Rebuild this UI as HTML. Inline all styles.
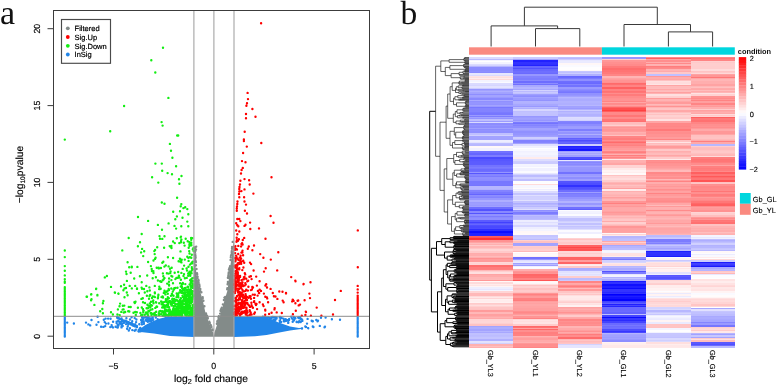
<!DOCTYPE html>
<html><head><meta charset="utf-8"><style>
html,body{margin:0;padding:0;background:#fff;width:778px;height:386px;overflow:hidden}
svg{display:block;will-change:transform;text-rendering:geometricPrecision;filter:blur(0.3px)}
</style></head><body>
<svg width="778" height="386" viewBox="0 0 778 386">
<rect width="778" height="386" fill="#fff"/>
<defs><clipPath id="pc"><rect x="53.5" y="10.5" width="316.0" height="338.0"/></clipPath></defs>
<g clip-path="url(#pc)">
<path d="M193.9 248 L194 249 L194.8 260 L195.8 269 L197.5 280 L199.1 288 L202.7 300 L205.6 313.5 L208.8 322 L213.2 332.7 L213.8 336.8 L193.9 336.8Z M233.9 236 L233.8 239 L232.2 253.3 L229.9 268.9 L229.2 275 L227.6 290 L223.3 304.5 L220.7 313.5 L218.8 319.4 L214.4 332.7 L213.8 336.8 L233.9 336.8Z" fill="#838B89"/>
<path d="M195.1 247.8h0M195.6 246.9h0M195.5 250.4h0M194.7 252.1h0M194.7 251.2h0M194.7 247.1h0M195.3 255.9h0M194.8 248.7h0M195.6 257.4h0M195.5 250.8h0M196.2 246.6h0M196 249.5h0M194.8 247.4h0M195.1 255.8h0M195.9 265.2h0M199.3 284.4h0M194.7 251.3h0M198.6 282.5h0M200.6 291.6h0M207 315.6h0M202.7 298.5h0M198.4 279.8h0M199.6 286.1h0M199.8 288.5h0M207.8 318.4h0M197.6 276.6h0M204.4 306.2h0M203.4 300.8h0M206 313.4h0M197 273.2h0M195.3 254.1h0M195.3 260.5h0M195.8 262.2h0M209.8 322.9h0M202.7 298.6h0M210.7 325h0M199.2 287.1h0M195.8 261.6h0M197.2 274.3h0M196.5 269h0M198.7 284.5h0M207.8 317.9h0M206.1 314h0M211.2 326.2h0M195.5 256h0M195.1 251.3h0M198.6 280.4h0M195.6 260.9h0M195.3 258.6h0M195.8 262.3h0M198.1 281h0M200.3 289h0M198.3 282.1h0M195.2 260.2h0M200.2 289.8h0M194.7 254.8h0M212.7 329.4h0M198.2 281.3h0M202.7 297.3h0M197.5 277.9h0M212.9 329.9h0M201.4 292.3h0M195 252.1h0M209.3 321.6h0M195.9 262h0M195.8 265.6h0M211.5 327.1h0M209.7 322.9h0M218.9 316.3h0M216.9 323.8h0M227.2 289.2h0M231 255.3h0M230 266.2h0M221.8 307.7h0M231.8 253.5h0M221.6 309.2h0M227.4 288.1h0M230.8 257.2h0M228.7 272.5h0M228.6 277h0M227.9 281.9h0M224.4 297.6h0M227.9 277.7h0M217.4 321.7h0M218.9 316.8h0M224.8 298.1h0M232.1 247h0M228.7 273.6h0M221 311.3h0M227.6 284.2h0M223.9 300h0M225.2 296.9h0M218.7 318.7h0M229.2 272.3h0M217.3 321.2h0M228.3 276.1h0M232.3 248.6h0M218.5 317.4h0M229.3 268.2h0M222.9 304.4h0M230.6 260h0M228.1 277.9h0M220.1 313.6h0M228.4 275.3h0M221 309.1h0M229.4 269.1h0M229.1 269.7h0M229.4 269.8h0M220.5 310.8h0M232 248.8h0M231.7 252.4h0M218 320.5h0M231.7 251.3h0M228 283.3h0M229.2 269.7h0M228.9 269.6h0M232.7 241.9h0M228.6 273.5h0" stroke="#838B89" stroke-width="2.4" stroke-linecap="round" fill="none"/>
<path d="M193.9 316.8 L168 316.8 L160 318.6 L152 321.5 L145 325.2 L141 328.3 L140 330.5 L136 331.5 L154 333.6 L170 335.9 L193.9 337.1Z M233.9 316.8 L262 316.8 L270 318.8 L278 322.3 L290 326.6 L299 328 L303.6 327.5 L301 329 L290 330.5 L278 332.8 L266.6 335.1 L255 336.3 L233.9 336.9Z" fill="#2185E8"/>
<path d="M129.1 323.2h0M117.5 318h0M123.1 320.9h0M130.3 323.6h0M121.6 318.5h0M119.6 318.8h0M136.7 326.1h0M137 327h0M126.5 321.1h0M140.6 328.4h0M125.3 321.6h0M132.3 323.9h0M126.8 321.8h0M120.2 319h0M118.8 318.2h0M121 318.9h0M119.1 318.8h0M133.1 324.1h0M123.8 320.6h0M128.1 322.9h0M120.9 318.8h0M140.1 328.3h0M140.3 328h0M140.2 328.1h0M124.5 320.9h0M126.2 321.7h0M128.4 322.4h0M129.2 323h0M117.2 317.4h0M126.6 322.1h0M118.1 318.2h0M122.7 320.1h0M131.1 323.2h0M132.8 324.6h0M134.2 325.7h0M124.9 320.7h0M140.6 328.9h0M132.5 325.2h0M118.1 318.4h0M132.1 323.6h0M134.6 325.7h0M129.6 323h0M129.2 323.5h0M136.9 326h0M131.1 324.5h0M133.7 324.7h0M122.6 320.2h0M125.7 321.5h0M119.6 318.9h0M132.1 323.9h0M132.1 324.2h0M117.2 317h0M136.2 326.3h0M129.9 322.9h0M132.9 325.5h0M123.1 320.5h0M118.9 318.2h0M122 320.4h0M134.8 326.2h0M126.2 321.6h0M128.5 322.5h0M131.8 323.6h0M132.5 324.8h0M123.2 320.4h0M134.9 325.5h0M117.4 318.1h0M118.5 318h0M133.6 325.8h0M133.2 324.8h0M128.2 323.1h0M128.2 323.3h0M121.9 320.3h0M140.5 328.4h0M128.1 322.5h0M136.7 327.1h0M121.8 321.3h0M128.8 330.5h0M128.3 324.6h0M124 322.8h0M135.8 329.8h0M134.7 330.7h0M122.4 323.5h0M121.7 325.4h0M119.5 323.5h0M141.7 330.4h0M140.5 331.2h0M129.9 328.2h0M127.1 328.7h0M117.7 324.9h0M124 322.5h0M121.5 327.4h0M122.7 326h0M118.7 321.3h0M118 321.1h0M116.6 323.1h0M116.6 321.7h0M121.5 326.2h0M139.7 328.6h0M126 324.1h0M117.7 325.3h0M132.3 330.1h0M120.3 322.2h0M121.2 323.9h0M138.6 330.3h0M134.6 330.6h0M127.7 326.4h0M140.9 329.6h0M138.8 331.6h0M118.5 325.6h0M135.2 324.2h0M136.1 322.1h0M131.6 317.3h0M136.4 319.5h0M139.3 324.2h0M126.4 318.3h0M134.7 318.1h0M132.2 321.3h0M130 319.5h0M141.6 322.5h0M141.9 320.7h0M147.2 319.3h0M146.1 319.4h0M151.6 319.2h0M142.4 317.5h0M149.9 318.9h0M141.9 324.4h0M151.2 321.1h0M150 318.7h0M141.1 320h0M146.6 320.9h0M152.7 317.4h0M141.8 321.5h0M142.1 317.2h0M148.4 316.8h0M141.7 319.5h0M147.8 321.7h0M149.9 320.5h0M143.1 319.1h0M142.7 317.2h0M143.3 317.9h0M153.1 319.5h0M146.4 319.6h0M147.6 318.6h0M149.8 321.4h0M143.8 322.3h0M165.7 317.3h0M148.9 318.2h0M153.1 319.8h0M143.9 323.7h0M157.7 319.3h0M151 318.4h0M146.5 319.7h0M146.5 316.9h0M146 320.4h0M155.8 317.5h0M143.7 321.3h0M143.5 318.7h0M148.6 320.3h0M146.5 316.9h0M145.4 317h0M111.6 325.1h0M113.1 321.7h0M110.6 318.8h0M105.9 323.6h0M110.3 327.1h0M113 327.4h0M103.4 326.9h0M104.7 322.1h0M117.8 327.4h0M103.8 319.7h0M108.4 323.5h0M108.1 318.6h0M105.2 326.1h0M111.8 326.5h0M67.2 322.6h0M73.9 323.5h0M86 322.6h0M88.4 324.4h0M90.2 325.4h0M91.5 320h0M97.6 316.8h0M98.4 322.1h0M96.5 324.8h0M101.1 326.8h0M105.6 318.6h0M115.6 326.8h0M117.4 327.5h0M284.6 321.2h0M274.6 319.7h0M285.9 319.8h0M289 319.9h0M280 317h0M287.4 320.2h0M294 320h0M266.4 317.7h0M279.7 317.4h0M280.1 320.4h0M293.9 320.4h0M295.4 318.2h0M302.3 320.2h0M300.2 317.3h0M299.7 318.3h0M275.1 317.1h0M269.5 317.9h0M300.4 321.6h0M298.7 318h0M294.2 317.6h0M283.8 321.3h0M284.8 320.9h0M298.2 317.5h0M285.7 319.3h0M293.4 319.9h0M302.3 320.9h0M289.2 319h0M279.7 320.4h0M298.7 317.7h0M262.9 316.8h0M276.6 317.5h0M276.6 318.4h0M285.9 320.9h0M281.5 317.7h0M300.4 318.5h0M268.1 317.5h0M288.2 322.9h0M294.1 319.6h0M272.8 316.9h0M288.4 320.7h0M292.1 318.5h0M299 317.1h0M283.8 319.6h0M271.7 317.2h0M293.9 316.9h0M286.9 320.3h0M288.3 322.5h0M274.3 317.1h0M298.5 322.3h0M291.3 316.8h0M296.6 322h0M281.1 322h0M280.6 318.4h0M292.7 321.7h0M296.7 321.8h0M279.9 322.3h0M283.5 318.7h0M300.7 322h0M275.5 318.5h0M299.2 321.2h0M275.4 320.3h0M275.7 319h0M273.6 319.7h0M266.9 317.9h0M272 317.2h0M264.3 316.9h0M273.8 317.1h0M271.4 318.6h0M265.3 317.4h0M275 320h0M301.9 319.5h0M307.6 318.9h0M311.7 320.7h0M312.8 321.3h0M317.5 321.3h0M318 320.7h0M321 317.8h0M325.6 317.6h0M331.9 319.2h0M340 319.8h0M307 323.6h0M312.8 326.5h0M313.4 327h0M308.2 328.2h0M319.8 325.9h0M325 326.8h0M305.3 326.5h0M300.9 319h0M316.3 319.9h0M312.7 321.4h0M324.5 327.2h0M308.1 328.1h0M306 327h0M302 328.5h0M64.8 317h0M357.7 317h0M64.8 318.3h0M357.7 318.3h0M64.8 319.6h0M357.7 319.6h0M64.8 320.9h0M357.7 320.9h0M64.8 322.2h0M357.7 322.2h0M64.8 323.5h0M357.7 323.5h0M64.8 324.8h0M357.7 324.8h0M64.8 326.1h0M357.7 326.1h0M64.8 327.4h0M357.7 327.4h0M64.8 328.7h0M357.7 328.7h0M64.8 330h0M357.7 330h0M64.8 331.3h0M357.7 331.3h0M64.8 332.6h0M357.7 332.6h0M64.8 333.9h0M357.7 333.9h0M64.8 335.2h0M357.7 335.2h0M64.8 336.5h0M357.7 336.5h0" stroke="#2185E8" stroke-width="2.4" stroke-linecap="round" fill="none"/>
<path d="M163 47.8h0M151.3 60.2h0M155.3 72.5h0M124.1 106h0M110.2 131.3h0M64.8 139.6h0M168.4 97.9h0M161.6 122.1h0M162.6 125.6h0M177.2 135.5h0M178.2 135.5h0M169.9 143.9h0M171 150.8h0M172.4 157.8h0M155.4 163.6h0M161.8 163.6h0M176.1 166.2h0M162.2 170.8h0M167.6 173.1h0M172 174.3h0M181.5 176h0M152.1 177.2h0M179 179.3h0M158.3 182.6h0M179.4 183.8h0M177.1 197.7h0M161.8 202.5h0M164.5 203.7h0M181.3 204.1h0M180.7 206.2h0M183.4 208.1h0M185.2 207.3h0M187.3 209.1h0M173.2 211.8h0M180 211.2h0M188.3 214.3h0M138 217h0M176.9 216.4h0M182.5 217.8h0M175.3 219.3h0M148.1 220.9h0M187.3 221.6h0M168.6 223.4h0M157.9 224.9h0M174.5 225.9h0M181.3 226.3h0M188.3 226.3h0M162 229.8h0M176.1 228.6h0M141.7 234h0M159.5 236.1h0M164.5 236.3h0M160 238.8h0M127.6 262.3h0M131.8 267.3h0M126 271.6h0M130.7 272.8h0M104.8 277.4h0M106.9 276h0M111 286.9h0M121 286.3h0M124.1 284.7h0M124.5 288.4h0M126 288h0M129.7 285.9h0M131.8 288.4h0M96.1 289h0M114.8 292.5h0M118.5 293.8h0M126.8 292.5h0M91.3 294.2h0M97.4 295h0M87 296.7h0M124.5 297.3h0M91.5 299.2h0M96.2 288.7h0M86.6 296.7h0M91.1 294.5h0M97.4 295.4h0M91.1 300.3h0M94.4 304.9h0M103.4 300.9h0M102.9 303.2h0M102.3 309h0M100.2 311.2h0M102.9 313.2h0M115 292.7h0M118.3 293.6h0M120.1 303.6h0M122.8 305.8h0M117.9 309.4h0M111 312.3h0M112.9 314.5h0M117.4 314.5h0M64.8 250.5h0M64.8 257.1h0M64.8 266.1h0M64.8 270.8h0M64.8 275.4h0M64.8 279.3h0M64.8 282.7h0M64.8 281.8h0M64.8 287.3h0M64.8 288.7h0M64.8 290.1h0M64.8 291.5h0M64.8 292.9h0M64.8 294.3h0M64.8 295.7h0M64.8 297.1h0M64.8 298.5h0M64.8 299.9h0M64.8 301.3h0M64.8 302.7h0M64.8 304.1h0M64.8 305.5h0M64.8 306.9h0M64.8 308.3h0M64.8 309.7h0M64.8 311.1h0M64.8 312.5h0M64.8 313.9h0M64.8 315.3h0M192.5 315.8h0M190.8 315.9h0M191.2 315.6h0M190.4 315.9h0M189.9 315.4h0M190 315.9h0M189.6 315.6h0M188.8 315.9h0M186.5 315.9h0M186.4 315.6h0M181.7 316h0M182.3 315.1h0M181.5 315.5h0M181.6 315.9h0M180.3 315.3h0M179.1 315.6h0M177 315.2h0M176 315.7h0M173.8 315.4h0M174.1 315.6h0M174.4 315.5h0M171.4 315.7h0M171.2 315.5h0M169 315.3h0M169.3 315.6h0M168.2 315.9h0M167.6 315.5h0M167.2 315.4h0M165.2 315.7h0M164 315.7h0M162.7 315.7h0M151.5 315.3h0M141.1 315.3h0M193.6 314.3h0M192.8 314.3h0M191.7 314.1h0M191 314.8h0M187.5 314.2h0M185.8 314.5h0M185.5 314.4h0M185.2 314.4h0M185.3 314.2h0M185.1 314.8h0M182.2 315h0M181.2 314.2h0M179 314.3h0M179.3 314.7h0M178.1 314.5h0M175.8 314.8h0M174.8 315.1h0M175 314.5h0M173.2 314.6h0M172.3 314.7h0M171.4 314.3h0M166.4 314.8h0M166.4 314.5h0M165.7 314.4h0M164.7 314.8h0M161 314.3h0M160.1 314.5h0M159 314.9h0M156.5 315.1h0M155 314.7h0M154.1 314.8h0M148.1 315.1h0M144.7 314.7h0M142.3 315h0M142.1 314.9h0M135.8 315h0M119.7 315.1h0M193.4 313.4h0M193.5 313.2h0M192.3 313.5h0M191.6 313.3h0M190.1 313.7h0M188.8 313.3h0M188.6 313.1h0M187.1 313.1h0M186.9 313.5h0M185 313.5h0M184.8 313.3h0M180.9 313.2h0M179.4 313.2h0M178.9 313.4h0M178.8 313.8h0M176.9 313.2h0M177.5 313.5h0M176.5 313.8h0M175.6 313.3h0M174.9 313.9h0M174.2 313.5h0M174.5 313.9h0M174.5 313.4h0M172.2 314h0M170.6 313.5h0M169.1 313.8h0M165.1 313.8h0M164.9 313.7h0M163.7 313.8h0M164.7 313.9h0M158.8 313.2h0M154.1 313.5h0M153.3 313.7h0M151.7 313.8h0M151.3 313.2h0M150.7 313.3h0M147.6 313.3h0M146.4 313.5h0M193.6 312.9h0M193.6 312.4h0M191.8 312.8h0M191.4 312.3h0M190.2 312.8h0M188.7 313h0M188.2 312.8h0M188.4 312.9h0M187.4 312.2h0M187.6 312.4h0M187.4 312.1h0M187.7 312.3h0M186.7 312.3h0M185.3 312.2h0M183.5 312.3h0M182.6 313h0M181.4 312.9h0M180.1 312.9h0M180.6 312.4h0M179.6 312.3h0M177.7 312.2h0M177.2 312.2h0M174.5 312.7h0M173.2 312.7h0M172 312.3h0M171 312.7h0M169.8 312.1h0M164.5 313h0M162.6 312.4h0M154.7 313h0M146.1 312.4h0M143.3 312.3h0M140.4 312.9h0M136.8 312.3h0M133.5 312.7h0M123.8 312.5h0M192.2 311.2h0M191.2 311.7h0M190.4 311.5h0M188.4 311.6h0M188.2 312h0M184.5 312h0M183.1 311.4h0M183.5 311.4h0M182.1 311.6h0M178.1 312.1h0M176.1 311.6h0M173.9 311.9h0M172.6 311.7h0M170.5 311.1h0M169.4 311.7h0M167.9 311.3h0M165.9 311.6h0M164.8 312h0M163.9 311.5h0M162.3 311.3h0M161.3 311.6h0M159.3 311.5h0M156.2 311.7h0M148.9 311.3h0M148.3 311.2h0M143.2 311.1h0M135.2 312h0M129.3 311.5h0M128.2 311.3h0M125.2 312h0M121.3 311.9h0M193.5 310.5h0M191.7 310.5h0M190.4 310.4h0M187.5 310.6h0M187.1 310.8h0M185.7 310.5h0M185.5 310.3h0M180.9 311h0M181.7 310.3h0M179.5 310.8h0M177.3 310.7h0M177.6 310.2h0M176.1 310.9h0M176.7 310.2h0M174.8 310.3h0M172.8 310.9h0M173.3 310.4h0M169.9 310.9h0M166.1 311h0M160.5 310.9h0M150.3 310.3h0M143.7 310.6h0M192.1 309.7h0M191.6 309.8h0M188.3 309.2h0M187.4 310.1h0M187 309.4h0M187.3 309.7h0M185.9 309.7h0M186.1 309.9h0M184.7 309.9h0M184.5 309.8h0M184.3 310.1h0M181.9 309.5h0M181.3 309.4h0M178.7 309.2h0M178.1 310.1h0M174.8 309.4h0M173 309.3h0M169.8 309.4h0M169.2 310h0M169 309.7h0M166.9 310.1h0M166.4 309.6h0M165.2 309.9h0M152.4 309.2h0M123.6 309.4h0M122.6 309.6h0M192.4 308.9h0M192.6 309.1h0M191.9 308.3h0M192.4 308.9h0M190.9 308.3h0M191 308.8h0M191.5 308.3h0M189.3 308.3h0M185.9 308.4h0M185.5 308.8h0M185.1 309h0M185 308.9h0M184.7 308.7h0M184.5 308.4h0M182.4 308.4h0M182.2 308.7h0M182.4 308.7h0M181.4 308.7h0M181.1 308.8h0M181.5 309h0M178.8 308.1h0M178.7 308.5h0M178 308.5h0M176.1 308.8h0M176.4 308.2h0M173.6 308.4h0M164.6 308.2h0M148 308.3h0M146.6 308.3h0M142.9 309h0M193.1 308h0M193.2 307.3h0M193.6 307.2h0M192.5 307.7h0M191.7 308h0M190.9 307.9h0M190 307.7h0M187.9 307.2h0M188.7 307.8h0M186.7 307.9h0M185.9 307.4h0M183.9 307.7h0M183.4 307.9h0M182.8 307.5h0M179.3 307.7h0M177.7 307.6h0M176.6 307.4h0M169.1 307.3h0M168.8 307.3h0M163.8 307.4h0M162.2 307.5h0M155.3 307.9h0M150.3 307.5h0M141.8 307.5h0M137.9 307.7h0M192.9 306.2h0M188.8 306.9h0M189.4 306.4h0M188 306.8h0M186.1 306.8h0M185.4 306.6h0M183.1 306.4h0M183.4 307h0M183.5 307h0M181.9 306.7h0M181.1 306.4h0M180 306.8h0M179.4 306.3h0M178.7 306.6h0M177.6 307.1h0M175.3 306.1h0M173.7 307h0M168.6 306.9h0M167.5 307.1h0M165.7 306.6h0M163.4 306.2h0M157.1 306.7h0M156.5 306.8h0M156.4 306.7h0M150.1 306.9h0M149.4 306.3h0M130.7 307h0M128.8 306.9h0M119.5 306.3h0M193.2 305.9h0M192.7 305.1h0M190.2 306h0M189 306h0M188.6 305.7h0M187.5 305.1h0M186.8 305.4h0M181.1 305.7h0M179.2 305.6h0M178.3 305.8h0M178.3 305.1h0M178.3 305.7h0M175.1 305.2h0M173.5 305.9h0M171.7 305.4h0M171.4 305.5h0M168 305.2h0M165.1 305.4h0M152 305.6h0M148.2 305.6h0M124.3 305.6h0M193.3 304.8h0M189.5 304.4h0M185.1 304.2h0M182.3 305.1h0M179.3 304.5h0M178.3 304.5h0M176.7 304.4h0M175.6 304.3h0M171.1 304.6h0M171.2 304.3h0M168.2 304.6h0M167 304.7h0M163.6 304.9h0M161.6 304.3h0M150.8 305h0M147.4 304.8h0M191 303.3h0M189.8 303.7h0M189.3 303.5h0M187.1 303.9h0M186.2 303.4h0M186 303.8h0M183.8 303.9h0M181 303.8h0M180.8 303.4h0M177.9 303.8h0M171.9 303.9h0M171.7 303.7h0M171.1 303.9h0M162.8 303.1h0M162.4 303.8h0M159.2 303.2h0M153.5 303.2h0M149.8 303.4h0M191.2 302.6h0M189.2 302.6h0M181.8 303.1h0M180.9 302.5h0M179.9 302.9h0M174.1 302.9h0M172.6 302.9h0M170.1 302.4h0M168.9 302.6h0M167.8 302.7h0M156.2 302.6h0M155.9 302.2h0M145 303h0M143 302.3h0M134.8 303h0M134.4 302.3h0M192.1 301.3h0M191.9 302.1h0M191.6 301.3h0M189.4 301.9h0M187.6 301.8h0M187 301.7h0M186 302.1h0M185.9 301.9h0M184.5 301.2h0M183.3 301.6h0M181.7 301.9h0M181.2 302.1h0M178.9 301.8h0M175.3 301.2h0M174.6 301.5h0M172 301.5h0M168.3 301.1h0M166.1 301.7h0M164 302.1h0M161.1 301.5h0M161.7 301.7h0M152.9 301.4h0M151 301.8h0M135.5 301.8h0M191.1 300.4h0M190.3 300.2h0M189.1 300.8h0M187.9 300.5h0M186.5 301h0M185 300.7h0M184.4 300.5h0M182.9 300.7h0M182.8 300.4h0M180.5 300.2h0M177.6 300.8h0M173.1 300.7h0M169.9 300.9h0M165.9 300.5h0M165.8 301h0M153.3 300.4h0M192.5 299.2h0M190.7 300h0M191.2 300h0M191.2 299.4h0M190.4 299.9h0M186.3 299.9h0M185.4 299.5h0M183.8 299.2h0M184 299.4h0M180.1 299.8h0M176.7 299.9h0M174.6 300h0M174.5 299.3h0M172.2 299.3h0M172.6 300h0M165.8 299.1h0M192.5 298.1h0M192.5 298.7h0M191 299.1h0M191.6 298.1h0M190.7 298.9h0M189 298.2h0M188.5 299.1h0M187.9 299h0M186.9 298.9h0M187.2 299h0M185.8 298.5h0M185.9 298.6h0M186.1 298.5h0M185.6 298.6h0M180.9 298.3h0M174.3 299h0M172.6 298.7h0M167.7 299h0M157.9 298.2h0M149 298.8h0M142.8 298.3h0M141.4 298.9h0M192.8 297.4h0M192.5 297.8h0M191.4 297.4h0M190.3 297.4h0M188.9 297.9h0M186.4 297.1h0M185 297.5h0M184.6 298h0M178.4 297.3h0M168.9 298.1h0M167.8 297.3h0M163 297.5h0M158 297.5h0M152 298h0M189.6 296.9h0M187.8 296.1h0M186.8 296.6h0M184.6 296.8h0M183 297h0M176.5 297.1h0M162.8 296.7h0M162.5 296.5h0M161.5 297.1h0M155 297.1h0M154.2 296.6h0M152.7 296.5h0M149.5 296.1h0M193.4 295.2h0M193.3 296h0M192.7 295.8h0M190.2 295.3h0M189.9 295.4h0M185.9 295.2h0M185.6 295.2h0M182.5 295.7h0M178.2 295.4h0M177.2 295.4h0M173.5 295.7h0M172.3 295.1h0M171 295.7h0M158.3 295.4h0M149.9 295.5h0M146.9 295.8h0M127.6 295.2h0M189.4 294.3h0M188.2 294.9h0M187.6 294.9h0M186 294.9h0M185.1 294.9h0M185 294.3h0M184.6 294.4h0M165.4 294.4h0M158.4 294.8h0M150.2 294.9h0M192.6 293.3h0M191.6 293.7h0M189.4 293.3h0M183.5 293.3h0M178.4 293.4h0M176.7 293.5h0M177.4 293.6h0M171.9 293.8h0M167.8 293.8h0M154.9 293.3h0M138.9 293.3h0M191.5 292.8h0M191.5 293h0M188.6 293h0M187.2 292.7h0M186.1 292.2h0M186.2 292.2h0M184.8 292.5h0M182.2 292.7h0M181.5 292.7h0M179.6 292.2h0M164.3 292.4h0M163.8 292.9h0M154.9 292.9h0M154.8 292.5h0M144.8 292.5h0M192.9 291.2h0M191.6 292h0M190.6 291.6h0M187.9 291.9h0M172.8 291.6h0M166.3 291.7h0M147.3 291.2h0M191.4 290.8h0M190 291.1h0M187.5 291h0M184.8 290.2h0M182.8 290.7h0M181.3 291h0M180.1 290.1h0M167.7 290.7h0M164.5 290.9h0M164.5 290.7h0M149.8 290.5h0M123.4 290.3h0M190.8 289.3h0M188.8 289.5h0M186.9 290h0M184 289.8h0M174.1 289.3h0M173.9 289.6h0M173.8 289.7h0M173.6 289.4h0M169 290h0M184.5 288.2h0M182.1 288.1h0M182.3 288.6h0M174.3 288.2h0M171.3 288.5h0M168.7 289h0M160 289.1h0M160.7 288.7h0M159.1 289.1h0M144 289h0M142 288.8h0M137 288.9h0M137 288.5h0M192.9 287.9h0M188 287.3h0M185.5 288h0M177.5 287.8h0M175.3 287.9h0M149.4 287.4h0M141.6 287.6h0M192 286.7h0M190.7 286.7h0M188.1 286.9h0M187.6 286.7h0M181.8 286.3h0M181.8 286.5h0M180.8 286.5h0M159.3 286.8h0M193.3 285.8h0M192.5 285.8h0M190.8 285.2h0M191.3 285.9h0M190.6 285.2h0M169.1 285.5h0M154.8 285.9h0M146.3 285.9h0M135.2 285.9h0M193.4 284.5h0M189.6 284.4h0M185.3 284.1h0M169 284.6h0M192.8 283.8h0M182.7 283.7h0M182.9 283.8h0M182 283.9h0M180.1 283.2h0M173 283.3h0M167.2 283.6h0M190.6 282.9h0M182.8 282.9h0M141.7 282.3h0M193.3 281.2h0M192.1 281.5h0M191.6 281.8h0M169 281.7h0M161.3 281.9h0M160.1 281.3h0M192.4 280.9h0M191 281h0M190.1 280.2h0M162.7 280.2h0M157.9 280.5h0M126.9 280.9h0M190.9 279.4h0M180.9 279.8h0M171.4 280.1h0M163.7 279.2h0M191.9 278.5h0M192.5 278.1h0M184.9 278.3h0M175.4 279.1h0M169.1 278.5h0M152.7 278.2h0M134.2 278.5h0M193.3 277.9h0M186.7 277.9h0M179.4 277.6h0M177.9 277.7h0M176.4 277.9h0M164.5 278.1h0M155.9 277.2h0M172.3 276.5h0M163.3 276.3h0M139.9 276.3h0M190.3 275.7h0M188.2 275.7h0M183.5 276h0M178.9 275.7h0M171.4 276h0M147.2 275.5h0M191.6 273.2h0M190 273.9h0M188.2 273.4h0M184 274.1h0M170.3 273.1h0M168.5 273.6h0M166.9 273.3h0M162.9 273.4h0M126.5 274h0M190.7 272.3h0M181.4 272.9h0M174.7 272.8h0M153.5 273h0M189.5 271.8h0M178.2 272h0M170.6 271.5h0M191.7 270.6h0M187 270.6h0M153.4 271.1h0M151.9 271h0M192.7 269.3h0M191.9 268.6h0M186.6 268.4h0M182.7 268.9h0M170 268.8h0M158.8 268.4h0M151.7 269h0M171.7 267.7h0M160.9 268h0M158.6 267.7h0M156.7 267.8h0M129.2 267.3h0M191.8 267.1h0M188.5 266.7h0M168.6 266.4h0M164.4 266.6h0M137.4 266.9h0M131.8 266.7h0M184.1 265.6h0M165.8 265.4h0M150.9 266.1h0M190 264.6h0M192.5 263.3h0M191.2 263.5h0M181.4 262.4h0M181.2 262.2h0M162.3 262.8h0M192.9 261.6h0M192.4 261.9h0M180.2 261.5h0M178.6 261.2h0M163.3 261.7h0M148.1 262h0M188.6 260.9h0M181.4 260.2h0M153.5 260.5h0M184.8 259.6h0M181.7 259.7h0M179.9 258.8h0M155 258.9h0M191.3 257.8h0M189.9 257.2h0M188.3 257.7h0M173.1 258h0M167.9 257.2h0M155.6 257.8h0M187.3 256.8h0M143.2 256.1h0M191.8 254.8h0M189.5 253.5h0M154.7 254.1h0M141.1 252.4h0M189.2 251.1h0M180.5 251.4h0M154.3 251.1h0M144.2 251.3h0M193.6 250.9h0M122.3 250.4h0M192.8 249.3h0M155.1 250h0M142.1 248.9h0M193.5 248h0M188.7 247.7h0M171.5 248h0M164.1 247.8h0M157.2 247.3h0M169.7 246.1h0M170.2 246.5h0M137.9 246.3h0M191.4 245.3h0M189.5 245.8h0M184.6 245.6h0M171.4 245.9h0M189.4 244.3h0M191.2 244.1h0M191.3 242.8h0M189.5 242.1h0M183.8 242.7h0M181 242.3h0M179.3 243.1h0M174.8 243.1h0M140 242.3h0M187.7 241.2h0M181 241.3h0M173.1 241.5h0M191.2 239.7h0M181.4 239.6h0M192.3 238.1h0M185.7 238.8h0M176.8 238.2h0M162.3 238.9h0M191.1 238h0M180.7 237.3h0M128.7 238h0M181 236.6h0" stroke="#12EE12" stroke-width="2.4" stroke-linecap="round" fill="none"/>
<path d="M261.1 23.3h0M247.6 92.9h0M248 99.1h0M247 103.2h0M246.4 105.7h0M252.4 109h0M246 114h0M255.5 116.7h0M246 118.2h0M244.7 131.8h0M243.9 139.5h0M243.9 141h0M261.3 143h0M246.8 146.6h0M243.1 153h0M242 161.1h0M245.5 162.3h0M242.8 167.9h0M241.6 170h0M241 173.5h0M271.5 177.2h0M240.4 180.7h0M244.5 179.1h0M249.1 180.3h0M240 184.5h0M249.7 184.5h0M239.5 186.9h0M239.3 189h0M239.3 191.5h0M239 194h0M239.3 197.3h0M244.5 189.4h0M241.4 191.1h0M253.4 193.6h0M244.1 197.3h0M237.5 201.5h0M237.3 204h0M237 206.5h0M236.8 208.5h0M236.8 210.8h0M244.5 201.5h0M246 204.6h0M244.9 210.8h0M247 213.5h0M270.6 216h0M237.3 219h0M239.3 219h0M240.4 221.1h0M250.1 222.6h0M273.5 222.8h0M236.2 223.2h0M237.3 225.3h0M238.3 226.3h0M245.5 224.7h0M244.5 225.9h0M259 228.4h0M250.3 229h0M236.2 230.5h0M239.3 231.5h0M237.3 234.2h0M270.8 259.6h0M295.3 280.8h0M303.5 284.3h0M266.2 284.3h0M286 293.4h0M293 300h0M297.6 300.7h0M283.6 302.3h0M275.5 296.5h0M300 304.6h0M305.8 311.6h0M357.8 230.4h0M357.8 267.3h0M295.5 281.3h0M303.6 284h0M310.5 282.2h0M340.8 290.9h0M309.4 293.6h0M310 298.1h0M335 300h0M292.7 299.6h0M292.2 301.4h0M293.6 300.9h0M298.2 300.5h0M295.4 303.2h0M298.7 305.4h0M316.7 307.6h0M295.8 310.8h0M306 312.1h0M305.4 315h0M310.9 315.7h0M301.8 315.7h0M321.4 315.7h0M333 314.5h0M357.7 285.9h0M357.7 289.4h0M357.7 292.6h0M357.7 295.6h0M357.7 296.9h0M357.7 298.2h0M357.7 299.5h0M357.7 300.8h0M357.7 302.1h0M357.7 303.4h0M357.7 304.7h0M357.7 306h0M357.7 307.3h0M357.7 308.6h0M357.7 309.9h0M357.7 311.2h0M357.7 312.5h0M357.7 313.8h0M357.7 315.1h0M235.1 315.4h0M235.6 315.7h0M236.9 315.2h0M240 315.7h0M247.5 315.7h0M234.6 314.6h0M234.3 314.2h0M236.6 314.6h0M239.3 314.1h0M245.8 314.5h0M249.7 315h0M251.6 314.5h0M265.2 314.8h0M292.9 314.3h0M236.6 314.1h0M239.5 313.6h0M240.8 313.5h0M241.5 314h0M245.9 313.3h0M246.8 313.2h0M250.6 313.6h0M254.2 313.7h0M269.1 313.9h0M234.4 312.6h0M234.7 312.7h0M236.2 312.9h0M237.9 312.8h0M241.2 312.7h0M241.9 312.6h0M242.2 312.1h0M242.6 313h0M244.4 312.6h0M245.3 312.7h0M247.6 312.2h0M250.7 312.5h0M254.9 312.5h0M271.6 312.8h0M276.7 312.4h0M281.8 313h0M234.9 311.9h0M235.6 311.4h0M237.2 311.2h0M236.6 311.2h0M237.4 311.9h0M241.8 311.7h0M242.7 311.9h0M244.5 311.2h0M250 311.2h0M236.5 310.9h0M237.8 310.9h0M237.7 310.5h0M239.2 311h0M246 311h0M247 310.5h0M246.6 310.9h0M249.7 310.2h0M265.3 310.5h0M234.6 309.3h0M235.6 309.9h0M235.5 309.2h0M237.5 310.1h0M237.3 309.3h0M239.1 309.7h0M238.6 309.2h0M239.5 310h0M246.2 310.1h0M257.1 309.1h0M265.2 309.7h0M274.5 309.4h0M235.4 309.1h0M236.5 308.2h0M241.2 308.8h0M246.5 308.2h0M274.7 308.1h0M236.5 307.7h0M236.7 308.1h0M237.5 308.1h0M238.9 307.2h0M239.5 307.5h0M239.6 307.9h0M241.5 307.6h0M242.8 307.9h0M243.7 307.8h0M243.6 307.1h0M244.2 307.1h0M244.9 307.2h0M246.5 307.7h0M252.7 307.4h0M252.9 307.7h0M234.5 306.3h0M235.6 306.4h0M235.8 306.2h0M235.9 306.7h0M238.6 307h0M240.9 306.3h0M241.4 306.4h0M243.6 306.2h0M250 306.9h0M263.6 306.1h0M235.8 305.6h0M235.3 305.4h0M237.3 305.3h0M237.3 305.4h0M237.4 305.4h0M240.7 305.1h0M241.9 305.7h0M248.8 305.3h0M251.5 305.3h0M251.8 306.1h0M256 305.1h0M236.9 304.8h0M237.9 304.6h0M242.6 304.4h0M245.2 304.7h0M262.9 304.5h0M237.1 303.4h0M236.3 303.2h0M239.1 303.6h0M243.2 303.6h0M243.9 303.5h0M244.7 303.3h0M247.7 304.1h0M255.4 303.7h0M256.5 304h0M236.1 302.3h0M238.7 302.8h0M240.8 303h0M242.1 302.5h0M243.8 303.1h0M246.4 302.7h0M247.3 302.9h0M251.4 302.7h0M259.6 302.2h0M268.1 302.3h0M235.4 301.2h0M236.3 301.5h0M242.2 301.8h0M242.8 301.5h0M244.4 302h0M244.5 301.1h0M254 301.9h0M254.2 301.1h0M234.7 300.9h0M242.1 300.3h0M282.7 300.6h0M304.6 300.3h0M235.8 299.9h0M235.7 299.3h0M236.8 299.9h0M238.5 299.7h0M240.1 299.2h0M245.7 300h0M247 299.9h0M239.1 298.2h0M243.3 298.3h0M251 298.8h0M267.2 298.4h0M277.4 298.9h0M235.4 298.1h0M235.9 297.7h0M240 297.3h0M242.8 297.2h0M245.9 297.9h0M245.2 298.1h0M247.1 297.1h0M248.4 297.8h0M249.7 297.3h0M250 297.2h0M254.1 297.9h0M266.9 297.5h0M236.9 296.1h0M237.2 296.3h0M244.6 296.4h0M246.1 296.3h0M246.9 296.9h0M249.5 296.2h0M250.6 296.3h0M265.3 296.7h0M273.9 296.3h0M238.8 295.4h0M239.4 295.2h0M239.8 295.2h0M241.3 296h0M245.8 295.7h0M257.6 295.6h0M238.8 294.8h0M239.4 294.4h0M241.1 294.6h0M240.8 294.5h0M243.1 294.8h0M242.9 294.9h0M245.6 294.1h0M252.8 294.6h0M254.8 294.8h0M238.5 294.1h0M263.9 293.6h0M235 293.1h0M238 292.1h0M239.9 292.3h0M241.7 292.8h0M258.9 293h0M259.2 293h0M272.8 293h0M286 292.9h0M234.8 291.6h0M234.3 291.8h0M243.7 291.4h0M243.7 291.4h0M279.3 291.5h0M282.5 291.7h0M235.7 290.6h0M237.9 290.9h0M238.3 290.9h0M242.6 290.3h0M245.4 290.9h0M247.9 290.6h0M257.9 290.9h0M261 290.9h0M235 289.5h0M239.1 289.1h0M246.2 289.6h0M250.9 290.1h0M251.9 289.5h0M259.6 289.6h0M235.4 288.3h0M235.9 289h0M235.3 289h0M237.9 288.7h0M238.4 288.7h0M241.5 288.5h0M270.6 288.9h0M234.6 287.7h0M240.4 287.8h0M253 287.5h0M267 287.5h0M235.8 287h0M236.4 286.1h0M240.3 286.4h0M248.4 286.7h0M252.3 286.9h0M234.8 286.1h0M236.5 285.5h0M237.6 285.3h0M238.9 285.8h0M241.1 285.6h0M241.6 286.1h0M242.7 285.6h0M243.5 286h0M244.7 285.4h0M256.9 285.6h0M265.4 285.5h0M234.4 285h0M235.4 284.2h0M238.3 285.1h0M240.2 284.5h0M240.4 284.2h0M242 284.3h0M242.9 285.1h0M245.7 284.4h0M234.5 283.8h0M236 283.6h0M235.3 283.9h0M235.3 284h0M240.7 283.2h0M245.3 283.1h0M235.4 282.5h0M237.6 282.3h0M238.7 282.7h0M242.5 282.5h0M234.8 281.4h0M235 281.4h0M236 281.5h0M236.8 281.2h0M237.3 281.9h0M247.3 281.2h0M259.6 281.2h0M238.8 280.7h0M238.2 280.8h0M241.5 280.2h0M248.2 280.7h0M234.7 280h0M238 279.7h0M237.9 280h0M237.5 279.2h0M238.7 279.7h0M243 279.4h0M243.8 279.3h0M235.3 278.5h0M239 278.4h0M238.5 279h0M246.2 278.7h0M251.6 279.1h0M235.2 278h0M236.4 277.8h0M238.9 278h0M243.9 277.1h0M244.3 277.7h0M238.2 276.8h0M238.3 276.3h0M240.1 276.9h0M244.5 276.9h0M249.4 276.7h0M250.9 276.3h0M256.2 276.6h0M291.2 277.1h0M234.8 275.7h0M237 276.1h0M237.2 275.9h0M240.1 276h0M237.9 274.9h0M237.3 275.1h0M237.5 274.3h0M245.2 274.4h0M235.3 273.8h0M235.2 273.6h0M236.7 273.1h0M244.8 273.2h0M236 272.2h0M236.7 272.8h0M237.3 272.5h0M237.9 273h0M235.5 271.2h0M237.5 271.3h0M264 271.6h0M236.7 270.4h0M253.6 270.5h0M277.2 270.4h0M239.3 269.2h0M242.3 270.1h0M237.1 269h0M236.4 268.2h0M239 269h0M265.7 268.3h0M235 267.2h0M236.8 267.2h0M239.3 268.1h0M243.4 267.5h0M234.5 266.3h0M235.1 266.5h0M234.9 265.7h0M235.2 265.5h0M237.4 265.6h0M236.8 264.6h0M251.1 264.1h0M238 263.2h0M238.9 263.3h0M239.5 263.2h0M239.3 263.9h0M241.2 263.8h0M244.2 262.8h0M250 262.6h0M235.5 261.4h0M240.4 261.7h0M241.3 261.9h0M240.6 260.2h0M243.2 260.7h0M235.7 260h0M235.7 259.2h0M238.2 259.4h0M238.8 260.1h0M236.9 258.1h0M241.1 258.4h0M235.1 258.1h0M235.6 257.7h0M239.7 257.6h0M263.4 257.7h0M236.4 256.4h0M236.1 255.6h0M240.6 255.7h0M243.1 255.3h0M260.2 254.1h0M238.2 254h0M235.1 253.1h0M241.4 252.6h0M242.4 252.6h0M278.3 252.3h0M242.5 250.7h0M252.4 250.3h0M234.9 249.9h0M237 249.5h0M235.2 248.4h0M236.1 248.9h0M235.8 248.7h0M247.8 248.7h0M234.6 246.8h0M235.4 246.1h0M241.1 246.4h0M248.8 246.5h0M238.3 245.9h0M254 245.5h0M242.6 244.5h0M241.5 243.9h0M242.1 243.1h0M236.5 241.7h0M236.9 240.1h0M236.9 240.2h0M237.1 240.5h0M238 240.7h0M238.9 239.2h0M242.8 240h0M265.5 238.7h0M236.7 237.8h0M244.2 237.9h0" stroke="#FF0000" stroke-width="2.4" stroke-linecap="round" fill="none"/>
</g>
<line x1="193.9" y1="10.5" x2="193.9" y2="348.5" stroke="#A4A4A4" stroke-width="1.1"/>
<line x1="213.9" y1="10.5" x2="213.9" y2="348.5" stroke="#A4A4A4" stroke-width="1.1"/>
<line x1="234.0" y1="10.5" x2="234.0" y2="348.5" stroke="#A4A4A4" stroke-width="1.1"/>
<line x1="53.5" y1="316.3" x2="369.5" y2="316.3" stroke="#8C8C8C" stroke-width="1"/>
<rect x="53.5" y="10.5" width="316.0" height="338.0" fill="none" stroke="#3C3C3C" stroke-width="1"/>
<path d="M113.5 348.5V354.5M213.8 348.5V354.5M314.1 348.5V354.5M47.5 336.2H53.5M47.5 259.3H53.5M47.5 182.4H53.5M47.5 105.6H53.5M47.5 28.7H53.5" stroke="#3C3C3C" stroke-width="1" fill="none"/>
<text x="113.5" y="369" font-size="8.8" text-anchor="middle" fill="#000" stroke="#000" stroke-width="0.15" font-family="Liberation Sans, sans-serif">−5</text>
<text x="213.8" y="369" font-size="8.8" text-anchor="middle" fill="#000" stroke="#000" stroke-width="0.15" font-family="Liberation Sans, sans-serif">0</text>
<text x="314.1" y="369" font-size="8.8" text-anchor="middle" fill="#000" stroke="#000" stroke-width="0.15" font-family="Liberation Sans, sans-serif">5</text>
<text transform="translate(40 336.2) rotate(-90)" font-size="8.8" text-anchor="middle" fill="#000" stroke="#000" stroke-width="0.15" font-family="Liberation Sans, sans-serif">0</text>
<text transform="translate(40 259.3) rotate(-90)" font-size="8.8" text-anchor="middle" fill="#000" stroke="#000" stroke-width="0.15" font-family="Liberation Sans, sans-serif">5</text>
<text transform="translate(40 182.4) rotate(-90)" font-size="8.8" text-anchor="middle" fill="#000" stroke="#000" stroke-width="0.15" font-family="Liberation Sans, sans-serif">10</text>
<text transform="translate(40 105.6) rotate(-90)" font-size="8.8" text-anchor="middle" fill="#000" stroke="#000" stroke-width="0.15" font-family="Liberation Sans, sans-serif">15</text>
<text transform="translate(40 28.7) rotate(-90)" font-size="8.8" text-anchor="middle" fill="#000" stroke="#000" stroke-width="0.15" font-family="Liberation Sans, sans-serif">20</text>
<text x="211" y="382" font-size="10.3" text-anchor="middle" fill="#000" stroke="#000" stroke-width="0.15" font-family="Liberation Sans, sans-serif">log<tspan font-size="7.2" dy="2">2</tspan><tspan dy="-2"> fold change</tspan></text>
<text transform="translate(23.2 174.6) rotate(-90)" font-size="10.3" text-anchor="middle" fill="#000" stroke="#000" stroke-width="0.15" font-family="Liberation Sans, sans-serif">−log<tspan font-size="6.6" dy="2">10</tspan><tspan dy="-2">pvalue</tspan></text>
<rect x="61.5" y="19.5" width="49" height="43.8" fill="#fff" stroke="#4A4A4A" stroke-width="1.15"/>
<circle cx="67.8" cy="28.3" r="1.9" fill="#838B89"/>
<text x="74.6" y="31" font-size="7.5" fill="#000" stroke="#000" stroke-width="0.2" font-family="Liberation Sans, sans-serif">Filtered</text>
<circle cx="67.8" cy="37" r="1.9" fill="#FF0000"/>
<text x="74.6" y="39.7" font-size="7.5" fill="#000" stroke="#000" stroke-width="0.2" font-family="Liberation Sans, sans-serif">Sig.Up</text>
<circle cx="67.8" cy="45.8" r="1.9" fill="#12EE12"/>
<text x="74.6" y="48.5" font-size="7.5" fill="#000" stroke="#000" stroke-width="0.2" font-family="Liberation Sans, sans-serif">Sig.Down</text>
<circle cx="67.8" cy="54.5" r="1.9" fill="#2185E8"/>
<text x="74.6" y="57.2" font-size="7.5" fill="#000" stroke="#000" stroke-width="0.2" font-family="Liberation Sans, sans-serif">InSig</text>
<text x="0" y="23.8" font-size="34" fill="#111" font-family="Liberation Serif, serif">a</text>
<text x="400.6" y="23.8" font-size="33.5" fill="#111" font-family="Liberation Serif, serif">b</text>
<g shape-rendering="crispEdges"><rect x="469" y="57" width="44.7" height="1.8" fill="#dbdbff"/><rect x="469" y="58.5" width="44.7" height="1.3" fill="#bbbbff"/><rect x="469" y="59.5" width="44.7" height="1.8" fill="#f3f3ff"/><rect x="469" y="61" width="44.7" height="1.3" fill="#fefeff"/><rect x="469" y="62" width="44.7" height="1.8" fill="#f3f3ff"/><rect x="469" y="63.5" width="44.7" height="1.3" fill="#dbdbff"/><rect x="469" y="64.5" width="44.7" height="1.3" fill="#d3d3ff"/><rect x="469" y="65.5" width="44.7" height="2.1" fill="#b5b5ff"/><rect x="469" y="67.3" width="44.7" height="2.3" fill="#8c8cff"/><rect x="469" y="69.3" width="44.7" height="1.8" fill="#8b8bff"/><rect x="469" y="70.8" width="44.7" height="1.8" fill="#8e8eff"/><rect x="469" y="72.3" width="44.7" height="1.2" fill="#8989ff"/><rect x="469" y="73.2" width="44.7" height="2.3" fill="#e6e6ff"/><rect x="469" y="75.2" width="44.7" height="0.9" fill="#dadaff"/><rect x="469" y="75.8" width="44.7" height="1.3" fill="#ffe3e3"/><rect x="469" y="76.8" width="44.7" height="1.3" fill="#ffdede"/><rect x="469" y="77.8" width="44.7" height="1.8" fill="#ffecec"/><rect x="469" y="79.3" width="44.7" height="1" fill="#ffd9d9"/><rect x="469" y="80" width="44.7" height="2.3" fill="#f3f3ff"/><rect x="469" y="82" width="44.7" height="0.9" fill="#fafaff"/><rect x="469" y="82.6" width="44.7" height="2.3" fill="#dadaff"/><rect x="469" y="84.6" width="44.7" height="1.8" fill="#d5d5ff"/><rect x="469" y="86.1" width="44.7" height="2.3" fill="#e2e2ff"/><rect x="469" y="88.1" width="44.7" height="0.8" fill="#cbcbff"/><rect x="469" y="88.6" width="44.7" height="1.3" fill="#9595ff"/><rect x="469" y="89.6" width="44.7" height="1.3" fill="#a2a2ff"/><rect x="469" y="90.6" width="44.7" height="1.3" fill="#afafff"/><rect x="469" y="91.6" width="44.7" height="1.8" fill="#a3a3ff"/><rect x="469" y="93.1" width="44.7" height="1.3" fill="#a1a1ff"/><rect x="469" y="94.1" width="44.7" height="1.3" fill="#8e8eff"/><rect x="469" y="95.1" width="44.7" height="2.3" fill="#a3a3ff"/><rect x="469" y="97.1" width="44.7" height="1.3" fill="#9999ff"/><rect x="469" y="98.1" width="44.7" height="1.8" fill="#8989ff"/><rect x="469" y="99.6" width="44.7" height="1.8" fill="#a9a9ff"/><rect x="469" y="101.1" width="44.7" height="1.3" fill="#9090ff"/><rect x="469" y="102.1" width="44.7" height="2.3" fill="#9595ff"/><rect x="469" y="104.1" width="44.7" height="1.3" fill="#9393ff"/><rect x="469" y="105.1" width="44.7" height="1.3" fill="#a3a3ff"/><rect x="469" y="106.1" width="44.7" height="1.2" fill="#9999ff"/><rect x="469" y="107" width="44.7" height="1.3" fill="#7878ff"/><rect x="469" y="108" width="44.7" height="2.3" fill="#8484ff"/><rect x="469" y="110" width="44.7" height="1.8" fill="#8383ff"/><rect x="469" y="111.5" width="44.7" height="1.3" fill="#7b7bff"/><rect x="469" y="112.5" width="44.7" height="2.3" fill="#7777ff"/><rect x="469" y="114.5" width="44.7" height="1.3" fill="#9a9aff"/><rect x="469" y="115.5" width="44.7" height="1.8" fill="#7d7dff"/><rect x="469" y="117" width="44.7" height="0.6" fill="#7474ff"/><rect x="469" y="117.3" width="44.7" height="1.3" fill="#a2a2ff"/><rect x="469" y="118.3" width="44.7" height="1.3" fill="#9494ff"/><rect x="469" y="119.3" width="44.7" height="2.3" fill="#bebeff"/><rect x="469" y="121.3" width="44.7" height="0.5" fill="#9c9cff"/><rect x="469" y="121.5" width="44.7" height="1.3" fill="#d9d9ff"/><rect x="469" y="122.5" width="44.7" height="1" fill="#e7e7ff"/><rect x="469" y="123.2" width="44.7" height="2.3" fill="#8c8cff"/><rect x="469" y="125.2" width="44.7" height="1.3" fill="#9494ff"/><rect x="469" y="126.2" width="44.7" height="1.8" fill="#8e8eff"/><rect x="469" y="127.7" width="44.7" height="1.3" fill="#a0a0ff"/><rect x="469" y="128.7" width="44.7" height="1.3" fill="#8d8dff"/><rect x="469" y="129.7" width="44.7" height="1.8" fill="#9292ff"/><rect x="469" y="131.2" width="44.7" height="1.7" fill="#8f8fff"/><rect x="469" y="132.6" width="44.7" height="2.3" fill="#c0c0ff"/><rect x="469" y="134.6" width="44.7" height="1.3" fill="#d0d0ff"/><rect x="469" y="135.6" width="44.7" height="0.7" fill="#a2a2ff"/><rect x="469" y="136" width="44.7" height="1.8" fill="#a3a3ff"/><rect x="469" y="137.5" width="44.7" height="2.3" fill="#a2a2ff"/><rect x="469" y="139.5" width="44.7" height="2.3" fill="#ededff"/><rect x="469" y="141.5" width="44.7" height="1.3" fill="#e3e3ff"/><rect x="469" y="142.5" width="44.7" height="0.7" fill="#ececff"/><rect x="469" y="142.9" width="44.7" height="1.3" fill="#bebeff"/><rect x="469" y="143.9" width="44.7" height="2.3" fill="#b8b8ff"/><rect x="469" y="145.9" width="44.7" height="0.7" fill="#c9c9ff"/><rect x="469" y="146.3" width="44.7" height="1.8" fill="#fff8f8"/><rect x="469" y="147.8" width="44.7" height="2.3" fill="#f2f2ff"/><rect x="469" y="149.8" width="44.7" height="1.3" fill="#f1f1ff"/><rect x="469" y="150.8" width="44.7" height="0.9" fill="#e8e8ff"/><rect x="469" y="151.4" width="44.7" height="2.3" fill="#7272ff"/><rect x="469" y="153.4" width="44.7" height="2.3" fill="#6666ff"/><rect x="469" y="155.4" width="44.7" height="1.9" fill="#7d7dff"/><rect x="469" y="157" width="44.7" height="1.8" fill="#4a4aff"/><rect x="469" y="158.5" width="44.7" height="2.3" fill="#5757ff"/><rect x="469" y="160.5" width="44.7" height="1.3" fill="#5b5bff"/><rect x="469" y="161.5" width="44.7" height="0.8" fill="#5b5bff"/><rect x="469" y="162" width="44.7" height="2.3" fill="#5c5cff"/><rect x="469" y="164" width="44.7" height="1.3" fill="#5d5dff"/><rect x="469" y="165" width="44.7" height="2.3" fill="#7373ff"/><rect x="469" y="167" width="44.7" height="0.6" fill="#6767ff"/><rect x="469" y="167.3" width="44.7" height="1.3" fill="#7c7cff"/><rect x="469" y="168.3" width="44.7" height="1.3" fill="#7676ff"/><rect x="469" y="169.3" width="44.7" height="2.3" fill="#6b6bff"/><rect x="469" y="171.3" width="44.7" height="1.3" fill="#6f6fff"/><rect x="469" y="172.3" width="44.7" height="1.3" fill="#9595ff"/><rect x="469" y="173.3" width="44.7" height="1" fill="#5656ff"/><rect x="469" y="174" width="44.7" height="2.3" fill="#8585ff"/><rect x="469" y="176" width="44.7" height="1.3" fill="#7a7aff"/><rect x="469" y="177" width="44.7" height="2.3" fill="#8f8fff"/><rect x="469" y="179" width="44.7" height="1.3" fill="#8d8dff"/><rect x="469" y="180" width="44.7" height="1.3" fill="#8b8bff"/><rect x="469" y="181" width="44.7" height="2.3" fill="#7777ff"/><rect x="469" y="183" width="44.7" height="2.3" fill="#7878ff"/><rect x="469" y="185" width="44.7" height="1.3" fill="#7575ff"/><rect x="469" y="186" width="44.7" height="1.3" fill="#b6b6ff"/><rect x="469" y="187" width="44.7" height="1.8" fill="#b6b6ff"/><rect x="469" y="188.5" width="44.7" height="1.3" fill="#b0b0ff"/><rect x="469" y="189.5" width="44.7" height="2.3" fill="#8383ff"/><rect x="469" y="191.5" width="44.7" height="2.3" fill="#7878ff"/><rect x="469" y="193.5" width="44.7" height="1.3" fill="#6565ff"/><rect x="469" y="194.5" width="44.7" height="1.3" fill="#8e8eff"/><rect x="469" y="195.5" width="44.7" height="1.3" fill="#8888ff"/><rect x="469" y="196.5" width="44.7" height="1.8" fill="#8383ff"/><rect x="469" y="198" width="44.7" height="1.8" fill="#9898ff"/><rect x="469" y="199.5" width="44.7" height="2.3" fill="#aeaeff"/><rect x="469" y="201.5" width="44.7" height="1.8" fill="#9b9bff"/><rect x="469" y="203" width="44.7" height="2.3" fill="#9e9eff"/><rect x="469" y="205" width="44.7" height="1.3" fill="#9999ff"/><rect x="469" y="206" width="44.7" height="1.3" fill="#a1a1ff"/><rect x="469" y="207" width="44.7" height="1.8" fill="#6e6eff"/><rect x="469" y="208.5" width="44.7" height="2.3" fill="#5353ff"/><rect x="469" y="210.5" width="44.7" height="2.3" fill="#8888ff"/><rect x="469" y="212.5" width="44.7" height="1.6" fill="#5454ff"/><rect x="469" y="213.8" width="44.7" height="2.3" fill="#9191ff"/><rect x="469" y="215.8" width="44.7" height="1.3" fill="#7b7bff"/><rect x="469" y="216.8" width="44.7" height="1.3" fill="#8a8aff"/><rect x="469" y="217.8" width="44.7" height="2.3" fill="#8f8fff"/><rect x="469" y="219.8" width="44.7" height="2.3" fill="#5b5bff"/><rect x="469" y="221.8" width="44.7" height="1.3" fill="#4141ff"/><rect x="469" y="222.8" width="44.7" height="1.8" fill="#5a5aff"/><rect x="469" y="224.3" width="44.7" height="1.3" fill="#6666ff"/><rect x="469" y="225.3" width="44.7" height="1.3" fill="#4f4fff"/><rect x="469" y="226.3" width="44.7" height="2.3" fill="#4949ff"/><rect x="469" y="228.3" width="44.7" height="1.2" fill="#4c4cff"/><rect x="469" y="229.2" width="44.7" height="2.3" fill="#2f2fff"/><rect x="469" y="231.2" width="44.7" height="1.3" fill="#0f0fff"/><rect x="469" y="232.2" width="44.7" height="1.3" fill="#0d0dff"/><rect x="469" y="233.2" width="44.7" height="2.3" fill="#2222ff"/><rect x="469" y="235.2" width="44.7" height="1.1" fill="#2525ff"/><rect x="469" y="236" width="44.7" height="1.3" fill="#ff5d5d"/><rect x="469" y="237" width="44.7" height="1.3" fill="#ff5252"/><rect x="469" y="238" width="44.7" height="1.3" fill="#ff3030"/><rect x="469" y="239" width="44.7" height="1.3" fill="#ff3232"/><rect x="469" y="240" width="44.7" height="0.6" fill="#ff2f2f"/><rect x="469" y="240.3" width="44.7" height="2.3" fill="#ff9292"/><rect x="469" y="242.3" width="44.7" height="1.3" fill="#ffa4a4"/><rect x="469" y="243.3" width="44.7" height="1.3" fill="#ffbcbc"/><rect x="469" y="244.3" width="44.7" height="0.6" fill="#ffafaf"/><rect x="469" y="244.6" width="44.7" height="1.8" fill="#ffcaca"/><rect x="469" y="246.1" width="44.7" height="2.3" fill="#ffb5b5"/><rect x="469" y="248.1" width="44.7" height="1.3" fill="#ffc4c4"/><rect x="469" y="249.1" width="44.7" height="2.3" fill="#ffd6d6"/><rect x="469" y="251.1" width="44.7" height="1.8" fill="#ffc9c9"/><rect x="469" y="252.6" width="44.7" height="1.3" fill="#ffabab"/><rect x="469" y="253.6" width="44.7" height="2.3" fill="#ffadad"/><rect x="469" y="255.6" width="44.7" height="1.7" fill="#ffbaba"/><rect x="469" y="257" width="44.7" height="1.3" fill="#ffaeae"/><rect x="469" y="258" width="44.7" height="1.3" fill="#ff9090"/><rect x="469" y="259" width="44.7" height="2.3" fill="#ff9c9c"/><rect x="469" y="261" width="44.7" height="1.3" fill="#ff9b9b"/><rect x="469" y="262" width="44.7" height="1.3" fill="#ffd8d8"/><rect x="469" y="263" width="44.7" height="1.3" fill="#ffd3d3"/><rect x="469" y="264" width="44.7" height="1" fill="#ffd5d5"/><rect x="469" y="264.7" width="44.7" height="2.3" fill="#ff6e6e"/><rect x="469" y="266.7" width="44.7" height="2.3" fill="#ff7c7c"/><rect x="469" y="268.7" width="44.7" height="1.3" fill="#ff7f7f"/><rect x="469" y="269.7" width="44.7" height="0.4" fill="#ff6969"/><rect x="469" y="269.8" width="44.7" height="1.3" fill="#ffb8b8"/><rect x="469" y="270.8" width="44.7" height="1.3" fill="#ffd0d0"/><rect x="469" y="271.8" width="44.7" height="2.3" fill="#ffdfdf"/><rect x="469" y="273.8" width="44.7" height="0.5" fill="#ffc4c4"/><rect x="469" y="274" width="44.7" height="1.3" fill="#ffa4a4"/><rect x="469" y="275" width="44.7" height="2.3" fill="#ffabab"/><rect x="469" y="277" width="44.7" height="2.3" fill="#ffb5b5"/><rect x="469" y="279" width="44.7" height="1.3" fill="#ffb8b8"/><rect x="469" y="280" width="44.7" height="1.3" fill="#ff9797"/><rect x="469" y="281" width="44.7" height="1.3" fill="#fff8f8"/><rect x="469" y="282" width="44.7" height="1.8" fill="#ffdada"/><rect x="469" y="283.5" width="44.7" height="1.3" fill="#ffecec"/><rect x="469" y="284.5" width="44.7" height="1.3" fill="#ffe3e3"/><rect x="469" y="285.5" width="44.7" height="1.8" fill="#fff4f4"/><rect x="469" y="287" width="44.7" height="2.3" fill="#eeeeff"/><rect x="469" y="289" width="44.7" height="1.3" fill="#e5e5ff"/><rect x="469" y="290" width="44.7" height="1.3" fill="#f5f5ff"/><rect x="469" y="291" width="44.7" height="0.5" fill="#efefff"/><rect x="469" y="291.2" width="44.7" height="2.3" fill="#ffd5d5"/><rect x="469" y="293.2" width="44.7" height="2.3" fill="#ffb9b9"/><rect x="469" y="295.2" width="44.7" height="0.6" fill="#ffb9b9"/><rect x="469" y="295.5" width="44.7" height="1.3" fill="#ffd9d9"/><rect x="469" y="296.5" width="44.7" height="1.3" fill="#ffe7e7"/><rect x="469" y="297.5" width="44.7" height="1.3" fill="#ffd5d5"/><rect x="469" y="298.5" width="44.7" height="1.3" fill="#fff0f0"/><rect x="469" y="299.5" width="44.7" height="0.5" fill="#ffdcdc"/><rect x="469" y="299.7" width="44.7" height="2.3" fill="#ffeded"/><rect x="469" y="301.7" width="44.7" height="1.8" fill="#fff1f1"/><rect x="469" y="303.2" width="44.7" height="0.5" fill="#fffdfd"/><rect x="469" y="303.4" width="44.7" height="1.3" fill="#ffcaca"/><rect x="469" y="304.4" width="44.7" height="1.3" fill="#ffd0d0"/><rect x="469" y="305.4" width="44.7" height="1.3" fill="#ffdddd"/><rect x="469" y="306.4" width="44.7" height="1.3" fill="#ffd0d0"/><rect x="469" y="307.4" width="44.7" height="1.8" fill="#ffc4c4"/><rect x="469" y="308.9" width="44.7" height="1.7" fill="#ffc1c1"/><rect x="469" y="310.3" width="44.7" height="2.3" fill="#ff9b9b"/><rect x="469" y="312.3" width="44.7" height="1.8" fill="#ffb7b7"/><rect x="469" y="313.8" width="44.7" height="2.3" fill="#ffa0a0"/><rect x="469" y="315.8" width="44.7" height="1.3" fill="#ffa8a8"/><rect x="469" y="316.8" width="44.7" height="1.8" fill="#ffb1b1"/><rect x="469" y="318.3" width="44.7" height="0.8" fill="#ffa8a8"/><rect x="469" y="318.8" width="44.7" height="2.3" fill="#ffd5d5"/><rect x="469" y="320.8" width="44.7" height="2.3" fill="#ffd7d7"/><rect x="469" y="322.8" width="44.7" height="1.3" fill="#ffd0d0"/><rect x="469" y="323.8" width="44.7" height="2.1" fill="#ffc2c2"/><rect x="469" y="325.6" width="44.7" height="1.3" fill="#a3a3ff"/><rect x="469" y="326.6" width="44.7" height="2.3" fill="#adadff"/><rect x="469" y="328.6" width="44.7" height="2.3" fill="#a3a3ff"/><rect x="469" y="330.6" width="44.7" height="1.8" fill="#b5b5ff"/><rect x="469" y="332.1" width="44.7" height="1.5" fill="#a7a7ff"/><rect x="469" y="333.3" width="44.7" height="1.8" fill="#c0c0ff"/><rect x="469" y="334.8" width="44.7" height="1.3" fill="#bcbcff"/><rect x="469" y="335.8" width="44.7" height="1.8" fill="#bebeff"/><rect x="469" y="337.3" width="44.7" height="2.3" fill="#c4c4ff"/><rect x="469" y="339.3" width="44.7" height="1.8" fill="#b0b0ff"/><rect x="469" y="340.8" width="44.7" height="0.5" fill="#bebeff"/><rect x="469" y="341" width="44.7" height="2.3" fill="#e2e2ff"/><rect x="469" y="343" width="44.7" height="1.7" fill="#d0d0ff"/><rect x="469" y="344.4" width="44.7" height="1.8" fill="#ffb0b0"/><rect x="469" y="345.9" width="44.7" height="1.3" fill="#ffbfbf"/><rect x="469" y="346.9" width="44.7" height="0.7" fill="#ffb1b1"/><rect x="513.3" y="57" width="44.7" height="1.8" fill="#cbcbff"/><rect x="513.3" y="58.5" width="44.7" height="1.4" fill="#a1a1ff"/><rect x="513.3" y="59.6" width="44.7" height="2.3" fill="#2121ff"/><rect x="513.3" y="61.6" width="44.7" height="2.3" fill="#3232ff"/><rect x="513.3" y="63.6" width="44.7" height="1.3" fill="#3030ff"/><rect x="513.3" y="64.6" width="44.7" height="1.3" fill="#2222ff"/><rect x="513.3" y="65.6" width="44.7" height="1.1" fill="#2b2bff"/><rect x="513.3" y="66.4" width="44.7" height="2.3" fill="#6565ff"/><rect x="513.3" y="68.4" width="44.7" height="1.3" fill="#5252ff"/><rect x="513.3" y="69.4" width="44.7" height="2.3" fill="#6868ff"/><rect x="513.3" y="71.4" width="44.7" height="1.8" fill="#6f6fff"/><rect x="513.3" y="72.9" width="44.7" height="1.3" fill="#6a6aff"/><rect x="513.3" y="73.9" width="44.7" height="0.5" fill="#4646ff"/><rect x="513.3" y="74.1" width="44.7" height="2" fill="#9797ff"/><rect x="513.3" y="75.8" width="44.7" height="2.3" fill="#8282ff"/><rect x="513.3" y="77.8" width="44.7" height="2.3" fill="#7d7dff"/><rect x="513.3" y="79.8" width="44.7" height="1.8" fill="#8989ff"/><rect x="513.3" y="81.3" width="44.7" height="2.3" fill="#6d6dff"/><rect x="513.3" y="83.3" width="44.7" height="1.3" fill="#8c8cff"/><rect x="513.3" y="84.3" width="44.7" height="1.2" fill="#7171ff"/><rect x="513.3" y="85.2" width="44.7" height="2.3" fill="#a9a9ff"/><rect x="513.3" y="87.2" width="44.7" height="2.3" fill="#b6b6ff"/><rect x="513.3" y="89.2" width="44.7" height="0.6" fill="#a8a8ff"/><rect x="513.3" y="89.5" width="44.7" height="1.3" fill="#d3d3ff"/><rect x="513.3" y="90.5" width="44.7" height="1.3" fill="#bbbbff"/><rect x="513.3" y="91.5" width="44.7" height="1.3" fill="#c9c9ff"/><rect x="513.3" y="92.5" width="44.7" height="1.3" fill="#c1c1ff"/><rect x="513.3" y="93.5" width="44.7" height="0.6" fill="#b7b7ff"/><rect x="513.3" y="93.8" width="44.7" height="1.3" fill="#9f9fff"/><rect x="513.3" y="94.8" width="44.7" height="1.3" fill="#9494ff"/><rect x="513.3" y="95.8" width="44.7" height="1.3" fill="#8e8eff"/><rect x="513.3" y="96.8" width="44.7" height="1.8" fill="#a3a3ff"/><rect x="513.3" y="98.3" width="44.7" height="2.3" fill="#9b9bff"/><rect x="513.3" y="100.3" width="44.7" height="1.4" fill="#9292ff"/><rect x="513.3" y="101.4" width="44.7" height="2.3" fill="#b2b2ff"/><rect x="513.3" y="103.4" width="44.7" height="1.3" fill="#b0b0ff"/><rect x="513.3" y="104.4" width="44.7" height="2.3" fill="#a7a7ff"/><rect x="513.3" y="106.4" width="44.7" height="0.9" fill="#9999ff"/><rect x="513.3" y="107" width="44.7" height="1.3" fill="#babaff"/><rect x="513.3" y="108" width="44.7" height="1.3" fill="#afafff"/><rect x="513.3" y="109" width="44.7" height="2.3" fill="#d6d6ff"/><rect x="513.3" y="111" width="44.7" height="1.3" fill="#bfbfff"/><rect x="513.3" y="112" width="44.7" height="1.8" fill="#c2c2ff"/><rect x="513.3" y="113.5" width="44.7" height="2.3" fill="#c1c1ff"/><rect x="513.3" y="115.5" width="44.7" height="1.2" fill="#b0b0ff"/><rect x="513.3" y="116.4" width="44.7" height="1.3" fill="#9797ff"/><rect x="513.3" y="117.4" width="44.7" height="1.3" fill="#9d9dff"/><rect x="513.3" y="118.4" width="44.7" height="1.3" fill="#a2a2ff"/><rect x="513.3" y="119.4" width="44.7" height="1.3" fill="#9f9fff"/><rect x="513.3" y="120.4" width="44.7" height="1.3" fill="#9696ff"/><rect x="513.3" y="121.4" width="44.7" height="0.4" fill="#a8a8ff"/><rect x="513.3" y="121.5" width="44.7" height="1.3" fill="#7a7aff"/><rect x="513.3" y="122.5" width="44.7" height="1.3" fill="#7373ff"/><rect x="513.3" y="123.5" width="44.7" height="1.3" fill="#8a8aff"/><rect x="513.3" y="124.5" width="44.7" height="1.8" fill="#8383ff"/><rect x="513.3" y="126" width="44.7" height="1.8" fill="#8e8eff"/><rect x="513.3" y="127.5" width="44.7" height="2.3" fill="#a2a2ff"/><rect x="513.3" y="129.5" width="44.7" height="1.8" fill="#9b9bff"/><rect x="513.3" y="131" width="44.7" height="1.8" fill="#9090ff"/><rect x="513.3" y="132.5" width="44.7" height="0.4" fill="#a3a3ff"/><rect x="513.3" y="132.6" width="44.7" height="2.3" fill="#9595ff"/><rect x="513.3" y="134.6" width="44.7" height="1.3" fill="#9b9bff"/><rect x="513.3" y="135.6" width="44.7" height="1.3" fill="#a1a1ff"/><rect x="513.3" y="136.6" width="44.7" height="0.6" fill="#7c7cff"/><rect x="513.3" y="136.9" width="44.7" height="2.3" fill="#ceceff"/><rect x="513.3" y="138.9" width="44.7" height="0.9" fill="#b9b9ff"/><rect x="513.3" y="139.5" width="44.7" height="2.3" fill="#8181ff"/><rect x="513.3" y="141.5" width="44.7" height="1.3" fill="#8585ff"/><rect x="513.3" y="142.5" width="44.7" height="1.3" fill="#a1a1ff"/><rect x="513.3" y="143.5" width="44.7" height="0.6" fill="#7f7fff"/><rect x="513.3" y="143.8" width="44.7" height="1.8" fill="#dfdfff"/><rect x="513.3" y="145.3" width="44.7" height="1.3" fill="#e0e0ff"/><rect x="513.3" y="146.3" width="44.7" height="2.3" fill="#f1f1ff"/><rect x="513.3" y="148.3" width="44.7" height="1.3" fill="#ffffff"/><rect x="513.3" y="149.3" width="44.7" height="1.8" fill="#f9f9ff"/><rect x="513.3" y="150.8" width="44.7" height="0.9" fill="#fdfdff"/><rect x="513.3" y="151.4" width="44.7" height="1.3" fill="#f1f1ff"/><rect x="513.3" y="152.4" width="44.7" height="1.3" fill="#f3f3ff"/><rect x="513.3" y="153.4" width="44.7" height="2.3" fill="#f5f5ff"/><rect x="513.3" y="155.4" width="44.7" height="1.3" fill="#f0f0ff"/><rect x="513.3" y="156.4" width="44.7" height="0.9" fill="#f0f0ff"/><rect x="513.3" y="157" width="44.7" height="1.8" fill="#ffecec"/><rect x="513.3" y="158.5" width="44.7" height="0.5" fill="#fff1f1"/><rect x="513.3" y="158.7" width="44.7" height="2.3" fill="#ddddff"/><rect x="513.3" y="160.7" width="44.7" height="1.8" fill="#ceceff"/><rect x="513.3" y="162.2" width="44.7" height="1.8" fill="#ccccff"/><rect x="513.3" y="163.7" width="44.7" height="0.4" fill="#e8e8ff"/><rect x="513.3" y="163.8" width="44.7" height="2.3" fill="#f4f4ff"/><rect x="513.3" y="165.8" width="44.7" height="1.3" fill="#f2f2ff"/><rect x="513.3" y="166.8" width="44.7" height="1.3" fill="#fcfcff"/><rect x="513.3" y="167.8" width="44.7" height="1.3" fill="#f1f1ff"/><rect x="513.3" y="168.8" width="44.7" height="1.3" fill="#f1f1ff"/><rect x="513.3" y="169.8" width="44.7" height="1.3" fill="#f1f1ff"/><rect x="513.3" y="170.8" width="44.7" height="2.3" fill="#fbfbff"/><rect x="513.3" y="172.8" width="44.7" height="1.5" fill="#e8e8ff"/><rect x="513.3" y="174" width="44.7" height="1.3" fill="#d3d3ff"/><rect x="513.3" y="175" width="44.7" height="2.3" fill="#bcbcff"/><rect x="513.3" y="177" width="44.7" height="2.3" fill="#d2d2ff"/><rect x="513.3" y="179" width="44.7" height="2.3" fill="#bebeff"/><rect x="513.3" y="181" width="44.7" height="1.8" fill="#fdfdff"/><rect x="513.3" y="182.5" width="44.7" height="1.3" fill="#fefeff"/><rect x="513.3" y="183.5" width="44.7" height="1.8" fill="#ffdbdb"/><rect x="513.3" y="185" width="44.7" height="0.5" fill="#ffefef"/><rect x="513.3" y="185.2" width="44.7" height="1.8" fill="#f7f7ff"/><rect x="513.3" y="186.7" width="44.7" height="1.8" fill="#f7f7ff"/><rect x="513.3" y="188.2" width="44.7" height="1.3" fill="#fffcfc"/><rect x="513.3" y="189.2" width="44.7" height="1.3" fill="#eeeeff"/><rect x="513.3" y="190.2" width="44.7" height="1.3" fill="#f7f7ff"/><rect x="513.3" y="191.2" width="44.7" height="2.3" fill="#dbdbff"/><rect x="513.3" y="193.2" width="44.7" height="2.3" fill="#c5c5ff"/><rect x="513.3" y="195.2" width="44.7" height="1.3" fill="#dfdfff"/><rect x="513.3" y="196.2" width="44.7" height="1.3" fill="#cfcfff"/><rect x="513.3" y="197.2" width="44.7" height="1.3" fill="#d1d1ff"/><rect x="513.3" y="198.2" width="44.7" height="2.3" fill="#d1d1ff"/><rect x="513.3" y="200.2" width="44.7" height="1.5" fill="#e2e2ff"/><rect x="513.3" y="201.4" width="44.7" height="1.8" fill="#c3c3ff"/><rect x="513.3" y="202.9" width="44.7" height="1.3" fill="#aeaeff"/><rect x="513.3" y="203.9" width="44.7" height="1.3" fill="#b6b6ff"/><rect x="513.3" y="204.9" width="44.7" height="1.3" fill="#c2c2ff"/><rect x="513.3" y="205.9" width="44.7" height="1.4" fill="#b7b7ff"/><rect x="513.3" y="207" width="44.7" height="1.8" fill="#ccccff"/><rect x="513.3" y="208.5" width="44.7" height="1.3" fill="#dfdfff"/><rect x="513.3" y="209.5" width="44.7" height="0.4" fill="#ddddff"/><rect x="513.3" y="209.6" width="44.7" height="1.8" fill="#9090ff"/><rect x="513.3" y="211.1" width="44.7" height="1.3" fill="#9b9bff"/><rect x="513.3" y="212.1" width="44.7" height="2.3" fill="#7c7cff"/><rect x="513.3" y="214.1" width="44.7" height="0.9" fill="#9090ff"/><rect x="513.3" y="214.7" width="44.7" height="1.8" fill="#bebeff"/><rect x="513.3" y="216.2" width="44.7" height="1.3" fill="#b4b4ff"/><rect x="513.3" y="217.2" width="44.7" height="2.3" fill="#b6b6ff"/><rect x="513.3" y="219.2" width="44.7" height="0.9" fill="#bcbcff"/><rect x="513.3" y="219.8" width="44.7" height="2.3" fill="#ededff"/><rect x="513.3" y="221.8" width="44.7" height="1.8" fill="#dedeff"/><rect x="513.3" y="223.3" width="44.7" height="2.3" fill="#e8e8ff"/><rect x="513.3" y="225.3" width="44.7" height="2.3" fill="#d6d6ff"/><rect x="513.3" y="227.3" width="44.7" height="2.3" fill="#eeeeff"/><rect x="513.3" y="229.3" width="44.7" height="1" fill="#f5f5ff"/><rect x="513.3" y="230" width="44.7" height="1.3" fill="#f4f4ff"/><rect x="513.3" y="231" width="44.7" height="1.8" fill="#fff7f7"/><rect x="513.3" y="232.5" width="44.7" height="2.3" fill="#fff9f9"/><rect x="513.3" y="234.5" width="44.7" height="1" fill="#fdfdff"/><rect x="513.3" y="235.2" width="44.7" height="2.3" fill="#c4c4ff"/><rect x="513.3" y="237.2" width="44.7" height="2.3" fill="#c9c9ff"/><rect x="513.3" y="239.2" width="44.7" height="1.3" fill="#babaff"/><rect x="513.3" y="240.2" width="44.7" height="0.4" fill="#cacaff"/><rect x="513.3" y="240.3" width="44.7" height="1.3" fill="#ffd1d1"/><rect x="513.3" y="241.3" width="44.7" height="1.9" fill="#ffc1c1"/><rect x="513.3" y="242.9" width="44.7" height="2.3" fill="#a2a2ff"/><rect x="513.3" y="244.9" width="44.7" height="0.9" fill="#a4a4ff"/><rect x="513.3" y="245.5" width="44.7" height="1.3" fill="#ffcdcd"/><rect x="513.3" y="246.5" width="44.7" height="1.8" fill="#ffc9c9"/><rect x="513.3" y="248" width="44.7" height="1.3" fill="#ffcbcb"/><rect x="513.3" y="249" width="44.7" height="2.3" fill="#ffcfcf"/><rect x="513.3" y="251" width="44.7" height="1.6" fill="#ffb9b9"/><rect x="513.3" y="252.3" width="44.7" height="1.3" fill="#ffffff"/><rect x="513.3" y="253.3" width="44.7" height="1.3" fill="#fff6f6"/><rect x="513.3" y="254.3" width="44.7" height="1.8" fill="#fff9f9"/><rect x="513.3" y="255.8" width="44.7" height="1.3" fill="#fff1f1"/><rect x="513.3" y="256.8" width="44.7" height="0.5" fill="#fff3f3"/><rect x="513.3" y="257" width="44.7" height="1.3" fill="#7070ff"/><rect x="513.3" y="258" width="44.7" height="1.3" fill="#7272ff"/><rect x="513.3" y="259" width="44.7" height="1.3" fill="#9595ff"/><rect x="513.3" y="260" width="44.7" height="0.7" fill="#8282ff"/><rect x="513.3" y="260.4" width="44.7" height="1.3" fill="#ddddff"/><rect x="513.3" y="261.4" width="44.7" height="1.3" fill="#e5e5ff"/><rect x="513.3" y="262.4" width="44.7" height="0.9" fill="#eaeaff"/><rect x="513.3" y="263" width="44.7" height="1.3" fill="#a0a0ff"/><rect x="513.3" y="264" width="44.7" height="1.3" fill="#bcbcff"/><rect x="513.3" y="265" width="44.7" height="0.8" fill="#9c9cff"/><rect x="513.3" y="265.5" width="44.7" height="1.8" fill="#efefff"/><rect x="513.3" y="267" width="44.7" height="1.3" fill="#fcfcff"/><rect x="513.3" y="268" width="44.7" height="1.3" fill="#fafaff"/><rect x="513.3" y="269" width="44.7" height="2.3" fill="#ffaeae"/><rect x="513.3" y="271" width="44.7" height="1.3" fill="#ff9797"/><rect x="513.3" y="272" width="44.7" height="1.3" fill="#ff9090"/><rect x="513.3" y="273" width="44.7" height="1.3" fill="#ff9595"/><rect x="513.3" y="274" width="44.7" height="2.3" fill="#ff6767"/><rect x="513.3" y="276" width="44.7" height="2.3" fill="#ff6c6c"/><rect x="513.3" y="278" width="44.7" height="2.3" fill="#ff8282"/><rect x="513.3" y="280" width="44.7" height="1.3" fill="#ff5656"/><rect x="513.3" y="281" width="44.7" height="1.3" fill="#fff7f7"/><rect x="513.3" y="282" width="44.7" height="1.3" fill="#fff9f9"/><rect x="513.3" y="283" width="44.7" height="1.3" fill="#fff5f5"/><rect x="513.3" y="284" width="44.7" height="0.7" fill="#fffefe"/><rect x="513.3" y="284.4" width="44.7" height="1.3" fill="#ffdfdf"/><rect x="513.3" y="285.4" width="44.7" height="1.3" fill="#ffc4c4"/><rect x="513.3" y="286.4" width="44.7" height="1.8" fill="#ffd1d1"/><rect x="513.3" y="287.9" width="44.7" height="2.3" fill="#ffc1c1"/><rect x="513.3" y="289.9" width="44.7" height="2.3" fill="#ffcccc"/><rect x="513.3" y="291.9" width="44.7" height="1.3" fill="#ffc1c1"/><rect x="513.3" y="292.9" width="44.7" height="1.3" fill="#ff9696"/><rect x="513.3" y="293.9" width="44.7" height="1.8" fill="#ff8181"/><rect x="513.3" y="295.4" width="44.7" height="1.3" fill="#ff8d8d"/><rect x="513.3" y="296.4" width="44.7" height="1.8" fill="#ff9a9a"/><rect x="513.3" y="297.9" width="44.7" height="2.3" fill="#ff8181"/><rect x="513.3" y="299.9" width="44.7" height="1.3" fill="#ff7c7c"/><rect x="513.3" y="300.9" width="44.7" height="0.8" fill="#ff7f7f"/><rect x="513.3" y="301.4" width="44.7" height="1.3" fill="#ff9e9e"/><rect x="513.3" y="302.4" width="44.7" height="1.3" fill="#ffa5a5"/><rect x="513.3" y="303.4" width="44.7" height="1.3" fill="#ffa1a1"/><rect x="513.3" y="304.4" width="44.7" height="2.3" fill="#ffa7a7"/><rect x="513.3" y="306.4" width="44.7" height="0.7" fill="#ffa3a3"/><rect x="513.3" y="306.8" width="44.7" height="1.3" fill="#ffa3a3"/><rect x="513.3" y="307.8" width="44.7" height="2.3" fill="#ff9f9f"/><rect x="513.3" y="309.8" width="44.7" height="1.3" fill="#ff9f9f"/><rect x="513.3" y="310.8" width="44.7" height="1.3" fill="#ff8f8f"/><rect x="513.3" y="311.8" width="44.7" height="1.3" fill="#ff8888"/><rect x="513.3" y="312.8" width="44.7" height="1.3" fill="#ff8f8f"/><rect x="513.3" y="313.8" width="44.7" height="1.3" fill="#ff9a9a"/><rect x="513.3" y="314.8" width="44.7" height="1.3" fill="#ffadad"/><rect x="513.3" y="315.8" width="44.7" height="2.3" fill="#ff9595"/><rect x="513.3" y="317.8" width="44.7" height="1.3" fill="#ff8282"/><rect x="513.3" y="318.8" width="44.7" height="1.3" fill="#ffd8d8"/><rect x="513.3" y="319.8" width="44.7" height="1.3" fill="#ffe4e4"/><rect x="513.3" y="320.8" width="44.7" height="1.3" fill="#ffdfdf"/><rect x="513.3" y="321.8" width="44.7" height="2.3" fill="#ffe4e4"/><rect x="513.3" y="323.8" width="44.7" height="2.1" fill="#ffcbcb"/><rect x="513.3" y="325.6" width="44.7" height="1.3" fill="#ff6969"/><rect x="513.3" y="326.6" width="44.7" height="1.8" fill="#ff7171"/><rect x="513.3" y="328.1" width="44.7" height="1.3" fill="#ffa1a1"/><rect x="513.3" y="329.1" width="44.7" height="1.3" fill="#ff6868"/><rect x="513.3" y="330.1" width="44.7" height="1.8" fill="#ff8f8f"/><rect x="513.3" y="331.6" width="44.7" height="2.3" fill="#ff7f7f"/><rect x="513.3" y="333.6" width="44.7" height="2.3" fill="#ff8282"/><rect x="513.3" y="335.6" width="44.7" height="0.6" fill="#ff6d6d"/><rect x="513.3" y="335.9" width="44.7" height="1.8" fill="#ffb3b3"/><rect x="513.3" y="337.4" width="44.7" height="1.3" fill="#ffa6a6"/><rect x="513.3" y="338.4" width="44.7" height="2.3" fill="#ff9e9e"/><rect x="513.3" y="340.4" width="44.7" height="1.8" fill="#ffaaaa"/><rect x="513.3" y="341.9" width="44.7" height="1.1" fill="#ffb1b1"/><rect x="513.3" y="342.7" width="44.7" height="1.8" fill="#ff9898"/><rect x="513.3" y="344.2" width="44.7" height="1.3" fill="#ff8e8e"/><rect x="513.3" y="345.2" width="44.7" height="1.8" fill="#ff8f8f"/><rect x="513.3" y="346.7" width="44.7" height="0.9" fill="#ff8585"/><rect x="557.6" y="57" width="44.7" height="1.3" fill="#c0c0ff"/><rect x="557.6" y="58" width="44.7" height="1.3" fill="#b8b8ff"/><rect x="557.6" y="59" width="44.7" height="0.9" fill="#cdcdff"/><rect x="557.6" y="59.6" width="44.7" height="1.3" fill="#e7e7ff"/><rect x="557.6" y="60.6" width="44.7" height="1.3" fill="#ebebff"/><rect x="557.6" y="61.6" width="44.7" height="1.3" fill="#eaeaff"/><rect x="557.6" y="62.6" width="44.7" height="0.7" fill="#e7e7ff"/><rect x="557.6" y="63" width="44.7" height="2.3" fill="#fff7f7"/><rect x="557.6" y="65" width="44.7" height="2.3" fill="#fafaff"/><rect x="557.6" y="67" width="44.7" height="1.3" fill="#fefeff"/><rect x="557.6" y="68" width="44.7" height="1.8" fill="#fffefe"/><rect x="557.6" y="69.5" width="44.7" height="1.3" fill="#fff8f8"/><rect x="557.6" y="70.5" width="44.7" height="0.5" fill="#e8e8ff"/><rect x="557.6" y="70.7" width="44.7" height="1.8" fill="#c6c6ff"/><rect x="557.6" y="72.2" width="44.7" height="1.3" fill="#c0c0ff"/><rect x="557.6" y="73.2" width="44.7" height="1.3" fill="#cdcdff"/><rect x="557.6" y="74.2" width="44.7" height="1.9" fill="#b0b0ff"/><rect x="557.6" y="75.8" width="44.7" height="1.8" fill="#6767ff"/><rect x="557.6" y="77.3" width="44.7" height="1.3" fill="#6a6aff"/><rect x="557.6" y="78.3" width="44.7" height="1.3" fill="#7979ff"/><rect x="557.6" y="79.3" width="44.7" height="1.8" fill="#8f8fff"/><rect x="557.6" y="80.8" width="44.7" height="1.3" fill="#6e6eff"/><rect x="557.6" y="81.8" width="44.7" height="1.3" fill="#6c6cff"/><rect x="557.6" y="82.8" width="44.7" height="1.3" fill="#6969ff"/><rect x="557.6" y="83.8" width="44.7" height="0.9" fill="#8181ff"/><rect x="557.6" y="84.4" width="44.7" height="1.3" fill="#8383ff"/><rect x="557.6" y="85.4" width="44.7" height="2.3" fill="#7272ff"/><rect x="557.6" y="87.4" width="44.7" height="1.8" fill="#9a9aff"/><rect x="557.6" y="88.9" width="44.7" height="1.3" fill="#8d8dff"/><rect x="557.6" y="89.9" width="44.7" height="1.6" fill="#8484ff"/><rect x="557.6" y="91.2" width="44.7" height="1.3" fill="#7c7cff"/><rect x="557.6" y="92.2" width="44.7" height="1.3" fill="#7777ff"/><rect x="557.6" y="93.2" width="44.7" height="2.3" fill="#9191ff"/><rect x="557.6" y="95.2" width="44.7" height="1.3" fill="#9797ff"/><rect x="557.6" y="96.2" width="44.7" height="1.3" fill="#a2a2ff"/><rect x="557.6" y="97.2" width="44.7" height="1.1" fill="#b7b7ff"/><rect x="557.6" y="98" width="44.7" height="1.3" fill="#afafff"/><rect x="557.6" y="99" width="44.7" height="2.3" fill="#ababff"/><rect x="557.6" y="101" width="44.7" height="2.3" fill="#b2b2ff"/><rect x="557.6" y="103" width="44.7" height="1.8" fill="#afafff"/><rect x="557.6" y="104.5" width="44.7" height="1.3" fill="#b7b7ff"/><rect x="557.6" y="105.5" width="44.7" height="1.8" fill="#a1a1ff"/><rect x="557.6" y="107" width="44.7" height="1.3" fill="#a2a2ff"/><rect x="557.6" y="108" width="44.7" height="1.3" fill="#9a9aff"/><rect x="557.6" y="109" width="44.7" height="1.7" fill="#afafff"/><rect x="557.6" y="110.4" width="44.7" height="1.3" fill="#ccccff"/><rect x="557.6" y="111.4" width="44.7" height="1.3" fill="#b1b1ff"/><rect x="557.6" y="112.4" width="44.7" height="1.3" fill="#bbbbff"/><rect x="557.6" y="113.4" width="44.7" height="0.7" fill="#babaff"/><rect x="557.6" y="113.8" width="44.7" height="2.3" fill="#b2b2ff"/><rect x="557.6" y="115.8" width="44.7" height="1.3" fill="#babaff"/><rect x="557.6" y="116.8" width="44.7" height="0.8" fill="#a5a5ff"/><rect x="557.6" y="117.3" width="44.7" height="1.3" fill="#dedeff"/><rect x="557.6" y="118.3" width="44.7" height="2.3" fill="#dbdbff"/><rect x="557.6" y="120.3" width="44.7" height="0.7" fill="#d1d1ff"/><rect x="557.6" y="120.7" width="44.7" height="1.3" fill="#8484ff"/><rect x="557.6" y="121.7" width="44.7" height="2.3" fill="#7f7fff"/><rect x="557.6" y="123.7" width="44.7" height="0.6" fill="#a2a2ff"/><rect x="557.6" y="124" width="44.7" height="2.3" fill="#8d8dff"/><rect x="557.6" y="126" width="44.7" height="1.3" fill="#9b9bff"/><rect x="557.6" y="127" width="44.7" height="1.8" fill="#9d9dff"/><rect x="557.6" y="128.5" width="44.7" height="2.3" fill="#7e7eff"/><rect x="557.6" y="130.5" width="44.7" height="1.3" fill="#a0a0ff"/><rect x="557.6" y="131.5" width="44.7" height="2.3" fill="#9494ff"/><rect x="557.6" y="133.5" width="44.7" height="1.8" fill="#afafff"/><rect x="557.6" y="135" width="44.7" height="1.3" fill="#9090ff"/><rect x="557.6" y="136" width="44.7" height="1.8" fill="#9393ff"/><rect x="557.6" y="137.5" width="44.7" height="0.6" fill="#9797ff"/><rect x="557.6" y="137.8" width="44.7" height="1.3" fill="#6060ff"/><rect x="557.6" y="138.8" width="44.7" height="1.3" fill="#6c6cff"/><rect x="557.6" y="139.8" width="44.7" height="1.3" fill="#4d4dff"/><rect x="557.6" y="140.8" width="44.7" height="1.3" fill="#5c5cff"/><rect x="557.6" y="141.8" width="44.7" height="1.8" fill="#6969ff"/><rect x="557.6" y="143.3" width="44.7" height="0.8" fill="#6060ff"/><rect x="557.6" y="143.8" width="44.7" height="2.3" fill="#ceceff"/><rect x="557.6" y="145.8" width="44.7" height="0.8" fill="#c9c9ff"/><rect x="557.6" y="146.3" width="44.7" height="1.3" fill="#2222ff"/><rect x="557.6" y="147.3" width="44.7" height="1.8" fill="#2c2cff"/><rect x="557.6" y="148.8" width="44.7" height="2.1" fill="#1717ff"/><rect x="557.6" y="150.6" width="44.7" height="1.3" fill="#a0a0ff"/><rect x="557.6" y="151.6" width="44.7" height="1.3" fill="#b4b4ff"/><rect x="557.6" y="152.6" width="44.7" height="1.3" fill="#a5a5ff"/><rect x="557.6" y="153.6" width="44.7" height="1.3" fill="#b2b2ff"/><rect x="557.6" y="154.6" width="44.7" height="2.3" fill="#9f9fff"/><rect x="557.6" y="156.6" width="44.7" height="0.7" fill="#9898ff"/><rect x="557.6" y="157" width="44.7" height="2.3" fill="#4f4fff"/><rect x="557.6" y="159" width="44.7" height="0.9" fill="#4141ff"/><rect x="557.6" y="159.6" width="44.7" height="2" fill="#e8e8ff"/><rect x="557.6" y="161.3" width="44.7" height="1.3" fill="#9696ff"/><rect x="557.6" y="162.3" width="44.7" height="1.3" fill="#8686ff"/><rect x="557.6" y="163.3" width="44.7" height="1.3" fill="#8f8fff"/><rect x="557.6" y="164.3" width="44.7" height="1.3" fill="#8989ff"/><rect x="557.6" y="165.3" width="44.7" height="1.3" fill="#9393ff"/><rect x="557.6" y="166.3" width="44.7" height="1.3" fill="#a4a4ff"/><rect x="557.6" y="167.3" width="44.7" height="1.8" fill="#9797ff"/><rect x="557.6" y="168.8" width="44.7" height="2.3" fill="#9595ff"/><rect x="557.6" y="170.8" width="44.7" height="1.3" fill="#9393ff"/><rect x="557.6" y="171.8" width="44.7" height="2.3" fill="#7272ff"/><rect x="557.6" y="173.8" width="44.7" height="2.3" fill="#9a9aff"/><rect x="557.6" y="175.8" width="44.7" height="1.3" fill="#a1a1ff"/><rect x="557.6" y="176.8" width="44.7" height="2.3" fill="#8e8eff"/><rect x="557.6" y="178.8" width="44.7" height="2.3" fill="#a0a0ff"/><rect x="557.6" y="180.8" width="44.7" height="0.5" fill="#8484ff"/><rect x="557.6" y="181" width="44.7" height="2.3" fill="#5454ff"/><rect x="557.6" y="183" width="44.7" height="2.3" fill="#4e4eff"/><rect x="557.6" y="185" width="44.7" height="2.3" fill="#3232ff"/><rect x="557.6" y="187" width="44.7" height="1.3" fill="#5151ff"/><rect x="557.6" y="188" width="44.7" height="1.3" fill="#5151ff"/><rect x="557.6" y="189" width="44.7" height="1.3" fill="#5a5aff"/><rect x="557.6" y="190" width="44.7" height="1.5" fill="#7070ff"/><rect x="557.6" y="191.2" width="44.7" height="1.3" fill="#6f6fff"/><rect x="557.6" y="192.2" width="44.7" height="1.3" fill="#9e9eff"/><rect x="557.6" y="193.2" width="44.7" height="1.3" fill="#7878ff"/><rect x="557.6" y="194.2" width="44.7" height="2.3" fill="#8181ff"/><rect x="557.6" y="196.2" width="44.7" height="1.3" fill="#8181ff"/><rect x="557.6" y="197.2" width="44.7" height="2.3" fill="#9393ff"/><rect x="557.6" y="199.2" width="44.7" height="2.3" fill="#9f9fff"/><rect x="557.6" y="201.2" width="44.7" height="0.5" fill="#8d8dff"/><rect x="557.6" y="201.4" width="44.7" height="2.3" fill="#b3b3ff"/><rect x="557.6" y="203.4" width="44.7" height="2.3" fill="#9898ff"/><rect x="557.6" y="205.4" width="44.7" height="1.3" fill="#acacff"/><rect x="557.6" y="206.4" width="44.7" height="0.9" fill="#ababff"/><rect x="557.6" y="207" width="44.7" height="2.3" fill="#7070ff"/><rect x="557.6" y="209" width="44.7" height="0.9" fill="#5f5fff"/><rect x="557.6" y="209.6" width="44.7" height="1.3" fill="#fcfcff"/><rect x="557.6" y="210.6" width="44.7" height="2.3" fill="#f3f3ff"/><rect x="557.6" y="212.6" width="44.7" height="1.3" fill="#f0f0ff"/><rect x="557.6" y="213.6" width="44.7" height="2.3" fill="#fbfbff"/><rect x="557.6" y="215.6" width="44.7" height="1.1" fill="#f4f4ff"/><rect x="557.6" y="216.4" width="44.7" height="2.3" fill="#dcdcff"/><rect x="557.6" y="218.4" width="44.7" height="1.8" fill="#c0c0ff"/><rect x="557.6" y="219.9" width="44.7" height="1.3" fill="#c1c1ff"/><rect x="557.6" y="220.9" width="44.7" height="1.3" fill="#d0d0ff"/><rect x="557.6" y="221.9" width="44.7" height="1.3" fill="#d8d8ff"/><rect x="557.6" y="222.9" width="44.7" height="2.3" fill="#c1c1ff"/><rect x="557.6" y="224.9" width="44.7" height="1.3" fill="#d6d6ff"/><rect x="557.6" y="225.9" width="44.7" height="1.3" fill="#c3c3ff"/><rect x="557.6" y="226.9" width="44.7" height="2.3" fill="#cbcbff"/><rect x="557.6" y="228.9" width="44.7" height="1.3" fill="#dfdfff"/><rect x="557.6" y="229.9" width="44.7" height="0.4" fill="#d3d3ff"/><rect x="557.6" y="230" width="44.7" height="2.3" fill="#fbfbff"/><rect x="557.6" y="232" width="44.7" height="1.8" fill="#efefff"/><rect x="557.6" y="233.5" width="44.7" height="2.3" fill="#ffffff"/><rect x="557.6" y="235.5" width="44.7" height="2.3" fill="#fefeff"/><rect x="557.6" y="237.5" width="44.7" height="0.6" fill="#f0f0ff"/><rect x="557.6" y="237.8" width="44.7" height="1.3" fill="#ffd1d1"/><rect x="557.6" y="238.8" width="44.7" height="1.8" fill="#ffc2c2"/><rect x="557.6" y="240.3" width="44.7" height="2.3" fill="#ffd4d4"/><rect x="557.6" y="242.3" width="44.7" height="1.8" fill="#ffc9c9"/><rect x="557.6" y="243.8" width="44.7" height="1.1" fill="#ffd1d1"/><rect x="557.6" y="244.6" width="44.7" height="2.3" fill="#ff6363"/><rect x="557.6" y="246.6" width="44.7" height="1.8" fill="#ff4747"/><rect x="557.6" y="248.1" width="44.7" height="1.3" fill="#ff5c5c"/><rect x="557.6" y="249.1" width="44.7" height="2.3" fill="#ff5454"/><rect x="557.6" y="251.1" width="44.7" height="0.6" fill="#ff4343"/><rect x="557.6" y="251.4" width="44.7" height="2.3" fill="#ffd7d7"/><rect x="557.6" y="253.4" width="44.7" height="1.3" fill="#ffcccc"/><rect x="557.6" y="254.4" width="44.7" height="2.3" fill="#ffd6d6"/><rect x="557.6" y="256.4" width="44.7" height="0.9" fill="#ffcbcb"/><rect x="557.6" y="257" width="44.7" height="1.3" fill="#ff6262"/><rect x="557.6" y="258" width="44.7" height="2.3" fill="#ff6363"/><rect x="557.6" y="260" width="44.7" height="1.8" fill="#ff9d9d"/><rect x="557.6" y="261.5" width="44.7" height="2.3" fill="#ff6565"/><rect x="557.6" y="263.5" width="44.7" height="0.6" fill="#ff6b6b"/><rect x="557.6" y="263.8" width="44.7" height="1.3" fill="#ffe7e7"/><rect x="557.6" y="264.8" width="44.7" height="1.3" fill="#ffeeee"/><rect x="557.6" y="265.8" width="44.7" height="2.3" fill="#ffc9c9"/><rect x="557.6" y="267.8" width="44.7" height="0.6" fill="#ffdcdc"/><rect x="557.6" y="268.1" width="44.7" height="1.8" fill="#ababff"/><rect x="557.6" y="269.6" width="44.7" height="1.4" fill="#b0b0ff"/><rect x="557.6" y="270.7" width="44.7" height="2.3" fill="#e1e1ff"/><rect x="557.6" y="272.7" width="44.7" height="1.3" fill="#e8e8ff"/><rect x="557.6" y="273.7" width="44.7" height="1.3" fill="#e0e0ff"/><rect x="557.6" y="274.7" width="44.7" height="1.4" fill="#e5e5ff"/><rect x="557.6" y="275.8" width="44.7" height="2.3" fill="#ffcccc"/><rect x="557.6" y="277.8" width="44.7" height="0.9" fill="#ffcccc"/><rect x="557.6" y="278.4" width="44.7" height="2.3" fill="#bcbcff"/><rect x="557.6" y="280.4" width="44.7" height="0.9" fill="#c9c9ff"/><rect x="557.6" y="281" width="44.7" height="1.8" fill="#ff8585"/><rect x="557.6" y="282.5" width="44.7" height="1.8" fill="#ffa9a9"/><rect x="557.6" y="284" width="44.7" height="1.3" fill="#ffa5a5"/><rect x="557.6" y="285" width="44.7" height="1.3" fill="#ff8a8a"/><rect x="557.6" y="286" width="44.7" height="1.3" fill="#ff7c7c"/><rect x="557.6" y="287" width="44.7" height="1.3" fill="#ff9393"/><rect x="557.6" y="288" width="44.7" height="1.3" fill="#ffbaba"/><rect x="557.6" y="289" width="44.7" height="1.8" fill="#ff9999"/><rect x="557.6" y="290.5" width="44.7" height="1" fill="#ff9191"/><rect x="557.6" y="291.2" width="44.7" height="2.3" fill="#ffc4c4"/><rect x="557.6" y="293.2" width="44.7" height="1.3" fill="#ffd2d2"/><rect x="557.6" y="294.2" width="44.7" height="0.7" fill="#ffc5c5"/><rect x="557.6" y="294.6" width="44.7" height="1.8" fill="#ffdede"/><rect x="557.6" y="296.1" width="44.7" height="2.3" fill="#ffeaea"/><rect x="557.6" y="298.1" width="44.7" height="2.3" fill="#ffe8e8"/><rect x="557.6" y="300.1" width="44.7" height="1.3" fill="#ffdfdf"/><rect x="557.6" y="301.1" width="44.7" height="0.6" fill="#fff1f1"/><rect x="557.6" y="301.4" width="44.7" height="0.9" fill="#ffd4d4"/><rect x="557.6" y="302" width="44.7" height="1.3" fill="#ffcdcd"/><rect x="557.6" y="303" width="44.7" height="1.3" fill="#ffe5e5"/><rect x="557.6" y="304" width="44.7" height="1.3" fill="#ffe1e1"/><rect x="557.6" y="305" width="44.7" height="1.8" fill="#fff1f1"/><rect x="557.6" y="306.5" width="44.7" height="0.6" fill="#ffd2d2"/><rect x="557.6" y="306.8" width="44.7" height="1.3" fill="#ffa1a1"/><rect x="557.6" y="307.8" width="44.7" height="1.3" fill="#ffa8a8"/><rect x="557.6" y="308.8" width="44.7" height="1.3" fill="#ffaeae"/><rect x="557.6" y="309.8" width="44.7" height="2.3" fill="#ffa4a4"/><rect x="557.6" y="311.8" width="44.7" height="1.3" fill="#ff9292"/><rect x="557.6" y="312.8" width="44.7" height="1.3" fill="#ffa0a0"/><rect x="557.6" y="313.8" width="44.7" height="1.3" fill="#ffb5b5"/><rect x="557.6" y="314.8" width="44.7" height="2.3" fill="#ffcaca"/><rect x="557.6" y="316.8" width="44.7" height="1.3" fill="#ffa9a9"/><rect x="557.6" y="317.8" width="44.7" height="1.3" fill="#ffa5a5"/><rect x="557.6" y="318.8" width="44.7" height="2.3" fill="#ff8585"/><rect x="557.6" y="320.8" width="44.7" height="1.3" fill="#ff9292"/><rect x="557.6" y="321.8" width="44.7" height="2.3" fill="#ff8b8b"/><rect x="557.6" y="323.8" width="44.7" height="1.3" fill="#ff9191"/><rect x="557.6" y="324.8" width="44.7" height="1.1" fill="#ff8d8d"/><rect x="557.6" y="325.6" width="44.7" height="2.3" fill="#ffb5b5"/><rect x="557.6" y="327.6" width="44.7" height="2.3" fill="#ffa9a9"/><rect x="557.6" y="329.6" width="44.7" height="1.3" fill="#ff9f9f"/><rect x="557.6" y="330.6" width="44.7" height="1.3" fill="#ff9292"/><rect x="557.6" y="331.6" width="44.7" height="1.3" fill="#ffaaaa"/><rect x="557.6" y="332.6" width="44.7" height="1.3" fill="#ffa0a0"/><rect x="557.6" y="333.6" width="44.7" height="0.9" fill="#ffb1b1"/><rect x="557.6" y="334.2" width="44.7" height="1.3" fill="#ff7c7c"/><rect x="557.6" y="335.2" width="44.7" height="2.3" fill="#ff8d8d"/><rect x="557.6" y="337.2" width="44.7" height="1.8" fill="#ff6c6c"/><rect x="557.6" y="338.7" width="44.7" height="0.9" fill="#ff6262"/><rect x="557.6" y="339.3" width="44.7" height="1.3" fill="#ffb9b9"/><rect x="557.6" y="340.3" width="44.7" height="1.3" fill="#ffc4c4"/><rect x="557.6" y="341.3" width="44.7" height="1.3" fill="#ffb9b9"/><rect x="557.6" y="342.3" width="44.7" height="1.3" fill="#ffbfbf"/><rect x="557.6" y="343.3" width="44.7" height="0.6" fill="#ffc5c5"/><rect x="557.6" y="343.6" width="44.7" height="1.3" fill="#d2d2ff"/><rect x="557.6" y="344.6" width="44.7" height="2.3" fill="#e5e5ff"/><rect x="557.6" y="346.6" width="44.7" height="1" fill="#e5e5ff"/><rect x="601.9" y="57" width="44.7" height="2.3" fill="#9595ff"/><rect x="601.9" y="59" width="44.7" height="1.3" fill="#ffd0d0"/><rect x="601.9" y="60" width="44.7" height="0.7" fill="#ffd1d1"/><rect x="601.9" y="60.4" width="44.7" height="1.8" fill="#ff9797"/><rect x="601.9" y="61.9" width="44.7" height="2.3" fill="#ff9090"/><rect x="601.9" y="63.9" width="44.7" height="2.3" fill="#ff8b8b"/><rect x="601.9" y="65.9" width="44.7" height="1.3" fill="#ff7b7b"/><rect x="601.9" y="66.9" width="44.7" height="0.7" fill="#ff9595"/><rect x="601.9" y="67.3" width="44.7" height="1.3" fill="#ff7a7a"/><rect x="601.9" y="68.3" width="44.7" height="2.3" fill="#ff6e6e"/><rect x="601.9" y="70.3" width="44.7" height="1.8" fill="#ff7474"/><rect x="601.9" y="71.8" width="44.7" height="0.9" fill="#ff7d7d"/><rect x="601.9" y="72.4" width="44.7" height="2.3" fill="#ff7a7a"/><rect x="601.9" y="74.4" width="44.7" height="1.7" fill="#ff8686"/><rect x="601.9" y="75.8" width="44.7" height="2.3" fill="#ffb5b5"/><rect x="601.9" y="77.8" width="44.7" height="1.3" fill="#ffa4a4"/><rect x="601.9" y="78.8" width="44.7" height="0.7" fill="#ffa8a8"/><rect x="601.9" y="79.2" width="44.7" height="1.3" fill="#ff9d9d"/><rect x="601.9" y="80.2" width="44.7" height="2.3" fill="#ff9494"/><rect x="601.9" y="82.2" width="44.7" height="0.7" fill="#ff9090"/><rect x="601.9" y="82.6" width="44.7" height="1.8" fill="#ff6a6a"/><rect x="601.9" y="84.1" width="44.7" height="1.3" fill="#ff7070"/><rect x="601.9" y="85.1" width="44.7" height="2.3" fill="#ff8383"/><rect x="601.9" y="87.1" width="44.7" height="2.3" fill="#ff6161"/><rect x="601.9" y="89.1" width="44.7" height="1.8" fill="#ff8282"/><rect x="601.9" y="90.6" width="44.7" height="1.3" fill="#ff7272"/><rect x="601.9" y="91.6" width="44.7" height="1.6" fill="#ff7676"/><rect x="601.9" y="92.9" width="44.7" height="1.3" fill="#ff8c8c"/><rect x="601.9" y="93.9" width="44.7" height="2.3" fill="#ff7b7b"/><rect x="601.9" y="95.9" width="44.7" height="2.3" fill="#ff8b8b"/><rect x="601.9" y="97.9" width="44.7" height="1.8" fill="#ff9191"/><rect x="601.9" y="99.4" width="44.7" height="1.8" fill="#ff9393"/><rect x="601.9" y="100.9" width="44.7" height="1.3" fill="#ff8585"/><rect x="601.9" y="101.9" width="44.7" height="1.3" fill="#ffa5a5"/><rect x="601.9" y="102.9" width="44.7" height="1.3" fill="#ff8b8b"/><rect x="601.9" y="103.9" width="44.7" height="1.3" fill="#ff8d8d"/><rect x="601.9" y="104.9" width="44.7" height="1.3" fill="#ff9e9e"/><rect x="601.9" y="105.9" width="44.7" height="1.3" fill="#ff8a8a"/><rect x="601.9" y="106.9" width="44.7" height="0.4" fill="#ff6d6d"/><rect x="601.9" y="107" width="44.7" height="1.3" fill="#ff6565"/><rect x="601.9" y="108" width="44.7" height="1.8" fill="#ff5050"/><rect x="601.9" y="109.5" width="44.7" height="1.3" fill="#ff4040"/><rect x="601.9" y="110.5" width="44.7" height="1.8" fill="#ff5e5e"/><rect x="601.9" y="112" width="44.7" height="2.3" fill="#ff8989"/><rect x="601.9" y="114" width="44.7" height="1.3" fill="#ff8888"/><rect x="601.9" y="115" width="44.7" height="2.3" fill="#ff7676"/><rect x="601.9" y="117" width="44.7" height="1.3" fill="#ff8c8c"/><rect x="601.9" y="118" width="44.7" height="1.3" fill="#ff8989"/><rect x="601.9" y="119" width="44.7" height="2.3" fill="#ff7575"/><rect x="601.9" y="121" width="44.7" height="0.8" fill="#ff7070"/><rect x="601.9" y="121.5" width="44.7" height="2.3" fill="#ffbcbc"/><rect x="601.9" y="123.5" width="44.7" height="1.3" fill="#ffc0c0"/><rect x="601.9" y="124.5" width="44.7" height="1.6" fill="#ffcfcf"/><rect x="601.9" y="125.8" width="44.7" height="1.3" fill="#ffa7a7"/><rect x="601.9" y="126.8" width="44.7" height="1.3" fill="#ff9696"/><rect x="601.9" y="127.8" width="44.7" height="1.8" fill="#ff9c9c"/><rect x="601.9" y="129.3" width="44.7" height="1.8" fill="#ff9696"/><rect x="601.9" y="130.8" width="44.7" height="0.4" fill="#ff9898"/><rect x="601.9" y="130.9" width="44.7" height="1.3" fill="#ff9c9c"/><rect x="601.9" y="131.9" width="44.7" height="1.8" fill="#ffb0b0"/><rect x="601.9" y="133.4" width="44.7" height="1.8" fill="#ffaaaa"/><rect x="601.9" y="134.9" width="44.7" height="1.3" fill="#ffc1c1"/><rect x="601.9" y="135.9" width="44.7" height="0.4" fill="#ffb0b0"/><rect x="601.9" y="136" width="44.7" height="2.3" fill="#ff8585"/><rect x="601.9" y="138" width="44.7" height="2.3" fill="#ff7d7d"/><rect x="601.9" y="140" width="44.7" height="1.5" fill="#ff9090"/><rect x="601.9" y="141.2" width="44.7" height="1.3" fill="#ff7d7d"/><rect x="601.9" y="142.2" width="44.7" height="1.3" fill="#ff6b6b"/><rect x="601.9" y="143.2" width="44.7" height="2.3" fill="#ff8686"/><rect x="601.9" y="145.2" width="44.7" height="1.3" fill="#ff8080"/><rect x="601.9" y="146.2" width="44.7" height="2.1" fill="#ff9292"/><rect x="601.9" y="148" width="44.7" height="2.3" fill="#ff9b9b"/><rect x="601.9" y="150" width="44.7" height="1.3" fill="#ffa4a4"/><rect x="601.9" y="151" width="44.7" height="1.3" fill="#ff8686"/><rect x="601.9" y="152" width="44.7" height="1.3" fill="#ff7e7e"/><rect x="601.9" y="153" width="44.7" height="1.3" fill="#ff9797"/><rect x="601.9" y="154" width="44.7" height="1.3" fill="#ffafaf"/><rect x="601.9" y="155" width="44.7" height="1.3" fill="#ff7e7e"/><rect x="601.9" y="156" width="44.7" height="1.3" fill="#ff9999"/><rect x="601.9" y="157" width="44.7" height="1.3" fill="#ff8383"/><rect x="601.9" y="158" width="44.7" height="1" fill="#ff9898"/><rect x="601.9" y="158.7" width="44.7" height="2" fill="#ffeaea"/><rect x="601.9" y="160.4" width="44.7" height="2.3" fill="#ffb0b0"/><rect x="601.9" y="162.4" width="44.7" height="1.3" fill="#ffaeae"/><rect x="601.9" y="163.4" width="44.7" height="1.6" fill="#ffa5a5"/><rect x="601.9" y="164.7" width="44.7" height="2.3" fill="#ffd4d4"/><rect x="601.9" y="166.7" width="44.7" height="1.8" fill="#ffd3d3"/><rect x="601.9" y="168.2" width="44.7" height="1.8" fill="#ffe9e9"/><rect x="601.9" y="169.7" width="44.7" height="0.4" fill="#ffd7d7"/><rect x="601.9" y="169.8" width="44.7" height="2.3" fill="#fff4f4"/><rect x="601.9" y="171.8" width="44.7" height="1.8" fill="#ffeeee"/><rect x="601.9" y="173.3" width="44.7" height="2" fill="#fffafa"/><rect x="601.9" y="175" width="44.7" height="1.3" fill="#ffc2c2"/><rect x="601.9" y="176" width="44.7" height="2.3" fill="#ffd5d5"/><rect x="601.9" y="178" width="44.7" height="1.8" fill="#ffdddd"/><rect x="601.9" y="179.5" width="44.7" height="2.3" fill="#ffcdcd"/><rect x="601.9" y="181.5" width="44.7" height="0.6" fill="#ffd8d8"/><rect x="601.9" y="181.8" width="44.7" height="1.3" fill="#ffb7b7"/><rect x="601.9" y="182.8" width="44.7" height="1.3" fill="#ffabab"/><rect x="601.9" y="183.8" width="44.7" height="1.3" fill="#ffb3b3"/><rect x="601.9" y="184.8" width="44.7" height="1.3" fill="#ffc1c1"/><rect x="601.9" y="185.8" width="44.7" height="2.3" fill="#ffb8b8"/><rect x="601.9" y="187.8" width="44.7" height="1.1" fill="#ffa0a0"/><rect x="601.9" y="188.6" width="44.7" height="2.3" fill="#ffebeb"/><rect x="601.9" y="190.6" width="44.7" height="0.9" fill="#fff4f4"/><rect x="601.9" y="191.2" width="44.7" height="1.3" fill="#ffb0b0"/><rect x="601.9" y="192.2" width="44.7" height="1.8" fill="#ffbcbc"/><rect x="601.9" y="193.7" width="44.7" height="1.3" fill="#ffb6b6"/><rect x="601.9" y="194.7" width="44.7" height="1.8" fill="#ffb0b0"/><rect x="601.9" y="196.2" width="44.7" height="1.3" fill="#ffb7b7"/><rect x="601.9" y="197.2" width="44.7" height="1.3" fill="#ff9f9f"/><rect x="601.9" y="198.2" width="44.7" height="1.3" fill="#ffabab"/><rect x="601.9" y="199.2" width="44.7" height="1.3" fill="#ffb6b6"/><rect x="601.9" y="200.2" width="44.7" height="1.3" fill="#ffb7b7"/><rect x="601.9" y="201.2" width="44.7" height="0.5" fill="#ffbbbb"/><rect x="601.9" y="201.4" width="44.7" height="2.3" fill="#ff9595"/><rect x="601.9" y="203.4" width="44.7" height="1.3" fill="#ff7f7f"/><rect x="601.9" y="204.4" width="44.7" height="1.8" fill="#ffa0a0"/><rect x="601.9" y="205.9" width="44.7" height="1.4" fill="#ff9898"/><rect x="601.9" y="207" width="44.7" height="1.3" fill="#ffa7a7"/><rect x="601.9" y="208" width="44.7" height="1.8" fill="#ffa9a9"/><rect x="601.9" y="209.5" width="44.7" height="1.3" fill="#ffa9a9"/><rect x="601.9" y="210.5" width="44.7" height="1.8" fill="#ffa2a2"/><rect x="601.9" y="212" width="44.7" height="1.3" fill="#ff9797"/><rect x="601.9" y="213" width="44.7" height="2.3" fill="#ffa0a0"/><rect x="601.9" y="215" width="44.7" height="0.8" fill="#ffb1b1"/><rect x="601.9" y="215.5" width="44.7" height="1.3" fill="#ffbdbd"/><rect x="601.9" y="216.5" width="44.7" height="1.3" fill="#ffb4b4"/><rect x="601.9" y="217.5" width="44.7" height="1.3" fill="#ffbebe"/><rect x="601.9" y="218.5" width="44.7" height="2.3" fill="#ffc6c6"/><rect x="601.9" y="220.5" width="44.7" height="1.3" fill="#ffaaaa"/><rect x="601.9" y="221.5" width="44.7" height="2.3" fill="#ffd0d0"/><rect x="601.9" y="223.5" width="44.7" height="0.8" fill="#ffbcbc"/><rect x="601.9" y="224" width="44.7" height="1.3" fill="#ffc2c2"/><rect x="601.9" y="225" width="44.7" height="1.3" fill="#ffb4b4"/><rect x="601.9" y="226" width="44.7" height="2.3" fill="#ff9696"/><rect x="601.9" y="228" width="44.7" height="2.3" fill="#ffa1a1"/><rect x="601.9" y="230" width="44.7" height="1.8" fill="#ffa1a1"/><rect x="601.9" y="231.5" width="44.7" height="1.4" fill="#ffa4a4"/><rect x="601.9" y="232.6" width="44.7" height="1.8" fill="#fff6f6"/><rect x="601.9" y="234.1" width="44.7" height="1.3" fill="#ffd6d6"/><rect x="601.9" y="235.1" width="44.7" height="1.2" fill="#ffe9e9"/><rect x="601.9" y="236" width="44.7" height="1.8" fill="#b6b6ff"/><rect x="601.9" y="237.5" width="44.7" height="1.3" fill="#bdbdff"/><rect x="601.9" y="238.5" width="44.7" height="2.3" fill="#c0c0ff"/><rect x="601.9" y="240.5" width="44.7" height="1" fill="#bebeff"/><rect x="601.9" y="241.2" width="44.7" height="1.3" fill="#ffa9a9"/><rect x="601.9" y="242.2" width="44.7" height="1.3" fill="#ffcfcf"/><rect x="601.9" y="243.2" width="44.7" height="1.7" fill="#ffb6b6"/><rect x="601.9" y="244.6" width="44.7" height="1.3" fill="#a7a7ff"/><rect x="601.9" y="245.6" width="44.7" height="2.3" fill="#b5b5ff"/><rect x="601.9" y="247.6" width="44.7" height="2.3" fill="#bcbcff"/><rect x="601.9" y="249.6" width="44.7" height="0.4" fill="#b2b2ff"/><rect x="601.9" y="249.7" width="44.7" height="1.3" fill="#f2f2ff"/><rect x="601.9" y="250.7" width="44.7" height="1.3" fill="#f7f7ff"/><rect x="601.9" y="251.7" width="44.7" height="1.3" fill="#f4f4ff"/><rect x="601.9" y="252.7" width="44.7" height="0.8" fill="#ececff"/><rect x="601.9" y="253.2" width="44.7" height="2.3" fill="#ffe2e2"/><rect x="601.9" y="255.2" width="44.7" height="1.3" fill="#ffe0e0"/><rect x="601.9" y="256.2" width="44.7" height="1.1" fill="#ffeded"/><rect x="601.9" y="257" width="44.7" height="2.3" fill="#9494ff"/><rect x="601.9" y="259" width="44.7" height="1.3" fill="#7777ff"/><rect x="601.9" y="260" width="44.7" height="0.7" fill="#8989ff"/><rect x="601.9" y="260.4" width="44.7" height="2.3" fill="#d1d1ff"/><rect x="601.9" y="262.4" width="44.7" height="0.9" fill="#d7d7ff"/><rect x="601.9" y="263" width="44.7" height="1.3" fill="#ffe8e8"/><rect x="601.9" y="264" width="44.7" height="2.3" fill="#ffe0e0"/><rect x="601.9" y="266" width="44.7" height="0.7" fill="#ffe3e3"/><rect x="601.9" y="266.4" width="44.7" height="1.3" fill="#b6b6ff"/><rect x="601.9" y="267.4" width="44.7" height="1.3" fill="#bbbbff"/><rect x="601.9" y="268.4" width="44.7" height="1.8" fill="#ababff"/><rect x="601.9" y="269.9" width="44.7" height="1.1" fill="#b5b5ff"/><rect x="601.9" y="270.7" width="44.7" height="1.3" fill="#5353ff"/><rect x="601.9" y="271.7" width="44.7" height="2.3" fill="#7c7cff"/><rect x="601.9" y="273.7" width="44.7" height="0.7" fill="#4d4dff"/><rect x="601.9" y="274.1" width="44.7" height="1.3" fill="#e5e5ff"/><rect x="601.9" y="275.1" width="44.7" height="1.9" fill="#f2f2ff"/><rect x="601.9" y="276.7" width="44.7" height="1.8" fill="#b2b2ff"/><rect x="601.9" y="278.2" width="44.7" height="1.3" fill="#c5c5ff"/><rect x="601.9" y="279.2" width="44.7" height="2.1" fill="#afafff"/><rect x="601.9" y="281" width="44.7" height="1.3" fill="#1b1bff"/><rect x="601.9" y="282" width="44.7" height="2.3" fill="#3232ff"/><rect x="601.9" y="284" width="44.7" height="1.8" fill="#1010ff"/><rect x="601.9" y="285.5" width="44.7" height="2.3" fill="#1f1fff"/><rect x="601.9" y="287.5" width="44.7" height="1.3" fill="#0c0cff"/><rect x="601.9" y="288.5" width="44.7" height="1.3" fill="#3434ff"/><rect x="601.9" y="289.5" width="44.7" height="2.3" fill="#3434ff"/><rect x="601.9" y="291.5" width="44.7" height="1.3" fill="#2828ff"/><rect x="601.9" y="292.5" width="44.7" height="1.3" fill="#3333ff"/><rect x="601.9" y="293.5" width="44.7" height="1.8" fill="#0000ff"/><rect x="601.9" y="295" width="44.7" height="1.3" fill="#0e0eff"/><rect x="601.9" y="296" width="44.7" height="1.3" fill="#1e1eff"/><rect x="601.9" y="297" width="44.7" height="2.3" fill="#1313ff"/><rect x="601.9" y="299" width="44.7" height="2.3" fill="#0202ff"/><rect x="601.9" y="301" width="44.7" height="1.3" fill="#4242ff"/><rect x="601.9" y="302" width="44.7" height="1.3" fill="#4c4cff"/><rect x="601.9" y="303" width="44.7" height="1.3" fill="#5f5fff"/><rect x="601.9" y="304" width="44.7" height="1.3" fill="#1f1fff"/><rect x="601.9" y="305" width="44.7" height="1.3" fill="#4545ff"/><rect x="601.9" y="306" width="44.7" height="1.3" fill="#2424ff"/><rect x="601.9" y="307" width="44.7" height="2.3" fill="#6969ff"/><rect x="601.9" y="309" width="44.7" height="1.8" fill="#6969ff"/><rect x="601.9" y="310.5" width="44.7" height="1.8" fill="#6b6bff"/><rect x="601.9" y="312" width="44.7" height="2" fill="#6363ff"/><rect x="601.9" y="313.7" width="44.7" height="2" fill="#bfbfff"/><rect x="601.9" y="315.4" width="44.7" height="1.8" fill="#4545ff"/><rect x="601.9" y="316.9" width="44.7" height="1.8" fill="#0c0cff"/><rect x="601.9" y="318.4" width="44.7" height="2.3" fill="#3838ff"/><rect x="601.9" y="320.4" width="44.7" height="1.3" fill="#2a2aff"/><rect x="601.9" y="321.4" width="44.7" height="1.8" fill="#4444ff"/><rect x="601.9" y="322.9" width="44.7" height="0.4" fill="#4848ff"/><rect x="601.9" y="323" width="44.7" height="1.8" fill="#6a6aff"/><rect x="601.9" y="324.5" width="44.7" height="1.3" fill="#7777ff"/><rect x="601.9" y="325.5" width="44.7" height="1.3" fill="#6b6bff"/><rect x="601.9" y="326.5" width="44.7" height="2.3" fill="#6f6fff"/><rect x="601.9" y="328.5" width="44.7" height="0.8" fill="#7171ff"/><rect x="601.9" y="329" width="44.7" height="1.8" fill="#4d4dff"/><rect x="601.9" y="330.5" width="44.7" height="1.3" fill="#3636ff"/><rect x="601.9" y="331.5" width="44.7" height="1.3" fill="#4a4aff"/><rect x="601.9" y="332.5" width="44.7" height="1.3" fill="#b4b4ff"/><rect x="601.9" y="333.5" width="44.7" height="1.3" fill="#a5a5ff"/><rect x="601.9" y="334.5" width="44.7" height="2.3" fill="#a1a1ff"/><rect x="601.9" y="336.5" width="44.7" height="1.8" fill="#9d9dff"/><rect x="601.9" y="338" width="44.7" height="1.3" fill="#a2a2ff"/><rect x="601.9" y="339" width="44.7" height="1.5" fill="#9999ff"/><rect x="601.9" y="340.2" width="44.7" height="1.8" fill="#8d8dff"/><rect x="601.9" y="341.7" width="44.7" height="0.5" fill="#8282ff"/><rect x="601.9" y="341.9" width="44.7" height="1.8" fill="#fff2f2"/><rect x="601.9" y="343.4" width="44.7" height="2.3" fill="#ffeeee"/><rect x="601.9" y="345.4" width="44.7" height="2.2" fill="#ffe8e8"/><rect x="646.2" y="57" width="44.7" height="1.3" fill="#ff8a8a"/><rect x="646.2" y="58" width="44.7" height="1.3" fill="#ff5f5f"/><rect x="646.2" y="59" width="44.7" height="0.9" fill="#ffa4a4"/><rect x="646.2" y="59.6" width="44.7" height="2.3" fill="#ff8e8e"/><rect x="646.2" y="61.6" width="44.7" height="1.3" fill="#ffacac"/><rect x="646.2" y="62.6" width="44.7" height="1.3" fill="#ff8989"/><rect x="646.2" y="63.6" width="44.7" height="0.5" fill="#ff9f9f"/><rect x="646.2" y="63.8" width="44.7" height="1.3" fill="#ffb3b3"/><rect x="646.2" y="64.8" width="44.7" height="1.9" fill="#ffb0b0"/><rect x="646.2" y="66.4" width="44.7" height="1.3" fill="#ff7d7d"/><rect x="646.2" y="67.4" width="44.7" height="1.3" fill="#ff8686"/><rect x="646.2" y="68.4" width="44.7" height="0.9" fill="#ff8a8a"/><rect x="646.2" y="69" width="44.7" height="2.3" fill="#ffb3b3"/><rect x="646.2" y="71" width="44.7" height="1.3" fill="#ffaaaa"/><rect x="646.2" y="72" width="44.7" height="2.3" fill="#ffc8c8"/><rect x="646.2" y="74" width="44.7" height="0.4" fill="#ffc5c5"/><rect x="646.2" y="74.1" width="44.7" height="2" fill="#c0c0ff"/><rect x="646.2" y="75.8" width="44.7" height="1.3" fill="#ff9898"/><rect x="646.2" y="76.8" width="44.7" height="2.3" fill="#ffacac"/><rect x="646.2" y="78.8" width="44.7" height="1.5" fill="#ffa6a6"/><rect x="646.2" y="80" width="44.7" height="1.3" fill="#ffc1c1"/><rect x="646.2" y="81" width="44.7" height="1.3" fill="#ffe0e0"/><rect x="646.2" y="82" width="44.7" height="1.8" fill="#ffdcdc"/><rect x="646.2" y="83.5" width="44.7" height="2" fill="#ffe4e4"/><rect x="646.2" y="85.2" width="44.7" height="1.3" fill="#ffa5a5"/><rect x="646.2" y="86.2" width="44.7" height="2.3" fill="#ffbaba"/><rect x="646.2" y="88.2" width="44.7" height="1.3" fill="#ffbcbc"/><rect x="646.2" y="89.2" width="44.7" height="1.3" fill="#ffa9a9"/><rect x="646.2" y="90.2" width="44.7" height="1.3" fill="#ffb9b9"/><rect x="646.2" y="91.2" width="44.7" height="1.3" fill="#ffbdbd"/><rect x="646.2" y="92.2" width="44.7" height="1.3" fill="#ffa0a0"/><rect x="646.2" y="93.2" width="44.7" height="0.9" fill="#ffb3b3"/><rect x="646.2" y="93.8" width="44.7" height="2.3" fill="#ffe0e0"/><rect x="646.2" y="95.8" width="44.7" height="1.3" fill="#ffd0d0"/><rect x="646.2" y="96.8" width="44.7" height="1.3" fill="#ffcece"/><rect x="646.2" y="97.8" width="44.7" height="0.5" fill="#ffd9d9"/><rect x="646.2" y="98" width="44.7" height="1.3" fill="#ff9a9a"/><rect x="646.2" y="99" width="44.7" height="1.8" fill="#ffb3b3"/><rect x="646.2" y="100.5" width="44.7" height="1.3" fill="#ffa6a6"/><rect x="646.2" y="101.5" width="44.7" height="2.3" fill="#ff9a9a"/><rect x="646.2" y="103.5" width="44.7" height="1.3" fill="#ffb9b9"/><rect x="646.2" y="104.5" width="44.7" height="1.3" fill="#ffafaf"/><rect x="646.2" y="105.5" width="44.7" height="1.3" fill="#ff9292"/><rect x="646.2" y="106.5" width="44.7" height="0.8" fill="#ff9898"/><rect x="646.2" y="107" width="44.7" height="1.3" fill="#ffb4b4"/><rect x="646.2" y="108" width="44.7" height="1.8" fill="#ffc3c3"/><rect x="646.2" y="109.5" width="44.7" height="1.3" fill="#ffa8a8"/><rect x="646.2" y="110.5" width="44.7" height="1.3" fill="#ffa7a7"/><rect x="646.2" y="111.5" width="44.7" height="0.8" fill="#ffadad"/><rect x="646.2" y="112" width="44.7" height="1.3" fill="#ffbdbd"/><rect x="646.2" y="113" width="44.7" height="1.3" fill="#ffcece"/><rect x="646.2" y="114" width="44.7" height="1.3" fill="#ffc1c1"/><rect x="646.2" y="115" width="44.7" height="2.3" fill="#ffd1d1"/><rect x="646.2" y="117" width="44.7" height="0.6" fill="#ffbbbb"/><rect x="646.2" y="117.3" width="44.7" height="1.8" fill="#ffcaca"/><rect x="646.2" y="118.8" width="44.7" height="2.2" fill="#ffe2e2"/><rect x="646.2" y="120.7" width="44.7" height="2.3" fill="#ffa5a5"/><rect x="646.2" y="122.7" width="44.7" height="1.3" fill="#ff8888"/><rect x="646.2" y="123.7" width="44.7" height="2.3" fill="#ff8989"/><rect x="646.2" y="125.7" width="44.7" height="0.4" fill="#ffa7a7"/><rect x="646.2" y="125.8" width="44.7" height="1.8" fill="#ff8686"/><rect x="646.2" y="127.3" width="44.7" height="2.3" fill="#ff8a8a"/><rect x="646.2" y="129.3" width="44.7" height="2.3" fill="#ff7979"/><rect x="646.2" y="131.3" width="44.7" height="1.3" fill="#ff9090"/><rect x="646.2" y="132.3" width="44.7" height="2.3" fill="#ff8d8d"/><rect x="646.2" y="134.3" width="44.7" height="0.4" fill="#ff9f9f"/><rect x="646.2" y="134.4" width="44.7" height="2.3" fill="#ff9393"/><rect x="646.2" y="136.4" width="44.7" height="1.3" fill="#ff9292"/><rect x="646.2" y="137.4" width="44.7" height="1.8" fill="#ff9c9c"/><rect x="646.2" y="138.9" width="44.7" height="0.9" fill="#ff8282"/><rect x="646.2" y="139.5" width="44.7" height="1.3" fill="#ffc0c0"/><rect x="646.2" y="140.5" width="44.7" height="1.3" fill="#ffc2c2"/><rect x="646.2" y="141.5" width="44.7" height="1.8" fill="#ffe4e4"/><rect x="646.2" y="143" width="44.7" height="1.3" fill="#ffbbbb"/><rect x="646.2" y="144" width="44.7" height="0.9" fill="#ffc4c4"/><rect x="646.2" y="144.6" width="44.7" height="1.3" fill="#ffb0b0"/><rect x="646.2" y="145.6" width="44.7" height="2.3" fill="#ff9a9a"/><rect x="646.2" y="147.6" width="44.7" height="1.3" fill="#ffa8a8"/><rect x="646.2" y="148.6" width="44.7" height="2.3" fill="#ffc7c7"/><rect x="646.2" y="150.6" width="44.7" height="1.3" fill="#ffaeae"/><rect x="646.2" y="151.6" width="44.7" height="1.3" fill="#ffb3b3"/><rect x="646.2" y="152.6" width="44.7" height="2.3" fill="#ffbbbb"/><rect x="646.2" y="154.6" width="44.7" height="1.3" fill="#ffa6a6"/><rect x="646.2" y="155.6" width="44.7" height="1.7" fill="#ffb2b2"/><rect x="646.2" y="157" width="44.7" height="1.8" fill="#ffcaca"/><rect x="646.2" y="158.5" width="44.7" height="1.3" fill="#ffe9e9"/><rect x="646.2" y="159.5" width="44.7" height="0.4" fill="#ffcaca"/><rect x="646.2" y="159.6" width="44.7" height="1.3" fill="#ff8d8d"/><rect x="646.2" y="160.6" width="44.7" height="1.8" fill="#ff9090"/><rect x="646.2" y="162.1" width="44.7" height="1.3" fill="#ff8a8a"/><rect x="646.2" y="163.1" width="44.7" height="1.3" fill="#ff9292"/><rect x="646.2" y="164.1" width="44.7" height="2.3" fill="#ff9494"/><rect x="646.2" y="166.1" width="44.7" height="1.3" fill="#ff9a9a"/><rect x="646.2" y="167.1" width="44.7" height="0.5" fill="#ff9494"/><rect x="646.2" y="167.3" width="44.7" height="1.3" fill="#ff9b9b"/><rect x="646.2" y="168.3" width="44.7" height="1.3" fill="#ffa2a2"/><rect x="646.2" y="169.3" width="44.7" height="1.3" fill="#ffacac"/><rect x="646.2" y="170.3" width="44.7" height="2.3" fill="#ffbaba"/><rect x="646.2" y="172.3" width="44.7" height="0.4" fill="#ff9595"/><rect x="646.2" y="172.4" width="44.7" height="1.8" fill="#ff8888"/><rect x="646.2" y="173.9" width="44.7" height="2.3" fill="#ff9090"/><rect x="646.2" y="175.9" width="44.7" height="1.3" fill="#ff9999"/><rect x="646.2" y="176.9" width="44.7" height="2.3" fill="#ff8f8f"/><rect x="646.2" y="178.9" width="44.7" height="1.3" fill="#ffb8b8"/><rect x="646.2" y="179.9" width="44.7" height="1.8" fill="#ff9e9e"/><rect x="646.2" y="181.4" width="44.7" height="0.7" fill="#ff8383"/><rect x="646.2" y="181.8" width="44.7" height="2.3" fill="#ffadad"/><rect x="646.2" y="183.8" width="44.7" height="1.3" fill="#ff9e9e"/><rect x="646.2" y="184.8" width="44.7" height="1.3" fill="#ffa1a1"/><rect x="646.2" y="185.8" width="44.7" height="1.3" fill="#ff9898"/><rect x="646.2" y="186.8" width="44.7" height="2.3" fill="#ffa2a2"/><rect x="646.2" y="188.8" width="44.7" height="1.8" fill="#ff8e8e"/><rect x="646.2" y="190.3" width="44.7" height="1.2" fill="#ff9696"/><rect x="646.2" y="191.2" width="44.7" height="1.3" fill="#ffa3a3"/><rect x="646.2" y="192.2" width="44.7" height="1.3" fill="#ffa1a1"/><rect x="646.2" y="193.2" width="44.7" height="1.3" fill="#ff8383"/><rect x="646.2" y="194.2" width="44.7" height="2.3" fill="#ff9a9a"/><rect x="646.2" y="196.2" width="44.7" height="2.3" fill="#ffa1a1"/><rect x="646.2" y="198.2" width="44.7" height="1.8" fill="#ff9090"/><rect x="646.2" y="199.7" width="44.7" height="1.3" fill="#ff8d8d"/><rect x="646.2" y="200.7" width="44.7" height="1.8" fill="#ff8989"/><rect x="646.2" y="202.2" width="44.7" height="1.3" fill="#ff9393"/><rect x="646.2" y="203.2" width="44.7" height="1.8" fill="#ffa6a6"/><rect x="646.2" y="204.7" width="44.7" height="1.3" fill="#ffbaba"/><rect x="646.2" y="205.7" width="44.7" height="1.3" fill="#ff9a9a"/><rect x="646.2" y="206.7" width="44.7" height="0.6" fill="#ff9c9c"/><rect x="646.2" y="207" width="44.7" height="2.3" fill="#ffafaf"/><rect x="646.2" y="209" width="44.7" height="1.3" fill="#ffacac"/><rect x="646.2" y="210" width="44.7" height="1.3" fill="#ff8b8b"/><rect x="646.2" y="211" width="44.7" height="1.3" fill="#ffacac"/><rect x="646.2" y="212" width="44.7" height="1.8" fill="#ffb3b3"/><rect x="646.2" y="213.5" width="44.7" height="1.8" fill="#ffa1a1"/><rect x="646.2" y="215" width="44.7" height="0.8" fill="#ff9999"/><rect x="646.2" y="215.5" width="44.7" height="1.8" fill="#ffaeae"/><rect x="646.2" y="217" width="44.7" height="1.3" fill="#ffb0b0"/><rect x="646.2" y="218" width="44.7" height="1.3" fill="#ffb7b7"/><rect x="646.2" y="219" width="44.7" height="1.3" fill="#ffb0b0"/><rect x="646.2" y="220" width="44.7" height="1.3" fill="#ffa7a7"/><rect x="646.2" y="221" width="44.7" height="2.3" fill="#ffa8a8"/><rect x="646.2" y="223" width="44.7" height="1.3" fill="#ff9999"/><rect x="646.2" y="224" width="44.7" height="2.3" fill="#ffb1b1"/><rect x="646.2" y="226" width="44.7" height="1.3" fill="#ffbaba"/><rect x="646.2" y="227" width="44.7" height="1.3" fill="#ffacac"/><rect x="646.2" y="228" width="44.7" height="2.3" fill="#ffa4a4"/><rect x="646.2" y="230" width="44.7" height="1.8" fill="#ffa7a7"/><rect x="646.2" y="231.5" width="44.7" height="1.3" fill="#ffa8a8"/><rect x="646.2" y="232.5" width="44.7" height="1.3" fill="#ffacac"/><rect x="646.2" y="233.5" width="44.7" height="1.3" fill="#ffb6b6"/><rect x="646.2" y="234.5" width="44.7" height="1" fill="#ffc5c5"/><rect x="646.2" y="235.2" width="44.7" height="1.3" fill="#bcbcff"/><rect x="646.2" y="236.2" width="44.7" height="1.3" fill="#b9b9ff"/><rect x="646.2" y="237.2" width="44.7" height="1.3" fill="#c6c6ff"/><rect x="646.2" y="238.2" width="44.7" height="0.7" fill="#ccccff"/><rect x="646.2" y="238.6" width="44.7" height="2.3" fill="#7c7cff"/><rect x="646.2" y="240.6" width="44.7" height="1.3" fill="#7b7bff"/><rect x="646.2" y="241.6" width="44.7" height="1.3" fill="#8f8fff"/><rect x="646.2" y="242.6" width="44.7" height="1.3" fill="#7f7fff"/><rect x="646.2" y="243.6" width="44.7" height="0.5" fill="#7878ff"/><rect x="646.2" y="243.8" width="44.7" height="1.3" fill="#b1b1ff"/><rect x="646.2" y="244.8" width="44.7" height="1.3" fill="#c5c5ff"/><rect x="646.2" y="245.8" width="44.7" height="2.3" fill="#b2b2ff"/><rect x="646.2" y="247.8" width="44.7" height="1.3" fill="#a2a2ff"/><rect x="646.2" y="248.8" width="44.7" height="1.8" fill="#b1b1ff"/><rect x="646.2" y="250.3" width="44.7" height="0.6" fill="#babaff"/><rect x="646.2" y="250.6" width="44.7" height="1.3" fill="#1f1fff"/><rect x="646.2" y="251.6" width="44.7" height="2.3" fill="#3333ff"/><rect x="646.2" y="253.6" width="44.7" height="2.3" fill="#3131ff"/><rect x="646.2" y="255.6" width="44.7" height="1.7" fill="#1c1cff"/><rect x="646.2" y="257" width="44.7" height="1.3" fill="#fbfbff"/><rect x="646.2" y="258" width="44.7" height="1.9" fill="#fff3f3"/><rect x="646.2" y="259.6" width="44.7" height="1.3" fill="#c8c8ff"/><rect x="646.2" y="260.6" width="44.7" height="1.8" fill="#d7d7ff"/><rect x="646.2" y="262.1" width="44.7" height="1.3" fill="#ffe5e5"/><rect x="646.2" y="263.1" width="44.7" height="1.3" fill="#ffdddd"/><rect x="646.2" y="264.1" width="44.7" height="2.3" fill="#ffdfdf"/><rect x="646.2" y="266.1" width="44.7" height="1.5" fill="#ffd4d4"/><rect x="646.2" y="267.3" width="44.7" height="1.3" fill="#fff5f5"/><rect x="646.2" y="268.3" width="44.7" height="1.3" fill="#ffe6e6"/><rect x="646.2" y="269.3" width="44.7" height="1.3" fill="#fff2f2"/><rect x="646.2" y="270.3" width="44.7" height="2.3" fill="#fff1f1"/><rect x="646.2" y="272.3" width="44.7" height="0.4" fill="#ffe4e4"/><rect x="646.2" y="272.4" width="44.7" height="2.3" fill="#e2e2ff"/><rect x="646.2" y="274.4" width="44.7" height="0.9" fill="#eeeeff"/><rect x="646.2" y="275" width="44.7" height="1.3" fill="#5656ff"/><rect x="646.2" y="276" width="44.7" height="1.3" fill="#5c5cff"/><rect x="646.2" y="277" width="44.7" height="2.3" fill="#5252ff"/><rect x="646.2" y="279" width="44.7" height="1.3" fill="#6c6cff"/><rect x="646.2" y="280" width="44.7" height="1.3" fill="#ffd6d6"/><rect x="646.2" y="281" width="44.7" height="2.3" fill="#ffdddd"/><rect x="646.2" y="283" width="44.7" height="1.3" fill="#ffd0d0"/><rect x="646.2" y="284" width="44.7" height="1.3" fill="#ffcece"/><rect x="646.2" y="285" width="44.7" height="1.8" fill="#ffeded"/><rect x="646.2" y="286.5" width="44.7" height="1.6" fill="#ffecec"/><rect x="646.2" y="287.8" width="44.7" height="1.3" fill="#fff3f3"/><rect x="646.2" y="288.8" width="44.7" height="1.3" fill="#fff2f2"/><rect x="646.2" y="289.8" width="44.7" height="1.3" fill="#fff4f4"/><rect x="646.2" y="290.8" width="44.7" height="1.3" fill="#fdfdff"/><rect x="646.2" y="291.8" width="44.7" height="1.3" fill="#fff5f5"/><rect x="646.2" y="292.8" width="44.7" height="0.4" fill="#fff3f3"/><rect x="646.2" y="292.9" width="44.7" height="1.8" fill="#eaeaff"/><rect x="646.2" y="294.4" width="44.7" height="2.3" fill="#fff4f4"/><rect x="646.2" y="296.4" width="44.7" height="1.3" fill="#ececff"/><rect x="646.2" y="297.4" width="44.7" height="0.9" fill="#f7f7ff"/><rect x="646.2" y="298" width="44.7" height="1.3" fill="#ffe2e2"/><rect x="646.2" y="299" width="44.7" height="1.8" fill="#ffd6d6"/><rect x="646.2" y="300.5" width="44.7" height="1.3" fill="#ffcccc"/><rect x="646.2" y="301.5" width="44.7" height="2.3" fill="#ffd7d7"/><rect x="646.2" y="303.5" width="44.7" height="1.3" fill="#ffdede"/><rect x="646.2" y="304.5" width="44.7" height="1.3" fill="#ffd8d8"/><rect x="646.2" y="305.5" width="44.7" height="1.8" fill="#ffd9d9"/><rect x="646.2" y="307" width="44.7" height="2.3" fill="#d3d3ff"/><rect x="646.2" y="309" width="44.7" height="1.3" fill="#dadaff"/><rect x="646.2" y="310" width="44.7" height="0.6" fill="#ddddff"/><rect x="646.2" y="310.3" width="44.7" height="1.8" fill="#b7b7ff"/><rect x="646.2" y="311.8" width="44.7" height="1.8" fill="#c9c9ff"/><rect x="646.2" y="313.3" width="44.7" height="1.3" fill="#d5d5ff"/><rect x="646.2" y="314.3" width="44.7" height="0.5" fill="#c6c6ff"/><rect x="646.2" y="314.5" width="44.7" height="1.3" fill="#ededff"/><rect x="646.2" y="315.5" width="44.7" height="1.8" fill="#f7f7ff"/><rect x="646.2" y="317" width="44.7" height="1.3" fill="#f2f2ff"/><rect x="646.2" y="318" width="44.7" height="1.3" fill="#ececff"/><rect x="646.2" y="319" width="44.7" height="1.3" fill="#eaeaff"/><rect x="646.2" y="320" width="44.7" height="2.3" fill="#fff4f4"/><rect x="646.2" y="322" width="44.7" height="2.3" fill="#eaeaff"/><rect x="646.2" y="324" width="44.7" height="1.3" fill="#ffc3c3"/><rect x="646.2" y="325" width="44.7" height="1.8" fill="#ffc4c4"/><rect x="646.2" y="326.5" width="44.7" height="2" fill="#ffc2c2"/><rect x="646.2" y="328.2" width="44.7" height="2.3" fill="#f4f4ff"/><rect x="646.2" y="330.2" width="44.7" height="2.3" fill="#fefeff"/><rect x="646.2" y="332.2" width="44.7" height="1.4" fill="#f3f3ff"/><rect x="646.2" y="333.3" width="44.7" height="2.3" fill="#c7c7ff"/><rect x="646.2" y="335.3" width="44.7" height="2.3" fill="#c6c6ff"/><rect x="646.2" y="337.3" width="44.7" height="0.6" fill="#c2c2ff"/><rect x="646.2" y="337.6" width="44.7" height="2.3" fill="#d9d9ff"/><rect x="646.2" y="339.6" width="44.7" height="1.3" fill="#cfcfff"/><rect x="646.2" y="340.6" width="44.7" height="1.3" fill="#d9d9ff"/><rect x="646.2" y="341.6" width="44.7" height="0.6" fill="#e1e1ff"/><rect x="646.2" y="341.9" width="44.7" height="2.3" fill="#ffdfdf"/><rect x="646.2" y="343.9" width="44.7" height="1.3" fill="#ffeded"/><rect x="646.2" y="344.9" width="44.7" height="2.3" fill="#ffe7e7"/><rect x="646.2" y="346.9" width="44.7" height="0.7" fill="#ffe9e9"/><rect x="690.5" y="57" width="44.7" height="1.3" fill="#ff8686"/><rect x="690.5" y="58" width="44.7" height="1.3" fill="#ff7474"/><rect x="690.5" y="59" width="44.7" height="1.3" fill="#ff8383"/><rect x="690.5" y="60" width="44.7" height="1.6" fill="#ff8484"/><rect x="690.5" y="61.3" width="44.7" height="1.3" fill="#ffd0d0"/><rect x="690.5" y="62.3" width="44.7" height="1.3" fill="#ffc9c9"/><rect x="690.5" y="63.3" width="44.7" height="1.3" fill="#ffcece"/><rect x="690.5" y="64.3" width="44.7" height="2.3" fill="#ffcece"/><rect x="690.5" y="66.3" width="44.7" height="1.3" fill="#ffcdcd"/><rect x="690.5" y="67.3" width="44.7" height="2.3" fill="#ffcdcd"/><rect x="690.5" y="69.3" width="44.7" height="1.8" fill="#ffdbdb"/><rect x="690.5" y="70.8" width="44.7" height="1.3" fill="#ffc4c4"/><rect x="690.5" y="71.8" width="44.7" height="1.3" fill="#ffcaca"/><rect x="690.5" y="72.8" width="44.7" height="1.3" fill="#ffd8d8"/><rect x="690.5" y="73.8" width="44.7" height="0.5" fill="#ffcbcb"/><rect x="690.5" y="74" width="44.7" height="1.3" fill="#ffa2a2"/><rect x="690.5" y="75" width="44.7" height="1.8" fill="#ff9696"/><rect x="690.5" y="76.5" width="44.7" height="1.3" fill="#ff7777"/><rect x="690.5" y="77.5" width="44.7" height="1.3" fill="#ffa7a7"/><rect x="690.5" y="78.5" width="44.7" height="2.3" fill="#ffb6b6"/><rect x="690.5" y="80.5" width="44.7" height="2.3" fill="#ffaeae"/><rect x="690.5" y="82.5" width="44.7" height="1.3" fill="#ffaeae"/><rect x="690.5" y="83.5" width="44.7" height="2.3" fill="#ffa3a3"/><rect x="690.5" y="85.5" width="44.7" height="1.3" fill="#ffb7b7"/><rect x="690.5" y="86.5" width="44.7" height="1.3" fill="#ffc0c0"/><rect x="690.5" y="87.5" width="44.7" height="1.3" fill="#ffaaaa"/><rect x="690.5" y="88.5" width="44.7" height="1.3" fill="#ffa8a8"/><rect x="690.5" y="89.5" width="44.7" height="1.3" fill="#ffbdbd"/><rect x="690.5" y="90.5" width="44.7" height="1.8" fill="#ffabab"/><rect x="690.5" y="92" width="44.7" height="1.2" fill="#ffb6b6"/><rect x="690.5" y="92.9" width="44.7" height="1.8" fill="#ffe3e3"/><rect x="690.5" y="94.4" width="44.7" height="1.8" fill="#ffd2d2"/><rect x="690.5" y="95.9" width="44.7" height="0.7" fill="#ffd1d1"/><rect x="690.5" y="96.3" width="44.7" height="2.3" fill="#ff9393"/><rect x="690.5" y="98.3" width="44.7" height="1.3" fill="#ff8a8a"/><rect x="690.5" y="99.3" width="44.7" height="1.3" fill="#ff9999"/><rect x="690.5" y="100.3" width="44.7" height="1.3" fill="#ff8383"/><rect x="690.5" y="101.3" width="44.7" height="1.8" fill="#ff9f9f"/><rect x="690.5" y="102.8" width="44.7" height="2.3" fill="#ff8585"/><rect x="690.5" y="104.8" width="44.7" height="1.8" fill="#ffa1a1"/><rect x="690.5" y="106.3" width="44.7" height="1" fill="#ff9a9a"/><rect x="690.5" y="107" width="44.7" height="2.3" fill="#ffaeae"/><rect x="690.5" y="109" width="44.7" height="1.3" fill="#ffcbcb"/><rect x="690.5" y="110" width="44.7" height="1.3" fill="#ffa1a1"/><rect x="690.5" y="111" width="44.7" height="1.3" fill="#ffa9a9"/><rect x="690.5" y="112" width="44.7" height="1.3" fill="#ffafaf"/><rect x="690.5" y="113" width="44.7" height="1.1" fill="#ffa8a8"/><rect x="690.5" y="113.8" width="44.7" height="1.3" fill="#ffdbdb"/><rect x="690.5" y="114.8" width="44.7" height="1.3" fill="#ffc9c9"/><rect x="690.5" y="115.8" width="44.7" height="1.3" fill="#ffd4d4"/><rect x="690.5" y="116.8" width="44.7" height="0.8" fill="#ffc6c6"/><rect x="690.5" y="117.3" width="44.7" height="1.3" fill="#ff5f5f"/><rect x="690.5" y="118.3" width="44.7" height="2.3" fill="#ff7979"/><rect x="690.5" y="120.3" width="44.7" height="2.3" fill="#ff7171"/><rect x="690.5" y="122.3" width="44.7" height="1.8" fill="#ff8585"/><rect x="690.5" y="123.8" width="44.7" height="0.5" fill="#ff7b7b"/><rect x="690.5" y="124" width="44.7" height="2.3" fill="#ff8f8f"/><rect x="690.5" y="126" width="44.7" height="1.3" fill="#ff9292"/><rect x="690.5" y="127" width="44.7" height="1.3" fill="#ff8c8c"/><rect x="690.5" y="128" width="44.7" height="1.3" fill="#ff9a9a"/><rect x="690.5" y="129" width="44.7" height="2.3" fill="#ffa9a9"/><rect x="690.5" y="131" width="44.7" height="1.8" fill="#ff9898"/><rect x="690.5" y="132.5" width="44.7" height="1.3" fill="#ff9797"/><rect x="690.5" y="133.5" width="44.7" height="1.2" fill="#ff9f9f"/><rect x="690.5" y="134.4" width="44.7" height="1.3" fill="#ffa7a7"/><rect x="690.5" y="135.4" width="44.7" height="2.3" fill="#ffc1c1"/><rect x="690.5" y="137.4" width="44.7" height="2.3" fill="#ffc3c3"/><rect x="690.5" y="139.4" width="44.7" height="1.3" fill="#ffb9b9"/><rect x="690.5" y="140.4" width="44.7" height="1.1" fill="#ffabab"/><rect x="690.5" y="141.2" width="44.7" height="1.3" fill="#ff7f7f"/><rect x="690.5" y="142.2" width="44.7" height="1.9" fill="#ffa9a9"/><rect x="690.5" y="143.8" width="44.7" height="2.3" fill="#b8b8ff"/><rect x="690.5" y="145.8" width="44.7" height="0.8" fill="#a0a0ff"/><rect x="690.5" y="146.3" width="44.7" height="1.3" fill="#ffcece"/><rect x="690.5" y="147.3" width="44.7" height="1.3" fill="#ffbfbf"/><rect x="690.5" y="148.3" width="44.7" height="2.3" fill="#ffbdbd"/><rect x="690.5" y="150.3" width="44.7" height="1.3" fill="#ffc4c4"/><rect x="690.5" y="151.3" width="44.7" height="2.3" fill="#ffc8c8"/><rect x="690.5" y="153.3" width="44.7" height="1.3" fill="#ffc0c0"/><rect x="690.5" y="154.3" width="44.7" height="1.3" fill="#ffbaba"/><rect x="690.5" y="155.3" width="44.7" height="1.3" fill="#ffb7b7"/><rect x="690.5" y="156.3" width="44.7" height="1" fill="#ffdbdb"/><rect x="690.5" y="157" width="44.7" height="1.8" fill="#ff7d7d"/><rect x="690.5" y="158.5" width="44.7" height="1.3" fill="#ff7474"/><rect x="690.5" y="159.5" width="44.7" height="2.3" fill="#ff7676"/><rect x="690.5" y="161.5" width="44.7" height="1.3" fill="#ff7e7e"/><rect x="690.5" y="162.5" width="44.7" height="2.3" fill="#ff8c8c"/><rect x="690.5" y="164.5" width="44.7" height="1.3" fill="#ffa3a3"/><rect x="690.5" y="165.5" width="44.7" height="2.3" fill="#ff8080"/><rect x="690.5" y="167.5" width="44.7" height="1.3" fill="#ff7a7a"/><rect x="690.5" y="168.5" width="44.7" height="2.3" fill="#ff7d7d"/><rect x="690.5" y="170.5" width="44.7" height="1.8" fill="#ff8a8a"/><rect x="690.5" y="172" width="44.7" height="0.7" fill="#ff9090"/><rect x="690.5" y="172.4" width="44.7" height="2.3" fill="#ff6060"/><rect x="690.5" y="174.4" width="44.7" height="2.3" fill="#ff7676"/><rect x="690.5" y="176.4" width="44.7" height="1.3" fill="#ff5959"/><rect x="690.5" y="177.4" width="44.7" height="1.3" fill="#ff6b6b"/><rect x="690.5" y="178.4" width="44.7" height="2.3" fill="#ff7575"/><rect x="690.5" y="180.4" width="44.7" height="1.7" fill="#ff5454"/><rect x="690.5" y="181.8" width="44.7" height="1.3" fill="#ffc1c1"/><rect x="690.5" y="182.8" width="44.7" height="1.9" fill="#ffc5c5"/><rect x="690.5" y="184.4" width="44.7" height="1.3" fill="#ff8f8f"/><rect x="690.5" y="185.4" width="44.7" height="1.3" fill="#ff9191"/><rect x="690.5" y="186.4" width="44.7" height="2.3" fill="#ff8686"/><rect x="690.5" y="188.4" width="44.7" height="2.3" fill="#ff8989"/><rect x="690.5" y="190.4" width="44.7" height="1.1" fill="#ff8b8b"/><rect x="690.5" y="191.2" width="44.7" height="1.3" fill="#ff7676"/><rect x="690.5" y="192.2" width="44.7" height="2.3" fill="#ff8f8f"/><rect x="690.5" y="194.2" width="44.7" height="2.3" fill="#ff7c7c"/><rect x="690.5" y="196.2" width="44.7" height="1.3" fill="#ff8484"/><rect x="690.5" y="197.2" width="44.7" height="1.3" fill="#ff9a9a"/><rect x="690.5" y="198.2" width="44.7" height="1.8" fill="#ff8f8f"/><rect x="690.5" y="199.7" width="44.7" height="1.3" fill="#ff8787"/><rect x="690.5" y="200.7" width="44.7" height="1" fill="#ff9191"/><rect x="690.5" y="201.4" width="44.7" height="1.8" fill="#ff7777"/><rect x="690.5" y="202.9" width="44.7" height="1.3" fill="#ff6969"/><rect x="690.5" y="203.9" width="44.7" height="2.3" fill="#ff6161"/><rect x="690.5" y="205.9" width="44.7" height="1.3" fill="#ff8c8c"/><rect x="690.5" y="206.9" width="44.7" height="0.4" fill="#ff7676"/><rect x="690.5" y="207" width="44.7" height="1.3" fill="#ff9f9f"/><rect x="690.5" y="208" width="44.7" height="2.3" fill="#ff9a9a"/><rect x="690.5" y="210" width="44.7" height="2.3" fill="#ff9191"/><rect x="690.5" y="212" width="44.7" height="0.4" fill="#ff8484"/><rect x="690.5" y="212.1" width="44.7" height="1.3" fill="#ffd5d5"/><rect x="690.5" y="213.1" width="44.7" height="2.3" fill="#ffcfcf"/><rect x="690.5" y="215.1" width="44.7" height="2.3" fill="#ffbebe"/><rect x="690.5" y="217.1" width="44.7" height="0.5" fill="#ffcccc"/><rect x="690.5" y="217.3" width="44.7" height="1.3" fill="#ff9999"/><rect x="690.5" y="218.3" width="44.7" height="1.3" fill="#ff8b8b"/><rect x="690.5" y="219.3" width="44.7" height="1.3" fill="#ff9595"/><rect x="690.5" y="220.3" width="44.7" height="1.3" fill="#ff7676"/><rect x="690.5" y="221.3" width="44.7" height="1.3" fill="#ff7979"/><rect x="690.5" y="222.3" width="44.7" height="1.8" fill="#ff7171"/><rect x="690.5" y="223.8" width="44.7" height="0.5" fill="#ff8787"/><rect x="690.5" y="224" width="44.7" height="2.3" fill="#ffc3c3"/><rect x="690.5" y="226" width="44.7" height="2.3" fill="#ffb5b5"/><rect x="690.5" y="228" width="44.7" height="1.3" fill="#ffaeae"/><rect x="690.5" y="229" width="44.7" height="1.3" fill="#ffb2b2"/><rect x="690.5" y="230" width="44.7" height="1.8" fill="#ffacac"/><rect x="690.5" y="231.5" width="44.7" height="1.3" fill="#ffbebe"/><rect x="690.5" y="232.5" width="44.7" height="1.3" fill="#ffb4b4"/><rect x="690.5" y="233.5" width="44.7" height="1.3" fill="#ffb1b1"/><rect x="690.5" y="234.5" width="44.7" height="1" fill="#ffa7a7"/><rect x="690.5" y="235.2" width="44.7" height="2.3" fill="#f5f5ff"/><rect x="690.5" y="237.2" width="44.7" height="1.3" fill="#e9e9ff"/><rect x="690.5" y="238.2" width="44.7" height="0.7" fill="#f1f1ff"/><rect x="690.5" y="238.6" width="44.7" height="1.3" fill="#bebeff"/><rect x="690.5" y="239.6" width="44.7" height="1.3" fill="#adadff"/><rect x="690.5" y="240.6" width="44.7" height="1.3" fill="#b6b6ff"/><rect x="690.5" y="241.6" width="44.7" height="1.3" fill="#c0c0ff"/><rect x="690.5" y="242.6" width="44.7" height="0.6" fill="#babaff"/><rect x="690.5" y="242.9" width="44.7" height="2.3" fill="#d0d0ff"/><rect x="690.5" y="244.9" width="44.7" height="1.3" fill="#b2b2ff"/><rect x="690.5" y="245.9" width="44.7" height="2.3" fill="#b6b6ff"/><rect x="690.5" y="247.9" width="44.7" height="1.3" fill="#c3c3ff"/><rect x="690.5" y="248.9" width="44.7" height="1.3" fill="#c7c7ff"/><rect x="690.5" y="249.9" width="44.7" height="1.8" fill="#b6b6ff"/><rect x="690.5" y="251.4" width="44.7" height="2.3" fill="#fff8f8"/><rect x="690.5" y="253.4" width="44.7" height="1.3" fill="#fcfcff"/><rect x="690.5" y="254.4" width="44.7" height="1.3" fill="#ededff"/><rect x="690.5" y="255.4" width="44.7" height="1.9" fill="#f9f9ff"/><rect x="690.5" y="257" width="44.7" height="1.3" fill="#ffeded"/><rect x="690.5" y="258" width="44.7" height="1.3" fill="#fefeff"/><rect x="690.5" y="259" width="44.7" height="0.9" fill="#ffd6d6"/><rect x="690.5" y="259.6" width="44.7" height="2.3" fill="#cacaff"/><rect x="690.5" y="261.6" width="44.7" height="0.8" fill="#ebebff"/><rect x="690.5" y="262.1" width="44.7" height="1.3" fill="#1a1aff"/><rect x="690.5" y="263.1" width="44.7" height="1.3" fill="#4141ff"/><rect x="690.5" y="264.1" width="44.7" height="1.3" fill="#4040ff"/><rect x="690.5" y="265.1" width="44.7" height="1.3" fill="#3232ff"/><rect x="690.5" y="266.1" width="44.7" height="1.5" fill="#1919ff"/><rect x="690.5" y="267.3" width="44.7" height="1.8" fill="#a7a7ff"/><rect x="690.5" y="268.8" width="44.7" height="1.3" fill="#b6b6ff"/><rect x="690.5" y="269.8" width="44.7" height="1.2" fill="#b4b4ff"/><rect x="690.5" y="270.7" width="44.7" height="1.8" fill="#ffc7c7"/><rect x="690.5" y="272.2" width="44.7" height="1.3" fill="#ffcfcf"/><rect x="690.5" y="273.2" width="44.7" height="1.2" fill="#ffb7b7"/><rect x="690.5" y="274.1" width="44.7" height="1.3" fill="#e8e8ff"/><rect x="690.5" y="275.1" width="44.7" height="1.3" fill="#fcfcff"/><rect x="690.5" y="276.1" width="44.7" height="2.3" fill="#fcfcff"/><rect x="690.5" y="278.1" width="44.7" height="1.3" fill="#fefeff"/><rect x="690.5" y="279.1" width="44.7" height="0.4" fill="#f7f7ff"/><rect x="690.5" y="279.2" width="44.7" height="2.3" fill="#ffe3e3"/><rect x="690.5" y="281.2" width="44.7" height="2.3" fill="#ffeded"/><rect x="690.5" y="283.2" width="44.7" height="1.5" fill="#ffe3e3"/><rect x="690.5" y="284.4" width="44.7" height="1.3" fill="#ffe3e3"/><rect x="690.5" y="285.4" width="44.7" height="1.3" fill="#ffd9d9"/><rect x="690.5" y="286.4" width="44.7" height="1.3" fill="#ffd5d5"/><rect x="690.5" y="287.4" width="44.7" height="2.3" fill="#ffe7e7"/><rect x="690.5" y="289.4" width="44.7" height="1.3" fill="#ffe3e3"/><rect x="690.5" y="290.4" width="44.7" height="1.1" fill="#ffe3e3"/><rect x="690.5" y="291.2" width="44.7" height="2.3" fill="#fff4f4"/><rect x="690.5" y="293.2" width="44.7" height="2.3" fill="#fafaff"/><rect x="690.5" y="295.2" width="44.7" height="2.3" fill="#fffcfc"/><rect x="690.5" y="297.2" width="44.7" height="1.1" fill="#fff5f5"/><rect x="690.5" y="298" width="44.7" height="1.3" fill="#ffe1e1"/><rect x="690.5" y="299" width="44.7" height="1.3" fill="#ffd7d7"/><rect x="690.5" y="300" width="44.7" height="2.3" fill="#ffdbdb"/><rect x="690.5" y="302" width="44.7" height="2.3" fill="#ffd4d4"/><rect x="690.5" y="304" width="44.7" height="2.3" fill="#ffc6c6"/><rect x="690.5" y="306" width="44.7" height="1.3" fill="#ffd6d6"/><rect x="690.5" y="307" width="44.7" height="1" fill="#ffffff"/><rect x="690.5" y="307.7" width="44.7" height="1.8" fill="#a7a7ff"/><rect x="690.5" y="309.2" width="44.7" height="1.8" fill="#e1e1ff"/><rect x="690.5" y="310.7" width="44.7" height="1.8" fill="#c6c6ff"/><rect x="690.5" y="312.2" width="44.7" height="1.8" fill="#c1c1ff"/><rect x="690.5" y="313.7" width="44.7" height="2.3" fill="#bcbcff"/><rect x="690.5" y="315.7" width="44.7" height="1.8" fill="#a9a9ff"/><rect x="690.5" y="317.2" width="44.7" height="2.3" fill="#adadff"/><rect x="690.5" y="319.2" width="44.7" height="1.3" fill="#a8a8ff"/><rect x="690.5" y="320.2" width="44.7" height="1.8" fill="#a5a5ff"/><rect x="690.5" y="321.7" width="44.7" height="0.8" fill="#9d9dff"/><rect x="690.5" y="322.2" width="44.7" height="1.3" fill="#8585ff"/><rect x="690.5" y="323.2" width="44.7" height="1.8" fill="#9a9aff"/><rect x="690.5" y="324.7" width="44.7" height="2.3" fill="#7676ff"/><rect x="690.5" y="326.7" width="44.7" height="0.9" fill="#7171ff"/><rect x="690.5" y="327.3" width="44.7" height="1.3" fill="#ffd0d0"/><rect x="690.5" y="328.3" width="44.7" height="1.3" fill="#ffd8d8"/><rect x="690.5" y="329.3" width="44.7" height="1.3" fill="#ffdada"/><rect x="690.5" y="330.3" width="44.7" height="1.3" fill="#ffcaca"/><rect x="690.5" y="331.3" width="44.7" height="1.5" fill="#ffe8e8"/><rect x="690.5" y="332.5" width="44.7" height="1.3" fill="#b6b6ff"/><rect x="690.5" y="333.5" width="44.7" height="1.3" fill="#a2a2ff"/><rect x="690.5" y="334.5" width="44.7" height="2.3" fill="#c7c7ff"/><rect x="690.5" y="336.5" width="44.7" height="1.4" fill="#a5a5ff"/><rect x="690.5" y="337.6" width="44.7" height="1.8" fill="#ffcbcb"/><rect x="690.5" y="339.1" width="44.7" height="1.3" fill="#ffdfdf"/><rect x="690.5" y="340.1" width="44.7" height="1.3" fill="#ffbdbd"/><rect x="690.5" y="341.1" width="44.7" height="1.1" fill="#ffbebe"/><rect x="690.5" y="341.9" width="44.7" height="2.3" fill="#5959ff"/><rect x="690.5" y="343.9" width="44.7" height="1.3" fill="#5151ff"/><rect x="690.5" y="344.9" width="44.7" height="1.3" fill="#6a6aff"/><rect x="690.5" y="345.9" width="44.7" height="0.6" fill="#7373ff"/><rect x="690.5" y="346.2" width="44.7" height="1.4" fill="#bbbbff"/></g>
<rect x="469" y="47.3" width="132.9" height="7.4" fill="#FA8A80"/>
<rect x="601.9" y="47.3" width="132.9" height="7.4" fill="#00D6DE"/>
<path d="M535.5 46.5V28.6H579.8 V46.5M491.1 46.5V25.9H557.6 V28.6M668.4 46.5V31.9H712.6 V46.5M624 46.5V24.5H690.5 V31.9M524.4 25.9V7.2H657.3 V24.5" stroke="#3A3A3A" stroke-width="1" fill="none"/>
<path d="M464.9 57.5H469M464.9 58.4H469M464.9 57.5V58.4M464.4 57.9H464.9M464.4 59.3H469M464.4 57.9V59.3M463.9 58.6H464.4M465 60.2H469M465 60.8H469M465 60.2V60.8M463.9 60.5H465M463.9 58.6V60.5M449.1 59.6H463.9M464.7 61.6H469M465.2 62.4H469M465.7 63.1H469M465.7 63.6H469M465.7 63.1V63.6M465.2 63.4H465.7M465.2 62.4V63.4M464.7 62.9H465.2M464.7 61.6V62.9M449.1 62.3H464.7M449.1 59.6V62.3M440.8 60.9H449.1M464.1 64.2H469M464.1 64.9H469M464.1 64.2V64.9M463.6 64.5H464.1M464.1 65.9H469M465.1 66.6H469M465.1 67.1H469M465.1 66.6V67.1M464.6 66.8H465.1M464.6 67.7H469M464.6 66.8V67.7M464.1 67.3H464.6M464.1 65.9V67.3M463.6 66.6H464.1M463.6 64.5V66.6M449.9 65.6H463.6M465.9 68.5H469M465.9 69.2H469M465.9 68.5V69.2M465.4 68.8H465.9M465.4 69.8H469M465.4 68.8V69.8M449.9 69.3H465.4M449.9 65.6V69.3M445.3 67.4H449.9M465.1 70.3H469M465.1 70.9H469M465.1 70.3V70.9M464.6 70.6H465.1M465.1 71.5H469M465.1 72.2H469M465.1 71.5V72.2M464.6 71.9H465.1M464.6 70.6V71.9M463 71.2H464.6M463.5 73.1H469M463.5 73.7H469M463.5 73.1V73.7M463 73.4H463.5M463 71.2V73.4M459.1 72.3H463M459.6 74.5H469M459.6 75.4H469M459.6 74.5V75.4M459.1 74.9H459.6M459.1 72.3V74.9M451.1 73.6H459.1M464 76.2H469M464 77.1H469M464 76.2V77.1M460.2 76.7H464M463.1 77.8H469M463.1 78.4H469M463.1 77.8V78.4M460.7 78.1H463.1M465.3 79H469M465.3 79.6H469M465.3 79V79.6M460.7 79.3H465.3M460.7 78.1V79.3M460.2 78.7H460.7M460.2 76.7V78.7M451.1 77.7H460.2M451.1 73.6V77.7M445.3 75.6H451.1M445.3 67.4V75.6M440.8 71.5H445.3M440.8 60.9V71.5M435.6 66.2H440.8M465.4 80.3H469M465.4 80.9H469M465.4 80.3V80.9M464.9 80.6H465.4M464.9 81.6H469M464.9 80.6V81.6M459.4 81.1H464.9M461.7 82.3H469M461.7 82.9H469M461.7 82.3V82.9M459.4 82.6H461.7M459.4 81.1V82.6M458.9 81.9H459.4M459.4 83.6H469M459.4 84.4H469M459.4 83.6V84.4M458.9 84H459.4M458.9 81.9V84M452.2 82.9H458.9M462.9 85.1H469M462.9 85.7H469M462.9 85.1V85.7M462.4 85.4H462.9M462.4 86.2H469M462.4 85.4V86.2M458.2 85.8H462.4M461.9 87.1H469M462.4 87.9H469M462.4 88.6H469M462.4 87.9V88.6M461.9 88.2H462.4M461.9 87.1V88.2M458.2 87.7H461.9M458.2 85.8V87.7M456.3 86.7H458.2M458.1 89.4H469M463 90.2H469M463 90.9H469M463 90.2V90.9M458.1 90.6H463M458.1 89.4V90.6M456.3 90H458.1M456.3 86.7V90M455.5 88.4H456.3M465.4 91.4H469M465.4 91.9H469M465.4 91.4V91.9M458.8 91.7H465.4M460.7 92.7H469M462.3 93.6H469M462.3 94.4H469M462.3 93.6V94.4M460.7 94H462.3M460.7 92.7V94M458.8 93.4H460.7M458.8 91.7V93.4M455.5 92.5H458.8M455.5 88.4V92.5M452.2 90.4H455.5M452.2 82.9V90.4M450.1 86.7H452.2M464.2 95H469M464.7 95.8H469M464.7 96.4H469M464.7 95.8V96.4M464.2 96.1H464.7M464.2 95V96.1M457.8 95.6H464.2M463 96.9H469M463 97.6H469M463 96.9V97.6M462.5 97.3H463M462.5 98.3H469M462.5 97.3V98.3M457.8 97.8H462.5M457.8 95.6V97.8M454.9 96.7H457.8M459.9 99H469M459.9 99.6H469M459.9 99V99.6M458.7 99.3H459.9M458.7 100.3H469M458.7 99.3V100.3M454.9 99.8H458.7M454.9 96.7V99.8M453.5 98.2H454.9M466.3 100.9H469M466.3 101.6H469M466.3 100.9V101.6M465.8 101.3H466.3M465.8 102.4H469M465.8 101.3V102.4M465.3 101.8H465.8M465.8 103.2H469M466.3 104.1H469M466.3 104.9H469M466.3 104.1V104.9M465.8 104.5H466.3M465.8 103.2V104.5M465.3 103.9H465.8M465.3 101.8V103.9M456.5 102.8H465.3M465.7 105.4H469M465.7 106.1H469M465.7 105.4V106.1M465.2 105.7H465.7M465.7 106.7H469M465.7 107.2H469M465.7 106.7V107.2M465.2 106.9H465.7M465.2 105.7V106.9M456.5 106.3H465.2M456.5 102.8V106.3M453.5 104.6H456.5M453.5 98.2V104.6M450.1 101.4H453.5M450.1 86.7V101.4M447.7 94H450.1M463.8 107.9H469M463.8 108.6H469M463.8 107.9V108.6M463.3 108.2H463.8M463.3 109.4H469M463.3 108.2V109.4M462.8 108.8H463.3M463.7 110.4H469M463.7 111.2H469M463.7 110.4V111.2M462.8 110.8H463.7M462.8 108.8V110.8M457 109.8H462.8M462.7 112H469M462.7 113H469M462.7 112V113M459.9 112.5H462.7M459.9 113.9H469M459.9 112.5V113.9M457 113.2H459.9M457 109.8V113.2M455.3 111.5H457M461.2 114.8H469M461.2 115.4H469M461.2 114.8V115.4M459.5 115.1H461.2M459.5 116.1H469M459.5 115.1V116.1M457.6 115.6H459.5M463.2 117H469M463.2 117.6H469M463.2 117V117.6M462.7 117.3H463.2M462.7 118.3H469M462.7 117.3V118.3M457.6 117.8H462.7M457.6 115.6V117.8M455.3 116.7H457.6M455.3 111.5V116.7M453.3 114.1H455.3M465.3 119.2H469M465.3 119.9H469M465.3 119.2V119.9M464.5 119.5H465.3M464.5 120.6H469M464.5 119.5V120.6M460.3 120.1H464.5M461.6 121.5H469M461.6 122.2H469M461.6 121.5V122.2M460.3 121.9H461.6M460.3 120.1V121.9M456 121H460.3M465 122.9H469M465 123.6H469M465 122.9V123.6M458.8 123.2H465M458.8 124.4H469M458.8 123.2V124.4M456 123.8H458.8M456 121V123.8M453.3 122.4H456M453.3 114.1V122.4M447.7 118.3H453.3M447.7 94V118.3M446.1 106.1H447.7M464.7 125.2H469M464.7 125.9H469M464.7 125.2V125.9M464.2 125.5H464.7M464.7 126.6H469M464.7 127.4H469M464.7 126.6V127.4M464.2 127H464.7M464.2 125.5V127M463.7 126.3H464.2M464.2 128.2H469M464.7 129.1H469M464.7 129.9H469M464.7 129.1V129.9M464.2 129.5H464.7M464.2 128.2V129.5M463.7 128.9H464.2M463.7 126.3V128.9M454.3 127.6H463.7M463 130.6H469M463 131.5H469M463 130.6V131.5M462.5 131.1H463M463.5 132.3H469M463.5 132.9H469M463.5 132.3V132.9M463 132.6H463.5M463.5 133.7H469M464 134.4H469M464 135.3H469M464 134.4V135.3M463.5 134.9H464M463.5 133.7V134.9M463 134.3H463.5M463 132.6V134.3M462.5 133.4H463M462.5 131.1V133.4M455.7 132.2H462.5M463.4 136H469M463.4 136.8H469M463.4 136V136.8M462.9 136.4H463.4M462.9 137.5H469M462.9 136.4V137.5M462.4 136.9H462.9M462.9 138.3H469M462.9 139.2H469M462.9 138.3V139.2M462.4 138.8H462.9M462.4 136.9V138.8M455.7 137.9H462.4M455.7 132.2V137.9M454.3 135H455.7M454.3 127.6V135M450 131.3H454.3M462.4 140.1H469M462.9 140.7H469M462.9 141.4H469M462.9 140.7V141.4M462.4 141.1H462.9M462.4 140.1V141.1M454.8 140.6H462.4M464.5 142.2H469M464.5 142.9H469M464.5 142.2V142.9M464 142.6H464.5M464.5 143.6H469M465 144.1H469M465 144.7H469M465 144.1V144.7M464.5 144.4H465M464.5 143.6V144.4M464 144H464.5M464 142.6V144M462.1 143.3H464M465.2 145.4H469M465.2 146.1H469M465.2 145.4V146.1M462.1 145.8H465.2M462.1 143.3V145.8M454.8 144.5H462.1M454.8 140.6V144.5M452.5 142.5H454.8M464.6 146.6H469M465.1 147.2H469M465.1 147.8H469M465.1 147.2V147.8M464.6 147.5H465.1M464.6 146.6V147.5M462.4 147H464.6M462.9 148.4H469M463.4 149.3H469M463.4 150H469M463.4 149.3V150M462.9 149.6H463.4M462.9 148.4V149.6M462.4 149H462.9M462.4 147V149M452.5 148H462.4M452.5 142.5V148M450 145.3H452.5M450 131.3V145.3M446.1 138.3H450M446.1 106.1V138.3M440 122.2H446.1M465.3 150.7H469M465.3 151.7H469M465.3 150.7V151.7M462.3 151.2H465.3M465.4 152.6H469M465.4 153.2H469M465.4 152.6V153.2M462.8 152.9H465.4M463.3 154H469M463.3 154.8H469M463.3 154V154.8M462.8 154.4H463.3M462.8 152.9V154.4M462.3 153.7H462.8M462.3 151.2V153.7M456.5 152.4H462.3M461 155.6H469M461 156.3H469M461 155.6V156.3M458.5 155.9H461M463.8 157H469M463.8 157.6H469M463.8 157V157.6M458.5 157.3H463.8M458.5 155.9V157.3M456.5 156.6H458.5M456.5 152.4V156.6M453.7 154.5H456.5M464.3 158.1H469M464.3 158.7H469M464.3 158.1V158.7M463.8 158.4H464.3M465.4 159.5H469M465.9 160.2H469M465.9 160.8H469M465.9 160.2V160.8M465.4 160.5H465.9M465.4 159.5V160.5M463.8 160H465.4M463.8 158.4V160M459.7 159.2H463.8M462.7 161.5H469M462.7 162.2H469M462.7 161.5V162.2M459.7 161.8H462.7M459.7 159.2V161.8M454.9 160.5H459.7M463.9 162.9H469M463.9 163.7H469M463.9 162.9V163.7M463.4 163.3H463.9M464.4 164.5H469M464.4 165.1H469M464.4 164.5V165.1M463.9 164.8H464.4M464.4 165.8H469M464.4 166.6H469M464.4 165.8V166.6M463.9 166.2H464.4M463.9 164.8V166.2M463.4 165.5H463.9M463.4 163.3V165.5M454.9 164.4H463.4M454.9 160.5V164.4M453.7 162.5H454.9M453.7 154.5V162.5M446.8 158.5H453.7M465.6 167.4H469M465.6 167.9H469M465.6 167.4V167.9M465.1 167.6H465.6M465.1 168.5H469M465.1 167.6V168.5M464.6 168.1H465.1M465.1 169.3H469M465.1 170.1H469M465.1 169.3V170.1M464.6 169.7H465.1M464.6 168.1V169.7M461.1 168.9H464.6M462.1 170.7H469M462.1 171.3H469M462.1 170.7V171.3M461.6 171H462.1M461.6 171.9H469M461.6 171V171.9M461.1 171.5H461.6M461.1 168.9V171.5M454.3 170.2H461.1M463.1 172.5H469M463.1 173H469M463.1 172.5V173M460.4 172.7H463.1M460.4 173.7H469M460.4 172.7V173.7M459.9 173.2H460.4M460.4 174.3H469M460.4 174.9H469M460.4 174.3V174.9M459.9 174.6H460.4M459.9 173.2V174.6M456.6 173.9H459.9M465.3 175.5H469M465.3 176.3H469M465.3 175.5V176.3M464.8 175.9H465.3M465.8 177.1H469M465.8 177.8H469M465.8 177.1V177.8M465.3 177.4H465.8M465.8 178.3H469M466.3 179H469M466.3 179.6H469M466.3 179V179.6M465.8 179.3H466.3M465.8 178.3V179.3M465.3 178.8H465.8M465.3 177.4V178.8M464.8 178.1H465.3M464.8 175.9V178.1M456.6 177H464.8M456.6 173.9V177M454.3 175.5H456.6M454.3 170.2V175.5M452.8 172.8H454.3M465.8 180.2H469M466.3 180.9H469M466.8 181.6H469M466.8 182.2H469M466.8 181.6V182.2M466.3 181.9H466.8M466.3 180.9V181.9M465.8 181.4H466.3M465.8 180.2V181.4M465.3 180.8H465.8M465.8 182.5H469M465.8 183.1H469M465.8 182.5V183.1M465.3 182.8H465.8M465.3 180.8V182.8M456.5 181.8H465.3M460.3 183.9H469M460.3 184.8H469M460.3 183.9V184.8M459.8 184.3H460.3M459.8 185.6H469M459.8 184.3V185.6M456.5 184.9H459.8M456.5 181.8V184.9M455.8 183.4H456.5M462.5 186.3H469M463 186.8H469M463 187.4H469M463 186.8V187.4M462.5 187.1H463M462.5 186.3V187.1M460.8 186.7H462.5M461.3 188.2H469M464.5 188.9H469M464.5 189.5H469M464.5 188.9V189.5M462.1 189.2H464.5M462.1 190.3H469M462.1 189.2V190.3M461.3 189.8H462.1M461.3 188.2V189.8M460.8 189H461.3M460.8 186.7V189M455.8 187.8H460.8M455.8 183.4V187.8M452.8 185.6H455.8M452.8 172.8V185.6M446.8 179.2H452.8M446.8 158.5V179.2M444.2 168.9H446.8M461.5 191.2H469M461.5 191.9H469M461.5 191.2V191.9M458.7 191.6H461.5M461.9 192.4H469M461.9 193H469M461.9 192.4V193M458.7 192.7H461.9M458.7 191.6V192.7M457.9 192.1H458.7M459.6 193.7H469M459.6 194.6H469M459.6 193.7V194.6M457.9 194.2H459.6M457.9 192.1V194.2M456 193.1H457.9M462.1 195.3H469M462.1 195.9H469M462.1 195.3V195.9M461.6 195.6H462.1M463.4 196.5H469M463.9 197.3H469M463.9 197.9H469M463.9 197.3V197.9M463.4 197.6H463.9M463.4 196.5V197.6M461.6 197.1H463.4M461.6 195.6V197.1M459.5 196.3H461.6M460.5 198.4H469M460.5 199H469M460.5 198.4V199M460 198.7H460.5M460 199.9H469M460 198.7V199.9M459.5 199.3H460M459.5 196.3V199.3M456 197.8H459.5M456 193.1V197.8M452.6 195.5H456M465.5 200.7H469M465.5 201.2H469M465.5 200.7V201.2M465 200.9H465.5M465 201.8H469M465 200.9V201.8M464.5 201.4H465M465 202.6H469M465.5 203.3H469M465.5 203.9H469M465.5 203.3V203.9M465 203.6H465.5M465 202.6V203.6M464.5 203.1H465M464.5 201.4V203.1M455.3 202.2H464.5M465.8 204.4H469M465.8 204.9H469M465.8 204.4V204.9M465.3 204.6H465.8M465.3 205.7H469M465.3 204.6V205.7M459.3 205.2H465.3M463 206.6H469M463 207.4H469M463 206.6V207.4M462.5 207H463M463 208.3H469M463.5 209H469M463.5 209.6H469M463.5 209V209.6M463 209.3H463.5M463 208.3V209.3M462.5 208.8H463M462.5 207V208.8M459.3 207.9H462.5M459.3 205.2V207.9M455.3 206.6H459.3M455.3 202.2V206.6M452.6 204.4H455.3M452.6 195.5V204.4M447.6 199.9H452.6M463.4 210.4H469M463.4 211.4H469M463.4 210.4V211.4M462.2 210.9H463.4M462.7 212.1H469M463.2 212.6H469M463.2 213.1H469M463.2 212.6V213.1M462.7 212.8H463.2M462.7 212.1V212.8M462.2 212.5H462.7M462.2 210.9V212.5M457 211.7H462.2M465.1 213.8H469M465.6 214.4H469M465.6 215H469M465.6 214.4V215M465.1 214.7H465.6M465.1 213.8V214.7M464.6 214.2H465.1M465.1 215.6H469M465.1 216.4H469M465.1 215.6V216.4M464.6 216H465.1M464.6 214.2V216M457 215.1H464.6M457 211.7V215.1M455.2 213.4H457M458.7 217.4H469M460.5 218.2H469M460.5 219H469M460.5 218.2V219M458.7 218.6H460.5M458.7 217.4V218.6M456.6 218H458.7M465 219.9H469M465.5 220.5H469M465.5 221H469M465.5 220.5V221M465 220.7H465.5M465 219.9V220.7M464.5 220.3H465M466 221.7H469M466 222.2H469M466 221.7V222.2M465.5 221.9H466M465.5 222.6H469M465.5 221.9V222.6M465 222.3H465.5M465.5 223.4H469M465.5 224.2H469M465.5 223.4V224.2M465 223.8H465.5M465 222.3V223.8M464.5 223H465M464.5 220.3V223M456.6 221.7H464.5M456.6 218V221.7M455.2 219.8H456.6M455.2 213.4V219.8M451.5 216.6H455.2M463.3 225H469M463.8 225.7H469M464.3 226.1H469M464.3 226.7H469M464.3 226.1V226.7M463.8 226.4H464.3M463.8 225.7V226.4M463.3 226.1H463.8M463.3 225V226.1M459.8 225.5H463.3M461.2 227.3H469M461.2 228H469M461.2 227.3V228M460.7 227.7H461.2M460.7 228.7H469M460.7 227.7V228.7M459.8 228.2H460.7M459.8 225.5V228.2M455.6 226.8H459.8M463.4 229.4H469M463.4 230.1H469M463.4 229.4V230.1M461.2 229.7H463.4M461.7 230.7H469M462.9 231.5H469M462.9 232.1H469M462.9 231.5V232.1M461.7 231.8H462.9M461.7 230.7V231.8M461.2 231.3H461.7M461.2 229.7V231.3M455.6 230.5H461.2M455.6 226.8V230.5M454.4 228.7H455.6M465.3 232.6H469M465.8 233.2H469M465.8 233.8H469M465.8 233.2V233.8M465.3 233.5H465.8M465.3 232.6V233.5M462.7 233H465.3M463.2 234.4H469M463.7 235.1H469M463.7 235.8H469M463.7 235.1V235.8M463.2 235.5H463.7M463.2 234.4V235.5M462.7 234.9H463.2M462.7 233V234.9M454.4 234H462.7M454.4 228.7V234M451.5 231.3H454.4M451.5 216.6V231.3M447.6 224H451.5M447.6 199.9V224M444.2 212H447.6M444.2 168.9V212M440 190.4H444.2M440 122.2V190.4M435.6 156.3H440M435.6 66.2V156.3" stroke="#111" stroke-width="0.65" fill="none"/>
<path d="M453.9 236.4H469M454.4 237.1H469M454.4 237.7H469M454.4 237.1V237.7M453.9 237.4H454.4M453.9 236.4V237.4M453.4 236.9H453.9M453.4 238.5H469M453.4 236.9V238.5M450.1 237.7H453.4M450.6 239.2H469M450.6 240H469M450.6 239.2V240M450.1 239.6H450.6M450.1 237.7V239.6M441.7 238.6H450.1M457.3 240.7H469M457.3 241.2H469M457.3 240.7V241.2M449.9 240.9H457.3M454.1 241.8H469M454.1 242.4H469M454.1 241.8V242.4M453.6 242.1H454.1M454.1 243H469M454.1 243.7H469M454.1 243V243.7M453.6 243.3H454.1M453.6 242.1V243.3M449.9 242.7H453.6M449.9 240.9V242.7M445.2 241.8H449.9M454.8 244.4H469M455.3 245.2H469M455.3 245.9H469M455.3 245.2V245.9M454.8 245.5H455.3M454.8 244.4V245.5M454.3 245H454.8M454.8 246.5H469M454.8 247.1H469M454.8 246.5V247.1M454.3 246.8H454.8M454.3 245V246.8M453.8 245.9H454.3M454.5 248H469M454.5 248.8H469M454.5 248V248.8M453.8 248.4H454.5M453.8 245.9V248.4M445.2 247.2H453.8M445.2 241.8V247.2M441.7 244.5H445.2M441.7 238.6V244.5M436.5 241.6H441.7M454.1 249.3H469M454.1 249.9H469M454.1 249.3V249.9M453.6 249.6H454.1M456.2 250.6H469M456.2 251.3H469M456.2 250.6V251.3M455.7 250.9H456.2M455.7 252.2H469M455.7 250.9V252.2M453.6 251.5H455.7M453.6 249.6V251.5M453.1 250.6H453.6M453.6 253H469M454.1 253.7H469M454.1 254.3H469M454.1 253.7V254.3M453.6 254H454.1M453.6 253V254M453.1 253.5H453.6M453.1 250.6V253.5M444.5 252H453.1M450.5 254.9H469M451.8 255.5H469M451.8 256H469M451.8 255.5V256M450.5 255.7H451.8M450.5 254.9V255.7M450 255.3H450.5M450.5 256.6H469M450.5 257.2H469M450.5 256.6V257.2M450 256.9H450.5M450 255.3V256.9M447.2 256.1H450M455.2 257.8H469M455.2 258.3H469M455.2 257.8V258.3M454.7 258.1H455.2M454.7 259H469M454.7 258.1V259M453.9 258.5H454.7M453.9 259.8H469M453.9 258.5V259.8M452 259.1H453.9M456 260.7H469M456 261.6H469M456 260.7V261.6M452 261.2H456M452 259.1V261.2M447.2 260.1H452M447.2 256.1V260.1M444.5 258.1H447.2M444.5 252V258.1M436.5 255.1H444.5M436.5 241.6V255.1M431.4 248.3H436.5M452.1 262.2H469M452.1 263H469M452.1 262.2V263M451.6 262.6H452.1M455.6 263.7H469M455.6 264.3H469M455.6 263.7V264.3M451.6 264H455.6M451.6 262.6V264M447.3 263.3H451.6M450.5 264.9H469M450.5 265.6H469M450.5 264.9V265.6M449.7 265.2H450.5M456.9 266.4H469M457.4 267H469M457.4 267.6H469M457.4 267V267.6M456.9 267.3H457.4M456.9 266.4V267.3M456.4 266.8H456.9M456.4 268.5H469M456.4 266.8V268.5M449.7 267.6H456.4M449.7 265.2V267.6M447.3 266.4H449.7M447.3 263.3V266.4M446.1 264.9H447.3M455.3 269.3H469M455.8 270.1H469M455.8 270.9H469M455.8 270.1V270.9M455.3 270.5H455.8M455.3 269.3V270.5M454.2 269.9H455.3M455.2 271.7H469M455.2 272.4H469M455.2 271.7V272.4M454.2 272.1H455.2M454.2 269.9V272.1M447.7 271H454.2M457.3 273.1H469M457.3 273.7H469M457.3 273.1V273.7M456.8 273.4H457.3M457.3 274.4H469M457.3 275H469M457.3 274.4V275M456.8 274.7H457.3M456.8 273.4V274.7M450.4 274H456.8M454.3 275.5H469M456 276.2H469M456 276.9H469M456 276.2V276.9M454.3 276.6H456M454.3 275.5V276.6M453.8 276.1H454.3M453.8 277.8H469M453.8 276.1V277.8M450.4 276.9H453.8M450.4 274V276.9M449.3 275.5H450.4M453.4 278.7H469M453.4 279.3H469M453.4 278.7V279.3M450.4 279H453.4M452.6 279.8H469M452.6 280.3H469M452.6 279.8V280.3M450.4 280H452.6M450.4 279V280M449.9 279.5H450.4M449.9 281.2H469M449.9 279.5V281.2M449.3 280.3H449.9M449.3 275.5V280.3M447.7 277.9H449.3M447.7 271V277.9M446.1 274.5H447.7M446.1 264.9V274.5M443.4 269.7H446.1M455.5 282.1H469M456 282.7H469M456 283.3H469M456 282.7V283.3M455.5 283H456M455.5 282.1V283M454 282.6H455.5M457.9 284.1H469M457.9 284.9H469M457.9 284.1V284.9M457.4 284.5H457.9M457.4 285.7H469M457.4 284.5V285.7M454 285.1H457.4M454 282.6V285.1M445.9 283.8H454M456.7 286.4H469M456.7 287.1H469M456.7 286.4V287.1M456.2 286.8H456.7M456.7 287.9H469M456.7 288.5H469M456.7 287.9V288.5M456.2 288.2H456.7M456.2 286.8V288.2M447.7 287.5H456.2M457.2 289.2H469M457.2 290.1H469M457.2 289.2V290.1M456.7 289.6H457.2M458.2 290.8H469M458.2 291.4H469M458.2 290.8V291.4M457.7 291.1H458.2M457.7 292.1H469M457.7 291.1V292.1M457.2 291.6H457.7M457.2 293H469M457.2 291.6V293M456.7 292.3H457.2M456.7 289.6V292.3M447.7 291H456.7M447.7 287.5V291M445.9 289.2H447.7M445.9 283.8V289.2M443.4 286.5H445.9M443.4 269.7V286.5M441.7 278.1H443.4M452.5 293.9H469M452.5 294.8H469M452.5 293.9V294.8M452 294.3H452.5M456 295.8H469M456 296.5H469M456 295.8V296.5M453.8 296.1H456M453.8 297.1H469M453.8 296.1V297.1M453.3 296.6H453.8M455 297.9H469M455 298.7H469M455 297.9V298.7M453.3 298.3H455M453.3 296.6V298.3M452 297.5H453.3M452 294.3V297.5M447.1 295.9H452M455.4 299.2H469M455.4 299.8H469M455.4 299.2V299.8M454.9 299.5H455.4M455.4 300.4H469M455.4 301H469M455.4 300.4V301M454.9 300.7H455.4M454.9 299.5V300.7M452.4 300.1H454.9M455.2 301.5H469M455.2 302.1H469M455.2 301.5V302.1M454.1 301.8H455.2M454.1 302.8H469M454.1 301.8V302.8M452.4 302.3H454.1M452.4 300.1V302.3M448.6 301.2H452.4M456.9 303.7H469M457.4 304.4H469M457.4 305.2H469M457.4 304.4V305.2M456.9 304.8H457.4M456.9 303.7V304.8M448.6 304.3H456.9M448.6 301.2V304.3M447.1 302.7H448.6M447.1 295.9V302.7M445.5 299.3H447.1M456 306H469M456 306.7H469M456 306V306.7M455.5 306.4H456M456.7 307.3H469M456.7 307.9H469M456.7 307.3V307.9M455.5 307.6H456.7M455.5 306.4V307.6M455 307H455.5M457.3 308.6H469M457.3 309.3H469M457.3 308.6V309.3M455 308.9H457.3M455 307V308.9M449.5 308H455M452.6 310H469M453.1 310.5H469M453.1 311.3H469M453.1 310.5V311.3M452.6 310.9H453.1M452.6 310V310.9M449.5 310.4H452.6M449.5 308V310.4M448.1 309.2H449.5M457.3 312H469M457.8 312.6H469M457.8 313.1H469M457.8 312.6V313.1M457.3 312.8H457.8M457.3 312V312.8M456.8 312.4H457.3M457.3 313.7H469M457.3 314.4H469M457.3 313.7V314.4M456.8 314H457.3M456.8 312.4V314M454.7 313.2H456.8M456.6 315H469M456.6 315.8H469M456.6 315V315.8M454.7 315.4H456.6M454.7 313.2V315.4M448.1 314.3H454.7M448.1 309.2V314.3M445.5 311.8H448.1M445.5 299.3V311.8M441.7 305.5H445.5M441.7 278.1V305.5M437.5 291.8H441.7M456.1 316.8H469M456.1 317.7H469M456.1 316.8V317.7M455.6 317.2H456.1M456.6 318.5H469M456.6 319.4H469M456.6 318.5V319.4M456.1 319H456.6M456.1 320.4H469M456.1 319V320.4M455.6 319.7H456.1M455.6 317.2V319.7M446.7 318.4H455.6M456.7 321.3H469M457.2 322H469M457.2 322.5H469M457.2 322V322.5M456.7 322.3H457.2M456.7 321.3V322.3M452.9 321.8H456.7M457.2 323.1H469M457.7 323.7H469M457.7 324.2H469M457.7 323.7V324.2M457.2 324H457.7M457.2 323.1V324M452.9 323.5H457.2M452.9 321.8V323.5M446.7 322.7H452.9M446.7 318.4V322.7M445 320.6H446.7M454.5 325H469M455 325.9H469M455 326.6H469M455 325.9V326.6M454.5 326.3H455M454.5 325V326.3M454 325.6H454.5M455.5 327.2H469M455.5 327.8H469M455.5 327.2V327.8M455 327.5H455.5M455 328.5H469M455 327.5V328.5M454 328H455M454 325.6V328M445 326.8H454M445 320.6V326.8M440.2 323.7H445M456.7 329.2H469M456.7 330H469M456.7 329.2V330M456.2 329.6H456.7M456.7 330.7H469M457.2 331.3H469M457.2 331.8H469M457.2 331.3V331.8M456.7 331.5H457.2M456.7 330.7V331.5M456.2 331.1H456.7M456.2 329.6V331.1M451.3 330.4H456.2M455.4 332.5H469M455.4 333.1H469M455.4 332.5V333.1M451.8 332.8H455.4M451.8 333.9H469M451.8 332.8V333.9M451.3 333.3H451.8M451.3 330.4V333.3M448.9 331.8H451.3M457.4 334.7H469M457.4 335.2H469M457.4 334.7V335.2M456.9 334.9H457.4M456.9 335.6H469M456.9 334.9V335.6M455.9 335.3H456.9M456.4 336H469M456.4 336.6H469M456.4 336V336.6M455.9 336.3H456.4M455.9 335.3V336.3M448.9 335.8H455.9M448.9 331.8V335.8M447.5 333.8H448.9M452.5 337.4H469M452.5 338.2H469M452.5 337.4V338.2M450 337.8H452.5M455.4 339.1H469M455.4 339.9H469M455.4 339.1V339.9M454.9 339.5H455.4M455.4 340.6H469M455.4 341.2H469M455.4 340.6V341.2M454.9 340.9H455.4M454.9 339.5V340.9M450 340.2H454.9M450 337.8V340.2M447.5 339H450M447.5 333.8V339M445.8 336.4H447.5M457.1 341.7H469M457.1 342.3H469M457.1 341.7V342.3M453.5 342H457.1M453.5 343H469M453.5 342V343M452.5 342.5H453.5M455.6 343.7H469M455.6 344.3H469M455.6 343.7V344.3M452.5 344H455.6M452.5 342.5V344M450.4 343.2H452.5M451.9 345.1H469M453.3 345.9H469M453.3 346.8H469M453.3 345.9V346.8M451.9 346.4H453.3M451.9 345.1V346.4M450.4 345.7H451.9M450.4 343.2V345.7M445.8 344.5H450.4M445.8 336.4V344.5M440.2 340.4H445.8M440.2 323.7V340.4M437.5 332.1H440.2M437.5 291.8V332.1M431.4 311.9H437.5M431.4 248.3V311.9M429.7 111.3V280.1M429.7 111.3H435.6M429.7 280.1H431.4" stroke="#000" stroke-width="1.0" fill="none"/>
<text transform="translate(488.4 350) rotate(90)" font-size="7.3" fill="#000" stroke="#000" stroke-width="0.12" font-family="Liberation Sans, sans-serif">Gb_YL3</text>
<text transform="translate(532.8 350) rotate(90)" font-size="7.3" fill="#000" stroke="#000" stroke-width="0.12" font-family="Liberation Sans, sans-serif">Gb_YL1</text>
<text transform="translate(577 350) rotate(90)" font-size="7.3" fill="#000" stroke="#000" stroke-width="0.12" font-family="Liberation Sans, sans-serif">Gb_YL2</text>
<text transform="translate(621.3 350) rotate(90)" font-size="7.3" fill="#000" stroke="#000" stroke-width="0.12" font-family="Liberation Sans, sans-serif">Gb_GL1</text>
<text transform="translate(665.6 350) rotate(90)" font-size="7.3" fill="#000" stroke="#000" stroke-width="0.12" font-family="Liberation Sans, sans-serif">Gb_GL2</text>
<text transform="translate(709.9 350) rotate(90)" font-size="7.3" fill="#000" stroke="#000" stroke-width="0.12" font-family="Liberation Sans, sans-serif">Gb_GL3</text>
<text x="737.8" y="54" font-size="7.4" font-weight="bold" fill="#111" font-family="Liberation Sans, sans-serif">condition</text>
<rect x="738.8" y="57.1" width="7.4" height="3.1" fill="#ff0606"/><rect x="738.8" y="59.9" width="7.4" height="3.1" fill="#ff1313"/><rect x="738.8" y="62.7" width="7.4" height="3.1" fill="#ff2020"/><rect x="738.8" y="65.5" width="7.4" height="3.1" fill="#ff2d2d"/><rect x="738.8" y="68.3" width="7.4" height="3.1" fill="#ff3939"/><rect x="738.8" y="71.1" width="7.4" height="3.1" fill="#ff4646"/><rect x="738.8" y="73.9" width="7.4" height="3.1" fill="#ff5353"/><rect x="738.8" y="76.7" width="7.4" height="3.1" fill="#ff6060"/><rect x="738.8" y="79.5" width="7.4" height="3.1" fill="#ff6c6c"/><rect x="738.8" y="82.3" width="7.4" height="3.1" fill="#ff7979"/><rect x="738.8" y="85.2" width="7.4" height="3.1" fill="#ff8686"/><rect x="738.8" y="88" width="7.4" height="3.1" fill="#ff9393"/><rect x="738.8" y="90.8" width="7.4" height="3.1" fill="#ff9f9f"/><rect x="738.8" y="93.6" width="7.4" height="3.1" fill="#ffacac"/><rect x="738.8" y="96.4" width="7.4" height="3.1" fill="#ffb9b9"/><rect x="738.8" y="99.2" width="7.4" height="3.1" fill="#ffc6c6"/><rect x="738.8" y="102" width="7.4" height="3.1" fill="#ffd2d2"/><rect x="738.8" y="104.8" width="7.4" height="3.1" fill="#ffdfdf"/><rect x="738.8" y="107.6" width="7.4" height="3.1" fill="#ffecec"/><rect x="738.8" y="110.4" width="7.4" height="3.1" fill="#fff9f9"/><rect x="738.8" y="113.2" width="7.4" height="3.1" fill="#f9f9ff"/><rect x="738.8" y="116" width="7.4" height="3.1" fill="#ececff"/><rect x="738.8" y="118.8" width="7.4" height="3.1" fill="#dfdfff"/><rect x="738.8" y="121.6" width="7.4" height="3.1" fill="#d2d2ff"/><rect x="738.8" y="124.4" width="7.4" height="3.1" fill="#c6c6ff"/><rect x="738.8" y="127.2" width="7.4" height="3.1" fill="#b9b9ff"/><rect x="738.8" y="130" width="7.4" height="3.1" fill="#acacff"/><rect x="738.8" y="132.8" width="7.4" height="3.1" fill="#9f9fff"/><rect x="738.8" y="135.6" width="7.4" height="3.1" fill="#9393ff"/><rect x="738.8" y="138.4" width="7.4" height="3.1" fill="#8686ff"/><rect x="738.8" y="141.2" width="7.4" height="3.1" fill="#7979ff"/><rect x="738.8" y="144.1" width="7.4" height="3.1" fill="#6c6cff"/><rect x="738.8" y="146.9" width="7.4" height="3.1" fill="#6060ff"/><rect x="738.8" y="149.7" width="7.4" height="3.1" fill="#5353ff"/><rect x="738.8" y="152.5" width="7.4" height="3.1" fill="#4646ff"/><rect x="738.8" y="155.3" width="7.4" height="3.1" fill="#3939ff"/><rect x="738.8" y="158.1" width="7.4" height="3.1" fill="#2d2dff"/><rect x="738.8" y="160.9" width="7.4" height="3.1" fill="#2020ff"/><rect x="738.8" y="163.7" width="7.4" height="3.1" fill="#1313ff"/><rect x="738.8" y="166.5" width="7.4" height="3.1" fill="#0606ff"/>
<text x="749.8" y="61.2" font-size="7.4" fill="#000" stroke="#000" stroke-width="0.12" font-family="Liberation Sans, sans-serif">2</text>
<text x="749.8" y="88.9" font-size="7.4" fill="#000" stroke="#000" stroke-width="0.12" font-family="Liberation Sans, sans-serif">1</text>
<text x="749.8" y="116.6" font-size="7.4" fill="#000" stroke="#000" stroke-width="0.12" font-family="Liberation Sans, sans-serif">0</text>
<text x="749.4" y="144.3" font-size="7.4" fill="#000" stroke="#000" stroke-width="0.12" font-family="Liberation Sans, sans-serif">−1</text>
<text x="749.4" y="172" font-size="7.4" fill="#000" stroke="#000" stroke-width="0.12" font-family="Liberation Sans, sans-serif">−2</text>
<rect x="739.9" y="193" width="10.8" height="10.8" fill="#00D6DE"/>
<rect x="739.9" y="203.8" width="10.8" height="11" fill="#FA8A80"/>
<text x="752.8" y="202.3" font-size="7.4" fill="#000" stroke="#000" stroke-width="0.12" font-family="Liberation Sans, sans-serif">Gb_GL</text>
<text x="752.8" y="213.2" font-size="7.4" fill="#000" stroke="#000" stroke-width="0.12" font-family="Liberation Sans, sans-serif">Gb_YL</text>
</svg>
</body></html>
